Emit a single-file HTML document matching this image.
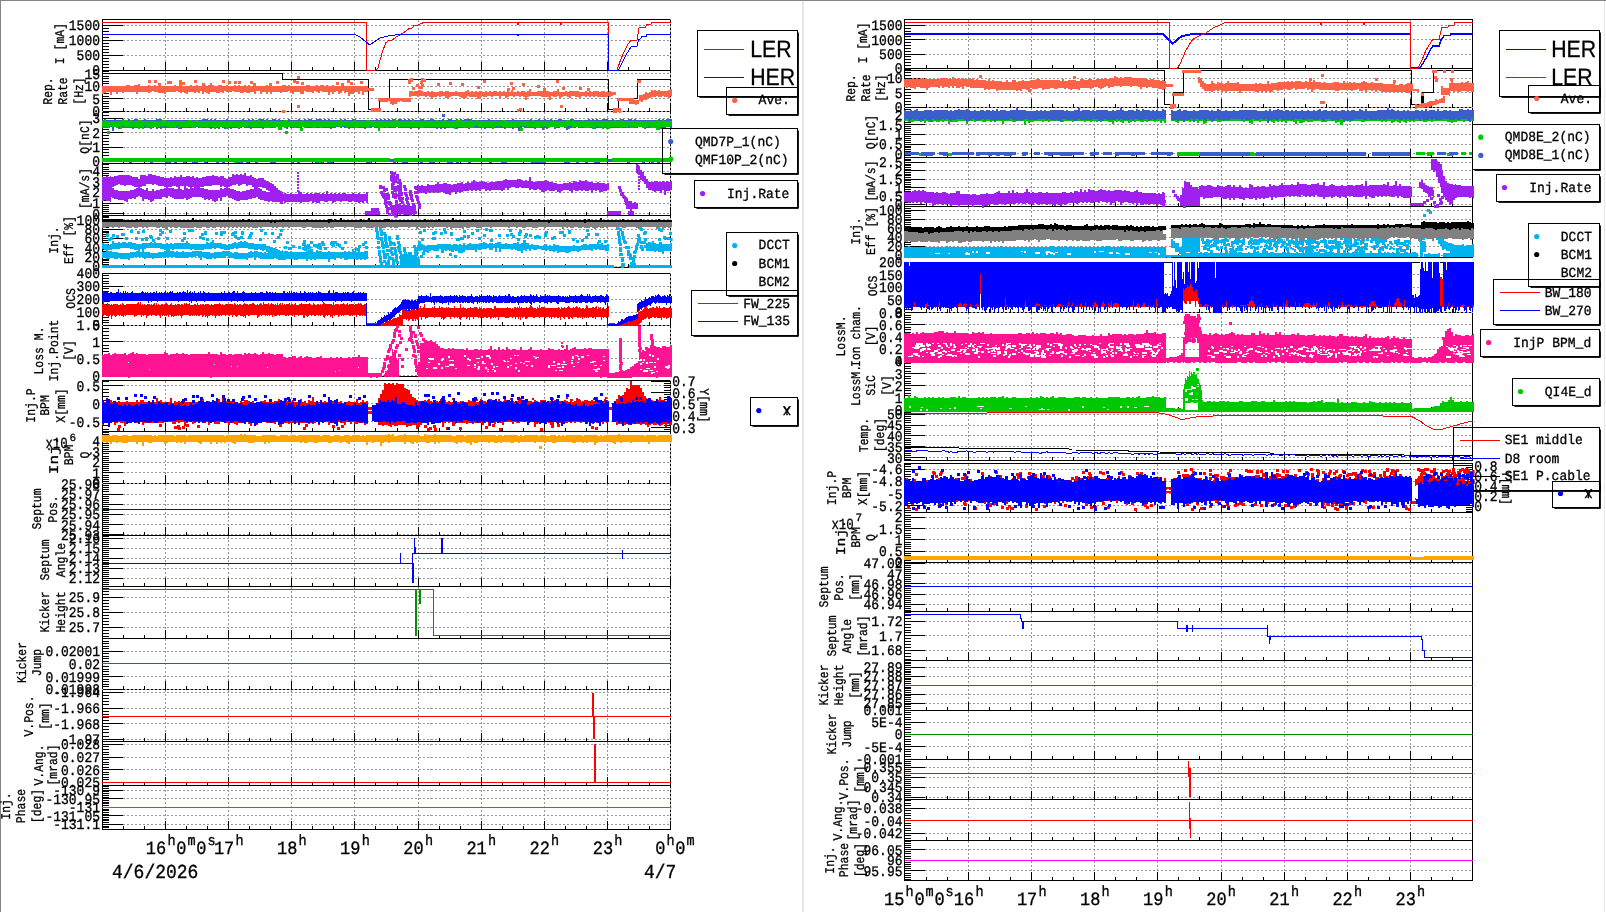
<!DOCTYPE html>
<html lang="en"><head><meta charset="utf-8"><title>Injection monitor</title>
<style>html,body{margin:0;padding:0;background:#fff;}body{width:1606px;height:912px;overflow:hidden;font-family:"Liberation Mono",monospace;}svg{display:block;will-change:transform;}text{stroke:#000;stroke-width:0.3px;}</style></head>
<body>
<svg width="1606" height="912" viewBox="0 0 1606 912" shape-rendering="crispEdges" text-rendering="geometricPrecision">
<rect x="0" y="0" width="1606" height="912" fill="#fff"/>
<rect x="0" y="0" width="1606" height="1" fill="#848484"/>
<rect x="0" y="0" width="1" height="912" fill="#848484"/>
<rect x="802" y="1" width="2" height="912" fill="#e6e6e6"/>
<rect x="1604" y="1" width="1" height="912" fill="#e6e6e6"/>
<path d="M165.5 19.5V70.5M228.5 19.5V70.5M291.5 19.5V70.5M354.5 19.5V70.5M418.5 19.5V70.5M481.5 19.5V70.5M544.5 19.5V70.5M607.5 19.5V70.5M102.5 25.5H670.5M102.5 40.5H670.5M102.5 55.5H670.5M165.5 70.5V111.5M228.5 70.5V111.5M291.5 70.5V111.5M354.5 70.5V111.5M418.5 70.5V111.5M481.5 70.5V111.5M544.5 70.5V111.5M607.5 70.5V111.5M102.5 73.5H670.5M102.5 86.5H670.5M102.5 98.5H670.5M165.5 111.5V163.5M228.5 111.5V163.5M291.5 111.5V163.5M354.5 111.5V163.5M418.5 111.5V163.5M481.5 111.5V163.5M544.5 111.5V163.5M607.5 111.5V163.5M102.5 118.5H670.5M102.5 132.5H670.5M102.5 147.5H670.5M102.5 161.5H670.5M165.5 163.5V215.5M228.5 163.5V215.5M291.5 163.5V215.5M354.5 163.5V215.5M418.5 163.5V215.5M481.5 163.5V215.5M544.5 163.5V215.5M607.5 163.5V215.5M102.5 171.5H670.5M102.5 181.5H670.5M102.5 192.5H670.5M102.5 203.5H670.5M102.5 213.5H670.5M165.5 215.5V267.5M228.5 215.5V267.5M291.5 215.5V267.5M354.5 215.5V267.5M418.5 215.5V267.5M481.5 215.5V267.5M544.5 215.5V267.5M607.5 215.5V267.5M102.5 219.5H670.5M102.5 229.5H670.5M102.5 238.5H670.5M102.5 247.5H670.5M102.5 257.5H670.5M102.5 266.5H670.5M165.5 273.5V325.5M228.5 273.5V325.5M291.5 273.5V325.5M354.5 273.5V325.5M418.5 273.5V325.5M481.5 273.5V325.5M544.5 273.5V325.5M607.5 273.5V325.5M102.5 286.5H670.5M102.5 299.5H670.5M102.5 312.5H670.5M165.5 325.5V376.5M228.5 325.5V376.5M291.5 325.5V376.5M354.5 325.5V376.5M418.5 325.5V376.5M481.5 325.5V376.5M544.5 325.5V376.5M607.5 325.5V376.5M102.5 341.5H670.5M102.5 358.5H670.5M102.5 375.5H670.5M165.5 380.5V431.5M228.5 380.5V431.5M291.5 380.5V431.5M354.5 380.5V431.5M418.5 380.5V431.5M481.5 380.5V431.5M544.5 380.5V431.5M607.5 380.5V431.5M102.5 385.5H670.5M102.5 403.5H670.5M102.5 421.5H670.5M165.5 431.5V483.5M228.5 431.5V483.5M291.5 431.5V483.5M354.5 431.5V483.5M418.5 431.5V483.5M481.5 431.5V483.5M544.5 431.5V483.5M607.5 431.5V483.5M102.5 441.5H670.5M102.5 451.5H670.5M102.5 462.5H670.5M102.5 472.5H670.5M165.5 483.5V535.5M228.5 483.5V535.5M291.5 483.5V535.5M354.5 483.5V535.5M418.5 483.5V535.5M481.5 483.5V535.5M544.5 483.5V535.5M607.5 483.5V535.5M102.5 494.5H670.5M102.5 504.5H670.5M102.5 514.5H670.5M102.5 524.5H670.5M102.5 534.5H670.5M165.5 535.5V586.5M228.5 535.5V586.5M291.5 535.5V586.5M354.5 535.5V586.5M418.5 535.5V586.5M481.5 535.5V586.5M544.5 535.5V586.5M607.5 535.5V586.5M102.5 538.5H670.5M102.5 548.5H670.5M102.5 558.5H670.5M102.5 568.5H670.5M102.5 578.5H670.5M165.5 586.5V638.5M228.5 586.5V638.5M291.5 586.5V638.5M354.5 586.5V638.5M418.5 586.5V638.5M481.5 586.5V638.5M544.5 586.5V638.5M607.5 586.5V638.5M102.5 597.5H670.5M102.5 612.5H670.5M102.5 627.5H670.5M165.5 638.5V689.5M228.5 638.5V689.5M291.5 638.5V689.5M354.5 638.5V689.5M418.5 638.5V689.5M481.5 638.5V689.5M544.5 638.5V689.5M607.5 638.5V689.5M102.5 651.5H670.5M102.5 663.5H670.5M102.5 676.5H670.5M165.5 689.5V741.5M228.5 689.5V741.5M291.5 689.5V741.5M354.5 689.5V741.5M418.5 689.5V741.5M481.5 689.5V741.5M544.5 689.5V741.5M607.5 689.5V741.5M102.5 692.5H670.5M102.5 708.5H670.5M102.5 723.5H670.5M102.5 739.5H670.5M165.5 741.5V785.5M228.5 741.5V785.5M291.5 741.5V785.5M354.5 741.5V785.5M418.5 741.5V785.5M481.5 741.5V785.5M544.5 741.5V785.5M607.5 741.5V785.5M102.5 744.5H670.5M102.5 757.5H670.5M102.5 769.5H670.5M102.5 782.5H670.5M165.5 785.5V829.5M228.5 785.5V829.5M291.5 785.5V829.5M354.5 785.5V829.5M418.5 785.5V829.5M481.5 785.5V829.5M544.5 785.5V829.5M607.5 785.5V829.5M102.5 790.5H670.5M102.5 798.5H670.5M102.5 807.5H670.5M102.5 815.5H670.5M102.5 824.5H670.5" stroke="#969696" stroke-width="1" stroke-dasharray="2 2" fill="none"/>
<path d="M102 19.5H671M102 70.5H671M102.5 19V71M102 70.5H671M102.5 70V112M102 163.5H671M102.5 111V164M102 163.5H671M102 215.5H671M102.5 163V216M102 215.5H671M102 267.5H671M102.5 215V268M102 273.5H671M102.5 273V326M102 376.5H671M102.5 325V377M102 380.5H671M102 431.5H671M102.5 380V432M102 431.5H671M102.5 431V484M102 535.5H671M102.5 483V536M102 535.5H671M102 586.5H671M102.5 535V587M102 586.5H671M102 638.5H671M102.5 586V639M102 638.5H671M102.5 638V690M102 741.5H671M102.5 689V742M102 741.5H671M102 785.5H671M102.5 741V786M102 785.5H671M102 829.5H671M102.5 785V830M670.5 19V71M102 111.5H671M670.5 70V112M670.5 111V164M670.5 163V216M670.5 215V268M102 325.5H671M670.5 273V326M670.5 325V377M670.5 380V432M102 483.5H671M670.5 431V484M670.5 483V536M670.5 535V587M670.5 586V639M102 689.5H671M670.5 638V690M670.5 689V742M670.5 741V786M670.5 785V830" stroke="#000" stroke-width="1" fill="none"/>
<path d="M670.5 19V71M102 111.5H671M670.5 70V112M670.5 111V164M670.5 163V216M670.5 215V268M102 325.5H671M670.5 273V326M670.5 325V377M670.5 380V432M102 483.5H671M670.5 431V484M670.5 483V536M670.5 535V587M670.5 586V639M102 689.5H671M670.5 638V690M670.5 689V742M670.5 741V786M670.5 785V830" stroke="#a8a8a8" stroke-width="1" stroke-dasharray="2 2" stroke-dashoffset="1" fill="none"/>
<path d="M123.5 70.5v-4M144.5 70.5v-4M165.5 70.5v-9M186.5 70.5v-4M207.5 70.5v-4M228.5 70.5v-9M249.5 70.5v-4M270.5 70.5v-4M291.5 70.5v-9M312.5 70.5v-4M333.5 70.5v-4M354.5 70.5v-9M375.5 70.5v-4M397.5 70.5v-4M418.5 70.5v-9M439.5 70.5v-4M460.5 70.5v-4M481.5 70.5v-9M502.5 70.5v-4M523.5 70.5v-4M544.5 70.5v-9M565.5 70.5v-4M586.5 70.5v-4M607.5 70.5v-9M628.5 70.5v-4M649.5 70.5v-4M670.5 70.5v-9M102.5 19.5h6.5M102.5 22.5h6.5M102.5 25.5h20M102.5 28.5h6.5M102.5 31.5h6.5M102.5 34.5h6.5M102.5 37.5h6.5M102.5 40.5h20M102.5 43.5h6.5M102.5 46.5h6.5M102.5 49.5h6.5M102.5 52.5h6.5M102.5 55.5h20M102.5 58.5h6.5M102.5 61.5h6.5M102.5 64.5h6.5M102.5 67.5h6.5M102.5 70.5h20M123.5 111.5v-4M144.5 111.5v-4M165.5 111.5v-9M186.5 111.5v-4M207.5 111.5v-4M228.5 111.5v-9M249.5 111.5v-4M270.5 111.5v-4M291.5 111.5v-9M312.5 111.5v-4M333.5 111.5v-4M354.5 111.5v-9M375.5 111.5v-4M397.5 111.5v-4M418.5 111.5v-9M439.5 111.5v-4M460.5 111.5v-4M481.5 111.5v-9M502.5 111.5v-4M523.5 111.5v-4M544.5 111.5v-9M565.5 111.5v-4M586.5 111.5v-4M607.5 111.5v-9M628.5 111.5v-4M649.5 111.5v-4M670.5 111.5v-9M102.5 71.5h6.5M102.5 73.5h20M102.5 76.5h6.5M102.5 78.5h6.5M102.5 81.5h6.5M102.5 83.5h6.5M102.5 86.5h20M102.5 88.5h6.5M102.5 91.5h6.5M102.5 93.5h6.5M102.5 96.5h6.5M102.5 98.5h20M102.5 101.5h6.5M102.5 103.5h6.5M102.5 106.5h6.5M102.5 108.5h6.5M102.5 111.5h20M123.5 163.5v-4M144.5 163.5v-4M165.5 163.5v-9M186.5 163.5v-4M207.5 163.5v-4M228.5 163.5v-9M249.5 163.5v-4M270.5 163.5v-4M291.5 163.5v-9M312.5 163.5v-4M333.5 163.5v-4M354.5 163.5v-9M375.5 163.5v-4M397.5 163.5v-4M418.5 163.5v-9M439.5 163.5v-4M460.5 163.5v-4M481.5 163.5v-9M502.5 163.5v-4M523.5 163.5v-4M544.5 163.5v-9M565.5 163.5v-4M586.5 163.5v-4M607.5 163.5v-9M628.5 163.5v-4M649.5 163.5v-4M670.5 163.5v-9M102.5 112.5h6.5M102.5 115.5h6.5M102.5 118.5h20M102.5 121.5h6.5M102.5 123.5h6.5M102.5 126.5h6.5M102.5 129.5h6.5M102.5 132.5h20M102.5 135.5h6.5M102.5 138.5h6.5M102.5 141.5h6.5M102.5 144.5h6.5M102.5 147.5h20M102.5 149.5h6.5M102.5 152.5h6.5M102.5 155.5h6.5M102.5 158.5h6.5M102.5 161.5h20M123.5 215.5v-4M144.5 215.5v-4M165.5 215.5v-9M186.5 215.5v-4M207.5 215.5v-4M228.5 215.5v-9M249.5 215.5v-4M270.5 215.5v-4M291.5 215.5v-9M312.5 215.5v-4M333.5 215.5v-4M354.5 215.5v-9M375.5 215.5v-4M397.5 215.5v-4M418.5 215.5v-9M439.5 215.5v-4M460.5 215.5v-4M481.5 215.5v-9M502.5 215.5v-4M523.5 215.5v-4M544.5 215.5v-9M565.5 215.5v-4M586.5 215.5v-4M607.5 215.5v-9M628.5 215.5v-4M649.5 215.5v-4M670.5 215.5v-9M102.5 164.5h6.5M102.5 167.5h6.5M102.5 169.5h6.5M102.5 171.5h20M102.5 173.5h6.5M102.5 175.5h6.5M102.5 177.5h6.5M102.5 179.5h6.5M102.5 181.5h20M102.5 183.5h6.5M102.5 186.5h6.5M102.5 188.5h6.5M102.5 190.5h6.5M102.5 192.5h20M102.5 194.5h6.5M102.5 196.5h6.5M102.5 198.5h6.5M102.5 200.5h6.5M102.5 203.5h20M102.5 205.5h6.5M102.5 207.5h6.5M102.5 209.5h6.5M102.5 211.5h6.5M102.5 213.5h20M102.5 215.5h6.5M123.5 267.5v-4M144.5 267.5v-4M165.5 267.5v-9M186.5 267.5v-4M207.5 267.5v-4M228.5 267.5v-9M249.5 267.5v-4M270.5 267.5v-4M291.5 267.5v-9M312.5 267.5v-4M333.5 267.5v-4M354.5 267.5v-9M375.5 267.5v-4M397.5 267.5v-4M418.5 267.5v-9M439.5 267.5v-4M460.5 267.5v-4M481.5 267.5v-9M502.5 267.5v-4M523.5 267.5v-4M544.5 267.5v-9M565.5 267.5v-4M586.5 267.5v-4M607.5 267.5v-9M628.5 267.5v-4M649.5 267.5v-4M670.5 267.5v-9M102.5 216.5h6.5M102.5 217.5h6.5M102.5 219.5h20M102.5 221.5h6.5M102.5 223.5h6.5M102.5 225.5h6.5M102.5 227.5h6.5M102.5 229.5h20M102.5 231.5h6.5M102.5 232.5h6.5M102.5 234.5h6.5M102.5 236.5h6.5M102.5 238.5h20M102.5 240.5h6.5M102.5 242.5h6.5M102.5 244.5h6.5M102.5 245.5h6.5M102.5 247.5h20M102.5 249.5h6.5M102.5 251.5h6.5M102.5 253.5h6.5M102.5 255.5h6.5M102.5 257.5h20M102.5 259.5h6.5M102.5 260.5h6.5M102.5 262.5h6.5M102.5 264.5h6.5M102.5 266.5h20M123.5 325.5v-4M144.5 325.5v-4M165.5 325.5v-9M186.5 325.5v-4M207.5 325.5v-4M228.5 325.5v-9M249.5 325.5v-4M270.5 325.5v-4M291.5 325.5v-9M312.5 325.5v-4M333.5 325.5v-4M354.5 325.5v-9M375.5 325.5v-4M397.5 325.5v-4M418.5 325.5v-9M439.5 325.5v-4M460.5 325.5v-4M481.5 325.5v-9M502.5 325.5v-4M523.5 325.5v-4M544.5 325.5v-9M565.5 325.5v-4M586.5 325.5v-4M607.5 325.5v-9M628.5 325.5v-4M649.5 325.5v-4M670.5 325.5v-9M102.5 273.5h20M102.5 275.5h6.5M102.5 278.5h6.5M102.5 281.5h6.5M102.5 283.5h6.5M102.5 286.5h20M102.5 288.5h6.5M102.5 291.5h6.5M102.5 294.5h6.5M102.5 296.5h6.5M102.5 299.5h20M102.5 301.5h6.5M102.5 304.5h6.5M102.5 307.5h6.5M102.5 309.5h6.5M102.5 312.5h20M102.5 314.5h6.5M102.5 317.5h6.5M102.5 320.5h6.5M102.5 322.5h6.5M102.5 325.5h20M123.5 376.5v-4M144.5 376.5v-4M165.5 376.5v-9M186.5 376.5v-4M207.5 376.5v-4M228.5 376.5v-9M249.5 376.5v-4M270.5 376.5v-4M291.5 376.5v-9M312.5 376.5v-4M333.5 376.5v-4M354.5 376.5v-9M375.5 376.5v-4M397.5 376.5v-4M418.5 376.5v-9M439.5 376.5v-4M460.5 376.5v-4M481.5 376.5v-9M502.5 376.5v-4M523.5 376.5v-4M544.5 376.5v-9M565.5 376.5v-4M586.5 376.5v-4M607.5 376.5v-9M628.5 376.5v-4M649.5 376.5v-4M670.5 376.5v-9M102.5 328.5h6.5M102.5 331.5h6.5M102.5 335.5h6.5M102.5 338.5h6.5M102.5 341.5h20M102.5 345.5h6.5M102.5 348.5h6.5M102.5 351.5h6.5M102.5 355.5h6.5M102.5 358.5h20M102.5 362.5h6.5M102.5 365.5h6.5M102.5 368.5h6.5M102.5 372.5h6.5M102.5 375.5h20M123.5 431.5v-4M144.5 431.5v-4M165.5 431.5v-9M186.5 431.5v-4M207.5 431.5v-4M228.5 431.5v-9M249.5 431.5v-4M270.5 431.5v-4M291.5 431.5v-9M312.5 431.5v-4M333.5 431.5v-4M354.5 431.5v-9M375.5 431.5v-4M397.5 431.5v-4M418.5 431.5v-9M439.5 431.5v-4M460.5 431.5v-4M481.5 431.5v-9M502.5 431.5v-4M523.5 431.5v-4M544.5 431.5v-9M565.5 431.5v-4M586.5 431.5v-4M607.5 431.5v-9M628.5 431.5v-4M649.5 431.5v-4M670.5 431.5v-9M102.5 381.5h6.5M102.5 385.5h20M102.5 389.5h6.5M102.5 392.5h6.5M102.5 396.5h6.5M102.5 400.5h6.5M102.5 403.5h20M102.5 407.5h6.5M102.5 411.5h6.5M102.5 414.5h6.5M102.5 418.5h6.5M102.5 421.5h20M102.5 425.5h6.5M102.5 429.5h6.5M123.5 483.5v-4M144.5 483.5v-4M165.5 483.5v-9M186.5 483.5v-4M207.5 483.5v-4M228.5 483.5v-9M249.5 483.5v-4M270.5 483.5v-4M291.5 483.5v-9M312.5 483.5v-4M333.5 483.5v-4M354.5 483.5v-9M375.5 483.5v-4M397.5 483.5v-4M418.5 483.5v-9M439.5 483.5v-4M460.5 483.5v-4M481.5 483.5v-9M502.5 483.5v-4M523.5 483.5v-4M544.5 483.5v-9M565.5 483.5v-4M586.5 483.5v-4M607.5 483.5v-9M628.5 483.5v-4M649.5 483.5v-4M670.5 483.5v-9M102.5 432.5h6.5M102.5 434.5h6.5M102.5 437.5h6.5M102.5 439.5h6.5M102.5 441.5h20M102.5 443.5h6.5M102.5 445.5h6.5M102.5 447.5h6.5M102.5 449.5h6.5M102.5 451.5h20M102.5 453.5h6.5M102.5 456.5h6.5M102.5 458.5h6.5M102.5 460.5h6.5M102.5 462.5h20M102.5 464.5h6.5M102.5 466.5h6.5M102.5 468.5h6.5M102.5 470.5h6.5M102.5 472.5h20M102.5 475.5h6.5M102.5 477.5h6.5M102.5 479.5h6.5M102.5 481.5h6.5M102.5 483.5h20M123.5 535.5v-4M144.5 535.5v-4M165.5 535.5v-9M186.5 535.5v-4M207.5 535.5v-4M228.5 535.5v-9M249.5 535.5v-4M270.5 535.5v-4M291.5 535.5v-9M312.5 535.5v-4M333.5 535.5v-4M354.5 535.5v-9M375.5 535.5v-4M397.5 535.5v-4M418.5 535.5v-9M439.5 535.5v-4M460.5 535.5v-4M481.5 535.5v-9M502.5 535.5v-4M523.5 535.5v-4M544.5 535.5v-9M565.5 535.5v-4M586.5 535.5v-4M607.5 535.5v-9M628.5 535.5v-4M649.5 535.5v-4M670.5 535.5v-9M102.5 483.5h20M102.5 485.5h6.5M102.5 487.5h6.5M102.5 489.5h6.5M102.5 491.5h6.5M102.5 494.5h20M102.5 496.5h6.5M102.5 498.5h6.5M102.5 500.5h6.5M102.5 502.5h6.5M102.5 504.5h20M102.5 506.5h6.5M102.5 508.5h6.5M102.5 510.5h6.5M102.5 512.5h6.5M102.5 514.5h20M102.5 516.5h6.5M102.5 518.5h6.5M102.5 520.5h6.5M102.5 522.5h6.5M102.5 524.5h20M102.5 526.5h6.5M102.5 528.5h6.5M102.5 530.5h6.5M102.5 532.5h6.5M102.5 534.5h20M123.5 586.5v-4M144.5 586.5v-4M165.5 586.5v-9M186.5 586.5v-4M207.5 586.5v-4M228.5 586.5v-9M249.5 586.5v-4M270.5 586.5v-4M291.5 586.5v-9M312.5 586.5v-4M333.5 586.5v-4M354.5 586.5v-9M375.5 586.5v-4M397.5 586.5v-4M418.5 586.5v-9M439.5 586.5v-4M460.5 586.5v-4M481.5 586.5v-9M502.5 586.5v-4M523.5 586.5v-4M544.5 586.5v-9M565.5 586.5v-4M586.5 586.5v-4M607.5 586.5v-9M628.5 586.5v-4M649.5 586.5v-4M670.5 586.5v-9M102.5 536.5h6.5M102.5 538.5h20M102.5 540.5h6.5M102.5 542.5h6.5M102.5 544.5h6.5M102.5 546.5h6.5M102.5 548.5h20M102.5 550.5h6.5M102.5 552.5h6.5M102.5 554.5h6.5M102.5 556.5h6.5M102.5 558.5h20M102.5 560.5h6.5M102.5 562.5h6.5M102.5 564.5h6.5M102.5 566.5h6.5M102.5 568.5h20M102.5 570.5h6.5M102.5 572.5h6.5M102.5 574.5h6.5M102.5 576.5h6.5M102.5 578.5h20M102.5 580.5h6.5M102.5 582.5h6.5M102.5 584.5h6.5M102.5 586.5h6.5M123.5 638.5v-4M144.5 638.5v-4M165.5 638.5v-9M186.5 638.5v-4M207.5 638.5v-4M228.5 638.5v-9M249.5 638.5v-4M270.5 638.5v-4M291.5 638.5v-9M312.5 638.5v-4M333.5 638.5v-4M354.5 638.5v-9M375.5 638.5v-4M397.5 638.5v-4M418.5 638.5v-9M439.5 638.5v-4M460.5 638.5v-4M481.5 638.5v-9M502.5 638.5v-4M523.5 638.5v-4M544.5 638.5v-9M565.5 638.5v-4M586.5 638.5v-4M607.5 638.5v-9M628.5 638.5v-4M649.5 638.5v-4M670.5 638.5v-9M102.5 588.5h6.5M102.5 591.5h6.5M102.5 594.5h6.5M102.5 597.5h20M102.5 600.5h6.5M102.5 603.5h6.5M102.5 606.5h6.5M102.5 609.5h6.5M102.5 612.5h20M102.5 615.5h6.5M102.5 618.5h6.5M102.5 621.5h6.5M102.5 624.5h6.5M102.5 627.5h20M102.5 630.5h6.5M102.5 633.5h6.5M102.5 636.5h6.5M123.5 689.5v-4M144.5 689.5v-4M165.5 689.5v-9M186.5 689.5v-4M207.5 689.5v-4M228.5 689.5v-9M249.5 689.5v-4M270.5 689.5v-4M291.5 689.5v-9M312.5 689.5v-4M333.5 689.5v-4M354.5 689.5v-9M375.5 689.5v-4M397.5 689.5v-4M418.5 689.5v-9M439.5 689.5v-4M460.5 689.5v-4M481.5 689.5v-9M502.5 689.5v-4M523.5 689.5v-4M544.5 689.5v-9M565.5 689.5v-4M586.5 689.5v-4M607.5 689.5v-9M628.5 689.5v-4M649.5 689.5v-4M670.5 689.5v-9M102.5 638.5h20M102.5 641.5h6.5M102.5 643.5h6.5M102.5 646.5h6.5M102.5 648.5h6.5M102.5 651.5h20M102.5 653.5h6.5M102.5 656.5h6.5M102.5 658.5h6.5M102.5 661.5h6.5M102.5 663.5h20M102.5 666.5h6.5M102.5 669.5h6.5M102.5 671.5h6.5M102.5 674.5h6.5M102.5 676.5h20M102.5 679.5h6.5M102.5 681.5h6.5M102.5 684.5h6.5M102.5 686.5h6.5M102.5 689.5h20M123.5 741.5v-4M144.5 741.5v-4M165.5 741.5v-9M186.5 741.5v-4M207.5 741.5v-4M228.5 741.5v-9M249.5 741.5v-4M270.5 741.5v-4M291.5 741.5v-9M312.5 741.5v-4M333.5 741.5v-4M354.5 741.5v-9M375.5 741.5v-4M397.5 741.5v-4M418.5 741.5v-9M439.5 741.5v-4M460.5 741.5v-4M481.5 741.5v-9M502.5 741.5v-4M523.5 741.5v-4M544.5 741.5v-9M565.5 741.5v-4M586.5 741.5v-4M607.5 741.5v-9M628.5 741.5v-4M649.5 741.5v-4M670.5 741.5v-9M102.5 692.5h20M102.5 695.5h6.5M102.5 698.5h6.5M102.5 701.5h6.5M102.5 704.5h6.5M102.5 708.5h20M102.5 711.5h6.5M102.5 714.5h6.5M102.5 717.5h6.5M102.5 720.5h6.5M102.5 723.5h20M102.5 726.5h6.5M102.5 729.5h6.5M102.5 732.5h6.5M102.5 736.5h6.5M102.5 739.5h20M123.5 785.5v-4M144.5 785.5v-4M165.5 785.5v-9M186.5 785.5v-4M207.5 785.5v-4M228.5 785.5v-9M249.5 785.5v-4M270.5 785.5v-4M291.5 785.5v-9M312.5 785.5v-4M333.5 785.5v-4M354.5 785.5v-9M375.5 785.5v-4M397.5 785.5v-4M418.5 785.5v-9M439.5 785.5v-4M460.5 785.5v-4M481.5 785.5v-9M502.5 785.5v-4M523.5 785.5v-4M544.5 785.5v-9M565.5 785.5v-4M586.5 785.5v-4M607.5 785.5v-9M628.5 785.5v-4M649.5 785.5v-4M670.5 785.5v-9M102.5 741.5h6.5M102.5 744.5h20M102.5 746.5h6.5M102.5 749.5h6.5M102.5 752.5h6.5M102.5 754.5h6.5M102.5 757.5h20M102.5 759.5h6.5M102.5 762.5h6.5M102.5 764.5h6.5M102.5 767.5h6.5M102.5 769.5h20M102.5 772.5h6.5M102.5 774.5h6.5M102.5 777.5h6.5M102.5 779.5h6.5M102.5 782.5h20M102.5 785.5h6.5M123.5 829.5v-4M144.5 829.5v-4M165.5 829.5v-9M186.5 829.5v-4M207.5 829.5v-4M228.5 829.5v-9M249.5 829.5v-4M270.5 829.5v-4M291.5 829.5v-9M312.5 829.5v-4M333.5 829.5v-4M354.5 829.5v-9M375.5 829.5v-4M397.5 829.5v-4M418.5 829.5v-9M439.5 829.5v-4M460.5 829.5v-4M481.5 829.5v-9M502.5 829.5v-4M523.5 829.5v-4M544.5 829.5v-9M565.5 829.5v-4M586.5 829.5v-4M607.5 829.5v-9M628.5 829.5v-4M649.5 829.5v-4M670.5 829.5v-9M102.5 786.5h6.5M102.5 788.5h6.5M102.5 790.5h20M102.5 791.5h6.5M102.5 793.5h6.5M102.5 795.5h6.5M102.5 797.5h6.5M102.5 798.5h20M102.5 800.5h6.5M102.5 802.5h6.5M102.5 803.5h6.5M102.5 805.5h6.5M102.5 807.5h20M102.5 809.5h6.5M102.5 810.5h6.5M102.5 812.5h6.5M102.5 814.5h6.5M102.5 815.5h20M102.5 817.5h6.5M102.5 819.5h6.5M102.5 820.5h6.5M102.5 822.5h6.5M102.5 824.5h20M102.5 826.5h6.5M102.5 827.5h6.5" stroke="#000" stroke-width="1" fill="none"/>
<g font-family='"Liberation Mono", monospace' font-size="13.0" fill="#000"><text transform="translate(100 30.3) scale(1 1.12)" text-anchor="end">1500</text><text transform="translate(100 45.2) scale(1 1.12)" text-anchor="end">1000</text><text transform="translate(100 60.2) scale(1 1.12)" text-anchor="end">500</text><text transform="translate(100 75.2) scale(1 1.12)" text-anchor="end">0</text><text transform="translate(100 78.5) scale(1 1.12)" text-anchor="end">15</text><text transform="translate(100 91) scale(1 1.12)" text-anchor="end">10</text><text transform="translate(100 103.6) scale(1 1.12)" text-anchor="end">5</text><text transform="translate(100 116.2) scale(1 1.12)" text-anchor="end">0</text><text transform="translate(100 123.1) scale(1 1.12)" text-anchor="end">3</text><text transform="translate(100 137.5) scale(1 1.12)" text-anchor="end">2</text><text transform="translate(100 151.9) scale(1 1.12)" text-anchor="end">1</text><text transform="translate(100 166.3) scale(1 1.12)" text-anchor="end">0</text><text transform="translate(100 176.2) scale(1 1.12)" text-anchor="end">4</text><text transform="translate(100 186.8) scale(1 1.12)" text-anchor="end">3</text><text transform="translate(100 197.3) scale(1 1.12)" text-anchor="end">2</text><text transform="translate(100 208) scale(1 1.12)" text-anchor="end">1</text><text transform="translate(100 218.6) scale(1 1.12)" text-anchor="end">0</text><text transform="translate(100 224.7) scale(1 1.12)" text-anchor="end">100</text><text transform="translate(100 234.1) scale(1 1.12)" text-anchor="end">80</text><text transform="translate(100 243.4) scale(1 1.12)" text-anchor="end">60</text><text transform="translate(100 252.8) scale(1 1.12)" text-anchor="end">40</text><text transform="translate(100 262.1) scale(1 1.12)" text-anchor="end">20</text><text transform="translate(100 271.4) scale(1 1.12)" text-anchor="end">0</text><text transform="translate(100 278.2) scale(1 1.12)" text-anchor="end">400</text><text transform="translate(100 291.2) scale(1 1.12)" text-anchor="end">300</text><text transform="translate(100 304.2) scale(1 1.12)" text-anchor="end">200</text><text transform="translate(100 317.2) scale(1 1.12)" text-anchor="end">100</text><text transform="translate(100 330.2) scale(1 1.12)" text-anchor="end">0</text><text transform="translate(100 329.8) scale(1 1.12)" text-anchor="end">1.5</text><text transform="translate(100 346.7) scale(1 1.12)" text-anchor="end">1</text><text transform="translate(100 363.6) scale(1 1.12)" text-anchor="end">0.5</text><text transform="translate(100 380.5) scale(1 1.12)" text-anchor="end">0</text><text transform="translate(100 390.5) scale(1 1.12)" text-anchor="end">0.5</text><text transform="translate(100 408.6) scale(1 1.12)" text-anchor="end">0</text><text transform="translate(100 426.8) scale(1 1.12)" text-anchor="end">-0.5</text><text transform="translate(100 446.1) scale(1 1.12)" text-anchor="end">4</text><text transform="translate(100 456.7) scale(1 1.12)" text-anchor="end">3</text><text transform="translate(100 467.2) scale(1 1.12)" text-anchor="end">2</text><text transform="translate(100 477.8) scale(1 1.12)" text-anchor="end">1</text><text transform="translate(100 488.3) scale(1 1.12)" text-anchor="end">0</text><text transform="translate(100 488.7) scale(1 1.12)" text-anchor="end">25.98</text><text transform="translate(100 498.9) scale(1 1.12)" text-anchor="end">25.97</text><text transform="translate(100 509.1) scale(1 1.12)" text-anchor="end">25.96</text><text transform="translate(100 519.3) scale(1 1.12)" text-anchor="end">25.95</text><text transform="translate(100 529.5) scale(1 1.12)" text-anchor="end">25.94</text><text transform="translate(100 539.7) scale(1 1.12)" text-anchor="end">25.93</text><text transform="translate(100 543.2) scale(1 1.12)" text-anchor="end">2.16</text><text transform="translate(100 553.2) scale(1 1.12)" text-anchor="end">2.15</text><text transform="translate(100 563.3) scale(1 1.12)" text-anchor="end">2.14</text><text transform="translate(100 573.3) scale(1 1.12)" text-anchor="end">2.13</text><text transform="translate(100 583.3) scale(1 1.12)" text-anchor="end">2.12</text><text transform="translate(100 602.4) scale(1 1.12)" text-anchor="end">25.9</text><text transform="translate(100 617.3) scale(1 1.12)" text-anchor="end">25.8</text><text transform="translate(100 632.2) scale(1 1.12)" text-anchor="end">25.7</text><text transform="translate(100 656.2) scale(1 1.12)" text-anchor="end">0.02001</text><text transform="translate(100 668.8) scale(1 1.12)" text-anchor="end">0.02</text><text transform="translate(100 681.5) scale(1 1.12)" text-anchor="end">0.01999</text><text transform="translate(100 694.1) scale(1 1.12)" text-anchor="end">0.01998</text><text transform="translate(100 697.4) scale(1 1.12)" text-anchor="end">-1.964</text><text transform="translate(100 712.9) scale(1 1.12)" text-anchor="end">-1.966</text><text transform="translate(100 728.5) scale(1 1.12)" text-anchor="end">-1.968</text><text transform="translate(100 744) scale(1 1.12)" text-anchor="end">-1.97</text><text transform="translate(100 749.3) scale(1 1.12)" text-anchor="end">0.028</text><text transform="translate(100 762) scale(1 1.12)" text-anchor="end">0.027</text><text transform="translate(100 774.7) scale(1 1.12)" text-anchor="end">0.026</text><text transform="translate(100 787.4) scale(1 1.12)" text-anchor="end">0.025</text><text transform="translate(100 795.1) scale(1 1.12)" text-anchor="end">-130.9</text><text transform="translate(100 803.6) scale(1 1.12)" text-anchor="end">-130.95</text><text transform="translate(100 812.2) scale(1 1.12)" text-anchor="end">-131</text><text transform="translate(100 820.8) scale(1 1.12)" text-anchor="end">-131.05</text><text transform="translate(100 829.3) scale(1 1.12)" text-anchor="end">-131.1</text></g>
<g font-family='"Liberation Mono", monospace' font-size="13.0" fill="#000"><text transform="translate(64.4 43.6) rotate(-90) scale(0.88 1.02)" text-anchor="middle">I [mA]</text><text transform="translate(52.1 91) rotate(-90) scale(0.88 1.02)" text-anchor="middle">Rep.</text><text transform="translate(67.1 91) rotate(-90) scale(0.88 1.02)" text-anchor="middle">Rate</text><text transform="translate(82.6 91) rotate(-90) scale(0.88 1.02)" text-anchor="middle">[Hz]</text><text transform="translate(89 136.5) rotate(-90) scale(0.88 1.02)" text-anchor="middle">Q[nC]</text><text transform="translate(89 188.5) rotate(-90) scale(0.88 1.02)" text-anchor="middle">[mA/s]</text><text transform="translate(58.4 240) rotate(-90) scale(0.88 1.02)" text-anchor="middle">Inj.</text><text transform="translate(72.6 240) rotate(-90) scale(0.88 1.02)" text-anchor="middle">Eff [%]</text><text transform="translate(75.2 298.4) rotate(-90) scale(0.88 1.02)" text-anchor="middle">OCS</text><text transform="translate(42.6 350.5) rotate(-90) scale(0.88 1.02)" text-anchor="middle">Loss M.</text><text transform="translate(57.6 350.5) rotate(-90) scale(0.88 1.02)" text-anchor="middle">Inj.Point</text><text transform="translate(72.6 350.5) rotate(-90) scale(0.88 1.02)" text-anchor="middle">[V]</text><text transform="translate(34.6 405.5) rotate(-90) scale(0.88 1.02)" text-anchor="middle">Inj.P</text><text transform="translate(49 405.5) rotate(-90) scale(0.88 1.02)" text-anchor="middle">BPM</text><text transform="translate(64.6 405.5) rotate(-90) scale(0.88 1.02)" text-anchor="middle">X[mm]</text><text transform="translate(58.4 455) rotate(-90) scale(1.232 1.02)" text-anchor="middle">Inj.</text><text transform="translate(73.3 455) rotate(-90) scale(0.88 1.02)" text-anchor="middle">BPM</text><text transform="translate(89 455) rotate(-90) scale(0.88 1.02)" text-anchor="middle">Q</text><text transform="translate(40.6 509) rotate(-90) scale(0.88 1.02)" text-anchor="middle">Septum</text><text transform="translate(56.6 509) rotate(-90) scale(0.88 1.02)" text-anchor="middle">Pos.</text><text transform="translate(49 560) rotate(-90) scale(0.88 1.02)" text-anchor="middle">Septum</text><text transform="translate(64.6 560) rotate(-90) scale(0.88 1.02)" text-anchor="middle">Angle</text><text transform="translate(49 612) rotate(-90) scale(0.88 1.02)" text-anchor="middle">Kicker</text><text transform="translate(64.6 612) rotate(-90) scale(0.88 1.02)" text-anchor="middle">Height</text><text transform="translate(25.9 662.5) rotate(-90) scale(0.88 1.02)" text-anchor="middle">Kicker</text><text transform="translate(40.9 662.5) rotate(-90) scale(0.88 1.02)" text-anchor="middle">Jump</text><text transform="translate(33.4 716) rotate(-90) scale(0.88 1.02)" text-anchor="middle">V.Pos.</text><text transform="translate(49 716) rotate(-90) scale(0.88 1.02)" text-anchor="middle">[mm]</text><text transform="translate(42.6 765) rotate(-90) scale(0.88 1.02)" text-anchor="middle">V.Ang.</text><text transform="translate(57.1 765) rotate(-90) scale(0.88 1.02)" text-anchor="middle">[mrad]</text><text transform="translate(10.2 806) rotate(-90) scale(0.88 1.02)" text-anchor="middle">Inj.</text><text transform="translate(25 806) rotate(-90) scale(0.88 1.02)" text-anchor="middle">Phase</text><text transform="translate(40.6 806) rotate(-90) scale(0.88 1.02)" text-anchor="middle">[deg]</text></g>
<path d="M670.5 381.5h-20M670.5 383.5h-6.5M670.5 385.5h-6.5M670.5 387.5h-6.5M670.5 390.5h-6.5M670.5 392.5h-20M670.5 394.5h-6.5M670.5 397.5h-6.5M670.5 399.5h-6.5M670.5 401.5h-6.5M670.5 404.5h-20M670.5 406.5h-6.5M670.5 408.5h-6.5M670.5 411.5h-6.5M670.5 413.5h-6.5M670.5 415.5h-20M670.5 418.5h-6.5M670.5 420.5h-6.5M670.5 422.5h-6.5M670.5 425.5h-6.5M670.5 427.5h-20M670.5 429.5h-6.5" stroke="#000" stroke-width="1" fill="none"/><g font-family='"Liberation Mono", monospace' font-size="13.0" fill="#000"><text transform="translate(672.2 385.9) scale(1 1.12)">0.7</text><text transform="translate(672.2 397.5) scale(1 1.12)">0.6</text><text transform="translate(672.2 409.2) scale(1 1.12)">0.5</text><text transform="translate(672.2 420.8) scale(1 1.12)">0.4</text><text transform="translate(672.2 432.5) scale(1 1.12)">0.3</text><text transform="translate(700 405.5) rotate(90) scale(0.88 1.02)" text-anchor="middle">Y[mm]</text></g><g font-family='"Liberation Mono", monospace' fill="#000"><text transform="translate(45.4 448.2) scale(0.8 1)" font-size="15.5">x10</text><text x="69.6" y="441" font-size="11">6</text></g>
<defs><clipPath id="c102_0"><rect x="101.4" y="18.9" width="571.2" height="53.7"/></clipPath><clipPath id="c102_1"><rect x="101.4" y="70.1" width="571.2" height="43.2"/></clipPath><clipPath id="c102_2"><rect x="101.4" y="110.8" width="571.2" height="54.6"/></clipPath><clipPath id="c102_3"><rect x="101.4" y="162.8" width="571.2" height="54.7"/></clipPath><clipPath id="c102_4"><rect x="101.4" y="215" width="571.2" height="54"/></clipPath><clipPath id="c102_5"><rect x="101.4" y="272.8" width="571.2" height="54.6"/></clipPath><clipPath id="c102_6"><rect x="101.4" y="324.9" width="571.2" height="53.4"/></clipPath><clipPath id="c102_7"><rect x="101.4" y="380" width="571.2" height="53.2"/></clipPath><clipPath id="c102_8"><rect x="101.4" y="430.8" width="571.2" height="54.8"/></clipPath><clipPath id="c102_9"><rect x="101.4" y="483" width="571.2" height="54.2"/></clipPath><clipPath id="c102_10"><rect x="101.4" y="534.8" width="571.2" height="53.6"/></clipPath><clipPath id="c102_11"><rect x="101.4" y="585.9" width="571.2" height="54.4"/></clipPath><clipPath id="c102_12"><rect x="101.4" y="637.8" width="571.2" height="53.6"/></clipPath><clipPath id="c102_13"><rect x="101.4" y="688.9" width="571.2" height="54.4"/></clipPath><clipPath id="c102_14"><rect x="101.4" y="740.8" width="571.2" height="46.9"/></clipPath><clipPath id="c102_15"><rect x="101.4" y="785.1" width="571.2" height="45.9"/></clipPath></defs>
<g clip-path="url(#c102_0)"><path d="M102.4 22.4L366.5 22.4L366.5 70.2L376 70.2L378 68L380 60L383 50L386 42.5L389 40.5L392.5 40L396 37L401.5 34L406 31L410 28L412 28L414 25.5L418 25L420 24L424 22.4L517 22.4L518 24.5L519 22.4L560 22.4L561 24.5L562 22.4L608.2 22.4L608.2 70.2L617 70.2L618.5 66L620.5 60L624 52L627.5 45L631 40L637 40L638 34L639 28L645.8 27L646.5 24.5L650.8 24.5L651.5 22.4L670.6 22.4" stroke="#ff0000" stroke-width="1" fill="none"/><path d="M102.4 34.5L355 34.5L360 37L366 42L370 45L374 42L380 38L390 35.5L400 34.5L517 34.5L518 36L519 34.5L608.2 34.5L608.2 70.2L618.6 70.2L621 65L626 55L631.5 46L637 46L638.5 40L641 38L641.5 36.5L646 36.5L647 34.5L670.6 34.5" stroke="#0000ff" stroke-width="1" fill="none"/></g>
<g><rect x="697.5" y="30.5" width="100" height="66" fill="#fff" stroke="#000" stroke-width="1"/><path d="M798.4 32.5V97.4H699.5" stroke="#000" stroke-width="1" fill="none" shape-rendering="auto"/><path d="M704 49.5H744" stroke="#ff0000" stroke-width="1"/><text transform="translate(750.2 56.9) scale(0.905 1.0)" font-family='"Liberation Sans", sans-serif' font-size="23.5" fill="#000">LER</text><path d="M704 77.5H744" stroke="#0000ff" stroke-width="1"/><text transform="translate(750.2 84.9) scale(0.905 1.0)" font-family='"Liberation Sans", sans-serif' font-size="23.5" fill="#000">HER</text></g>
<g clip-path="url(#c102_1)"><path d="M102.5 73.5H282.5 V73.5H282.5 V79.5H368.5 V79.5H368.5 V109.5H379.5 V109.5H379.5 V100.5H389.5 V100.5H389.5 V79.5H608.5 V79.5H608.5 V109.5H618.5 V109.5H618.5 V98.5H637.5 V98.5H637.5 V79.5H670.5 V79.5" stroke="#000000" stroke-width="1" fill="none"/><path d="M102 86h2h2h2h2h2h2h2h2h2h2h2h2v-1h2h2v1h2h2v-1h2h2v-1h2v2h2h2h2h2v-1h2v1h2h2v-1h2v1h2h2h2h2h2h2h2h2h2v-1h2v1h2h2h2h2h2h2h2v-1h2v1h2h2v-1h2v1h2h2h2v-1h2v1h2v-1h2v-2h2v2h2v1h2h2v-1h2h2v1h2h2v-1h2v1h2h2h2v-1h2v1h2v-1h2v1h2h2v-1h2v1h2v-1h2v1h2h2h2h2h2h2h2h2v-1h2v1h2h2h2h2h2h2h2v-1h2h2v1h2v-1h2v1h2h2h2h2h2h2h2h2v-1h2h2v1h2h2h2v-1h2v1h2v-1h2h2v1h2v-1h2v1h2h2v-1h2v1h2h2h2h2h2h2h2h2h2h2h2h2h2h2h2h2h2V92h-2h-2v3h-2v-4h-2v3h-2v-2h-2h-2v2h-2h-2v2h-2v-4h-2v1h-2v-2h-2v2h-2v1h-2v-3h-2v1h-2v2h-2v-2h-2v3h-2v-3h-2h-2h-2v-1h-2v2h-2v-1h-2v-1h-2v2h-2v-1h-2h-2h-2v-1h-2v3h-2h-2v-2h-2h-2h-2v2h-2v-1h-2v-2h-2v1h-2h-2h-2v1h-2v-1h-2h-2h-2h-2v2h-2v-2h-2v2h-2v-2h-2h-2v2h-2v-3h-2h-2v3h-2v-2h-2h-2v1h-2h-2v-1h-2v1h-2h-2v-1h-2h-2h-2v-1h-2v1h-2h-2h-2v-1h-2v2h-2v-1h-2v1h-2h-2v-1h-2h-2h-2v2h-2v-1h-2v-1h-2v2h-2v-3h-2v2h-2v-1h-2v1h-2v-1h-2h-2h-2v2h-2v-1h-2v-1h-2v1h-2v-1h-2v-1h-2v1h-2h-2h-2h-2h-2v2h-2v-1h-2h-2h-2v-1h-2h-2v-1h-2v1h-2v1h-2v-1h-2h-2h-2h-2h-2v2h-2v-2h-2h-2h-2h-2h-2h-2v1h-2v-1h-2h-2v2h-2v-2h-2h-2v3h-2v-3h-2h-2v1h-2v1h-2z" fill="#ff6347"/><path d="M367 88h2h2h2h1V91h-1h-2h-2h-2z" fill="#ff6347"/><path d="M179 83h3v3h-3zM169 81h3v3h-3zM238 81h3v3h-3zM202 83h3v3h-3zM336 82h3v3h-3zM269 83h3v3h-3zM350 82h3v3h-3zM293 80h3v3h-3zM296 81h3v3h-3zM301 82h3v3h-3zM179 80h3v3h-3zM347 80h3v3h-3zM228 81h3v3h-3zM182 82h3v3h-3zM360 81h3v3h-3zM276 81h3v3h-3zM250 81h3v3h-3zM148 80h3v3h-3zM158 83h3v3h-3zM234 81h3v3h-3zM341 83h3v3h-3zM222 80h3v3h-3zM154 80h3v3h-3zM194 80h3v3h-3zM167 81h3v3h-3zM253 83h3v3h-3z" fill="#ff6347"/><path d="M282 110h3v3h-3zM297 76h3v3h-3zM297 105h3v3h-3z" fill="#ff6347"/><path d="M371 108h2h2h2h2h2V112h-2h-2h-2h-2h-2z" fill="#ff6347"/><path d="M378 98h2h2h2h2h2h2h2h2h2h2h2h2h2h2h2h2h1V102h-1h-2h-2h-2h-2v-1h-2v1h-2h-2v-1h-2v1h-2h-2v-1h-2v1h-2h-2h-2h-2v-1h-2z" fill="#ff6347"/><path d="M390 99h2v1h2h2h1V104h-1h-2v1h-2v-1h-2z" fill="#ff6347"/><path d="M409 91h2h2v1h2v-1h2v1h2h2v-1h2v1h2h2v-1h2v1h2v-1h2v1h2h2h2v-1h2h2v1h2v-1h2h2v1h2h2h2v-1h2v1h2h2h2h2v-1h2v-1h2v2h2v-1h2v1h2v-1h2v1h2v-1h2v1h2h2v-1h2v1h2v-1h2v1h2v-1h2h2v1h2v-1h2v1h2v-1h2v1h2v-1h2v1h2v-2h2v2h2h2v-1h2v1h2v-1h2h2v1h2v-1h2v-2h2v3h2h2h2v-1h2h2h2h2h2h2v1h2h2v-1h2h2v-2h2v3h2h2h2v-1h2v1h2v-1h2h2h2h2h2v1h2h2h2v-1h2v1h2v-1h2v1h2v-1h2h2h2v1h2v-1h2h2v1h2h2v-1h2v1h2V96h-2v1h-2v-1h-2v1h-2h-2h-2h-2h-2v-1h-2v1h-2v-1h-2v1h-2v-1h-2v1h-2v-1h-2h-2v2h-2v-1h-2h-2v-1h-2h-2v2h-2v-1h-2v-1h-2h-2v1h-2v1h-2v-2h-2v1h-2h-2v-1h-2v4h-2v-3h-2h-2h-2h-2v-1h-2h-2h-2h-2h-2h-2v1h-2v3h-2v-3h-2v-1h-2v1h-2v-1h-2h-2v1h-2v-1h-2h-2v1h-2v1h-2v-2h-2h-2v2h-2v-2h-2h-2h-2v1h-2v-1h-2h-2v1h-2h-2v-1h-2v2h-2v1h-2v-2h-2h-2h-2h-2v-1h-2v2h-2v1h-2v-1h-2v-1h-2v-1h-2h-2h-2h-2v1h-2v1h-2h-2v-2h-2h-2v1h-2v-1h-2v1h-2h-2v1h-2v-1h-2v-1h-2v1h-2v-1h-2h-2h-2v1h-2v-1h-2h-2h-2v1h-2z" fill="#ff6347"/><path d="M408 79h3v3h-3zM418 90h3v3h-3zM421 84h3v3h-3zM410 78h3v3h-3zM418 86h3v3h-3zM412 87h3v3h-3zM414 91h3v3h-3zM420 81h3v3h-3zM423 79h3v3h-3zM416 84h3v3h-3zM410 79h3v3h-3zM421 78h3v3h-3zM416 91h3v3h-3zM408 81h3v3h-3z" fill="#ff6347"/><path d="M537 85h3v3h-3zM543 88h3v3h-3zM461 83h3v3h-3zM483 80h3v3h-3zM587 88h3v3h-3zM556 80h3v3h-3zM579 87h3v3h-3zM512 87h3v3h-3zM510 82h3v3h-3zM449 82h3v3h-3zM437 83h3v3h-3zM562 87h3v3h-3zM579 87h3v3h-3zM477 86h3v3h-3zM507 88h3v3h-3zM522 83h3v3h-3z" fill="#ff6347"/><path d="M517 109h3v3h-3zM519 108h3v3h-3zM560 105h3v3h-3zM420 86h3v3h-3z" fill="#ff6347"/><path d="M613 108h2h2h2h2V113h-2v-1h-2v1h-2h-2z" fill="#ff6347"/><path d="M608 92h2h2h2h2V95h-2h-2h-2h-2z" fill="#ff6347"/><path d="M617 98h2h2h2h2h2h2h2h2h1V101h-1h-2h-2h-2h-2h-2h-2h-2h-2z" fill="#ff6347"/><path d="M629 100h2h2h2h2h2V104h-2v1h-2v-1h-2h-2h-2z" fill="#ff6347"/><path d="M639 95h2h2v-1h2v-2h2v1h2v-1h2v-2h2V97h-2v1h-2h-2v2h-2h-2v2h-2v-1h-2z" fill="#ff6347"/><path d="M652 91h2v-1h2v1h2v-1h2v1h2h2h2h2v-1h2v-1h2V96h-2v2h-2v-1h-2h-2v-1h-2v1h-2h-2v-1h-2v1h-2h-2z" fill="#ff6347"/><path d="M637 80h3v3h-3zM638 80h3v3h-3z" fill="#ff6347"/></g>
<g><rect x="726.5" y="87.5" width="71" height="27" fill="none" stroke="#000" stroke-width="1"/><path d="M798.4 89.5V115.4H728.5" stroke="#000" stroke-width="1" fill="none" shape-rendering="auto"/><circle cx="734.7" cy="100.4" r="2.6" fill="#ff6347" shape-rendering="auto"/><text transform="translate(758.6 104.4) scale(1.0 1.07)" font-family='"Liberation Mono", monospace' font-size="13" fill="#000">Ave.</text></g>
<g clip-path="url(#c102_2)"><path d="M102 120h2v-1h2v1h2h2h2h2v-1h2v1h2h2h2v-1h2v1h2h2v-1h2v1h2h2v-1h2h2v1h2h2h2v-1h2v1h2h2h2h2h2v-1h2h2h2v1h2h2h2h2h2h2h2h2h2h2h2h2h2h2h2h2h2h2h2h2v-1h2h2h2v1h2v-1h2v1h2v-1h2v1h2h2h2h2h2v-1h2v1h2h2h2h2h2h2h2v-1h2v1h2h2v-1h2v1h2v-1h2v1h2h2v-1h2h2h2v1h2v-1h2v1h2h2v-1h2h2v1h2v-1h2v1h2h2h2h2v-1h2v1h2h2h2h2v-1h2v1h2h2v-1h2v1h2v-1h2h2v1h2h2v-1h2h2h2v1h2v-1h2v1h2v-1h2v1h2h2h2h2h2v-1h2v1h2v-1h2v1h2h2h2v-1h2h2v1h2h2h2h2h2h2h2h2h2h2v-1h2v1h2v-1h2v1h2v-1h2v1h2v-1h2v1h2v-1h2h2v1h2v-1h2h2v1h2v-1h2v1h2v-1h2v1h2v-1h2v1h2h2h2v-1h2h2v1h2h2h2v-1h2h2v1h2h2h2h2v-1h2v1h2h2v-1h2h2v1h2h2v-1h2v1h2v-1h2v1h2v-1h2h2h2h2v1h2h2h2h2h2h2h2h2v-1h2v1h2h2h2h2h2h2h2h2h2h2h2v-1h2v1h2h2h2h2h2h2h2h2v-1h2v1h2h2h2v-1h2v1h2h2v-1h2v1h2h2v-1h2v1h2h2h2v-1h2h2v1h2h2h2h2v-1h2h2v1h2h2h2h2h2h2h2v-1h2v1h2v-1h2v1h2v-1h2v1h2h2v-1h2h2h2v1h2h2v-1h2v1h2h2h2v-1h2h2v1h2h2v-1h2h2v1h2v-1h2v1h2h2h2h2h2h2h2h2h2h2h2v-1h2v1h2v-1h2v1h2v-1h2h2h2V128h-2v-1h-2h-2v1h-2h-2v1h-2v-1h-2h-2h-2h-2h-2h-2h-2v1h-2v-1h-2v-1h-2h-2v1h-2h-2h-2h-2h-2h-2h-2h-2h-2h-2h-2h-2h-2h-2h-2h-2h-2v1h-2v-1h-2h-2h-2v1h-2v-1h-2h-2h-2h-2h-2h-2h-2h-2v-1h-2v1h-2h-2h-2v1h-2v1h-2v-2h-2v-1h-2h-2v1h-2h-2v1h-2v-2h-2h-2v1h-2v1h-2v-1h-2v2h-2v-2h-2h-2h-2v1h-2v-1h-2h-2h-2h-2h-2v-1h-2v3h-2v1h-2v-3h-2h-2v1h-2v-1h-2h-2v-1h-2v2h-2v-1h-2h-2h-2h-2h-2h-2h-2h-2h-2v1h-2v-1h-2h-2h-2h-2h-2h-2h-2v1h-2v-1h-2h-2h-2h-2h-2v1h-2v-1h-2h-2h-2h-2h-2v1h-2v-1h-2v1h-2v-1h-2v1h-2v-1h-2h-2h-2h-2h-2h-2h-2h-2v1h-2v-1h-2h-2h-2v1h-2v-1h-2h-2h-2h-2h-2h-2v-1h-2v1h-2h-2h-2h-2h-2h-2h-2h-2h-2h-2h-2v-1h-2v1h-2h-2v-1h-2v2h-2v-1h-2h-2h-2h-2h-2h-2h-2v1h-2v-1h-2h-2v-1h-2v1h-2v-1h-2h-2v1h-2h-2v1h-2v-1h-2h-2h-2h-2h-2h-2h-2v-1h-2h-2v1h-2h-2h-2h-2v-1h-2v2h-2v-1h-2h-2h-2h-2h-2v-1h-2v2h-2v-1h-2v-1h-2v1h-2h-2v-1h-2h-2v1h-2h-2h-2h-2h-2v1h-2v-1h-2h-2h-2h-2h-2v1h-2v-1h-2h-2h-2v-1h-2v1h-2v1h-2v-1h-2h-2h-2v1h-2v-1h-2h-2v1h-2v-1h-2v-1h-2v2h-2v-1h-2v-1h-2v1h-2v1h-2v-1h-2h-2h-2h-2v-1h-2v1h-2v-1h-2v1h-2h-2h-2h-2h-2h-2h-2v1h-2h-2v-1h-2h-2h-2h-2h-2h-2h-2h-2v1h-2v-1h-2v1h-2v-2h-2v1h-2v1h-2v-1h-2h-2h-2h-2h-2h-2h-2h-2v1h-2v-1h-2h-2h-2h-2h-2h-2v1h-2v-2h-2h-2v4h-2v-4h-2v1h-2h-2h-2h-2z" fill="#3a5fcd"/><path d="M102 121h2v-1h2v1h2h2h2h2h2h2h2h2v-1h2h2h2v1h2v-1h2v1h2h2h2v-1h2h2v1h2h2h2h2h2h2h2h2h2h2v-1h2h2v1h2h2h2h2h2h2h2h2h2h2h2v-1h2h2v1h2h2v-1h2v1h2h2h2h2h2h2h2h2h2h2h2h2h2h2h2h2h2h2h2h2h2h2h2h2h2h2h2h2v-1h2v1h2v-1h2v1h2h2h2v-1h2v1h2h2h2h2h2h2h2h2v-1h2h2v1h2h2h2h2h2h2h2v-1h2v1h2h2h2h2h2h2h2h2h2h2h2h2h2h2h2h2h2h2v-1h2v1h2h2h2h2h2h2v-1h2v1h2h2h2h2h2v-1h2h2v1h2h2h2h2h2h2h2h2h2h2h2h2v-1h2h2v1h2h2h2h2h2h2h2v-1h2v1h2h2h2h2h2v-1h2v1h2h2h2h2h2v-1h2v1h2h2h2v-1h2v1h2h2h2h2h2v-1h2h2h2v1h2h2h2h2v-1h2v1h2h2v-1h2v1h2h2h2h2h2h2h2h2h2h2h2h2v-1h2h2v1h2h2h2h2h2h2h2h2h2h2h2h2h2v-1h2v1h2h2h2h2h2h2h2h2h2v-1h2v1h2h2h2h2h2h2v-1h2h2v1h2v-1h2v1h2h2h2h2v-1h2v1h2h2h2h2h2h2h2h2h2h2h2h2h2h2h2v-1h2v1h2h2v-1h2v1h2h2h2h2h2h2h2h2h2h2h2h2h2h2h2h2h2v-1h2v1h2h2v-1h2v1h2h2h2h2V126h-2v1h-2h-2h-2h-2h-2v3h-2h-2v-2h-2h-2h-2v-2h-2v1h-2v1h-2h-2v-1h-2h-2h-2h-2v1h-2h-2v-2h-2v2h-2v-1h-2h-2v1h-2v-1h-2h-2h-2h-2h-2v2h-2h-2v-2h-2v2h-2v-2h-2h-2v-1h-2v2h-2v1h-2v-2h-2v1h-2h-2h-2v-1h-2h-2h-2h-2h-2v1h-2v-2h-2h-2v1h-2h-2h-2h-2h-2h-2v1h-2v-1h-2h-2v1h-2v-1h-2v-1h-2v1h-2h-2v1h-2h-2v-1h-2h-2h-2h-2h-2v-1h-2v1h-2v-1h-2v1h-2h-2v1h-2v-1h-2v1h-2v-1h-2v1h-2v-1h-2h-2v-1h-2v1h-2v-1h-2v1h-2v2h-2v-2h-2h-2h-2h-2v1h-2v-1h-2h-2v-1h-2h-2v2h-2h-2h-2v-1h-2v1h-2v-1h-2h-2h-2h-2v2h-2v-2h-2v1h-2v-1h-2h-2h-2h-2h-2h-2h-2h-2h-2h-2h-2h-2h-2v1h-2h-2v-1h-2h-2h-2h-2h-2h-2h-2h-2h-2h-2h-2h-2h-2h-2h-2h-2v1h-2v-1h-2v1h-2h-2v3h-2v-4h-2h-2h-2v-1h-2v2h-2h-2v-1h-2h-2h-2h-2v1h-2h-2v-1h-2h-2h-2v1h-2v-2h-2h-2v1h-2h-2v-1h-2v1h-2h-2h-2h-2h-2h-2h-2v1h-2v-1h-2h-2v1h-2h-2v-1h-2h-2h-2v1h-2v-1h-2h-2h-2h-2v1h-2v-1h-2h-2h-2h-2v1h-2v-1h-2v3h-2h-2v-3h-2v1h-2v-1h-2h-2v1h-2h-2h-2v-1h-2h-2h-2h-2h-2h-2h-2v-1h-2v1h-2h-2h-2h-2v1h-2v-1h-2h-2h-2h-2h-2v2h-2v-2h-2h-2h-2h-2h-2v2h-2v-2h-2h-2h-2v1h-2v-1h-2h-2v1h-2v-1h-2v-1h-2v2h-2h-2v-1h-2h-2h-2h-2h-2h-2v1h-2v-2h-2v2h-2v-1h-2v1h-2v-1h-2h-2v-1h-2v1h-2v-1h-2v1h-2h-2h-2h-2v1h-2v-1h-2v1h-2v-2h-2v3h-2v-2h-2v2h-2v-2h-2h-2h-2h-2h-2h-2h-2v-1h-2v3h-2v-2h-2v1h-2v-1h-2h-2v-1h-2v2h-2v-1h-2h-2h-2z" fill="#00c800"/><path d="M102 159h3h3h3h3h3h3h3h3h3h3h3h3h3h3h3h3h3h3h3h3h3h3h3h3h3h3h3h3h3h3h3h3h3h3h3h3h3h3h3h3h3h3h3h3h3h3h3h3h3h3h3h3h3h3h3h3h3h3h3h3h3h3h3h3h3h3h3h3h3h3h3h3h3h3h3h3h3h3h3h3h3h3h3h3h3h3h3h3h3h3h3h3h3h3h3h3h3h3h3h3h3h3h3h3h3h3h3h3h3h3h3h3h3h3h3h3h3h3h3h3h3h3h3h3h3h3h3h3h3h3h3h3h3h3h3h3h3h3h3h3h3h3h3h3h3h3h3h3h3h3h3h3h3h3h3h3h3h3h3h3h3h3h3h3h3h3h3h3h3h3h3h3h3h3h3h3h3h3h3h3h3h3h3h3h3h3h3h3h3h3V162h-3h-3h-3h-3v1h-3v-1h-3v1h-3v-1h-3h-3v1h-3v-1h-3h-3h-3h-3v1h-3v-1h-3h-3h-3h-3h-3h-3h-3h-3h-3v1h-3h-3v-1h-3h-3v1h-3v-1h-3h-3v1h-3v-1h-3h-3v1h-3h-3v-1h-3h-3h-3h-3h-3h-3v1h-3h-3h-3h-3h-3v-1h-3h-3h-3h-3h-3h-3h-3h-3v1h-3h-3v-1h-3h-3h-3v1h-3v-1h-3h-3h-3h-3h-3h-3v1h-3v-1h-3h-3h-3v1h-3v-1h-3v1h-3h-3v-1h-3h-3h-3h-3v1h-3h-3v-1h-3h-3v1h-3v-1h-3h-3h-3h-3v1h-3h-3v-1h-3h-3v1h-3v-1h-3h-3h-3h-3h-3h-3h-3v1h-3h-3v-1h-3h-3h-3h-3h-3h-3h-3h-3h-3h-3h-3v1h-3h-3v-1h-3v1h-3v-1h-3v1h-3v-1h-3h-3h-3h-3h-3v1h-3v-1h-3v1h-3v-1h-3h-3h-3h-3h-3v1h-3h-3v-1h-3h-3h-3h-3v1h-3v-1h-3h-3v1h-3v-1h-3v1h-3h-3v-1h-3h-3h-3h-3v1h-3v-1h-3v1h-3v-1h-3h-3h-3v1h-3v-1h-3h-3v1h-3h-3v-1h-3h-3v1h-3v-1h-3h-3v1h-3v-1h-3v1h-3h-3v-1h-3h-3h-3h-3v1h-3v-1h-3h-3h-3h-3h-3h-3v1h-3v-1h-3h-3h-3h-3h-3h-3h-3h-3h-3z" fill="#3a5fcd"/><path d="M102 158h3h3h3h3h3h3h3h3h3h3h3h3h3h3h3h3h3h3h3h3h3h3h3h3h3h3h3h3h3h3h3h3h3h3h3h3h3h3h3h3h3h3h3h3h3h3h3h3h3h3h3h3h3h3h3h3h3h3h3h3h3h3h3h3h3h3h3h3h3h3h3h3h3h3h3h3h3h3h3h3h3h3h3h3h3h3h3h3h3h3h3h3h3h3h3h3V162h-3h-3h-3h-3h-3h-3h-3h-3h-3h-3h-3h-3h-3h-3h-3h-3h-3h-3h-3h-3h-3h-3h-3v1h-3v-1h-3h-3h-3h-3h-3h-3h-3h-3h-3h-3h-3h-3h-3h-3h-3h-3h-3h-3h-3h-3h-3h-3h-3h-3h-3h-3h-3v1h-3v-1h-3h-3h-3h-3h-3h-3h-3h-3h-3h-3h-3h-3h-3h-3h-3h-3h-3h-3h-3h-3h-3h-3h-3h-3h-3h-3h-3h-3h-3h-3h-3h-3h-3h-3h-3h-3h-3h-3h-3h-3h-3h-3h-3h-3z" fill="#00c800"/><path d="M394 158h3h3h3h3h3h3h3h3h3h3h3h3h3h3h3h3h3h3h3h3h3h3h3h3h3h3h3h3h3h3h3h3h3h3h3h3h3h3h3h3h3h3h3h3h3h3h3h3h3h3h3h3h3h3h3h3h3h3h3h3h3h3h3h3h3h3h3h3h3h3h3V162h-3h-3h-3h-3h-3h-3h-3h-3h-3h-3h-3h-3h-3h-3h-3h-3h-3h-3h-3h-3h-3h-3h-3h-3h-3h-3h-3h-3h-3h-3h-3h-3h-3h-3h-3h-3h-3h-3h-3h-3h-3h-3h-3h-3h-3h-3h-3h-3h-3h-3h-3h-3h-3h-3h-3h-3h-3h-3h-3h-3h-3h-3h-3h-3h-3h-3h-3h-3h-3h-3h-3z" fill="#00c800"/><path d="M612 158h3h3h3h3h3h3h3h3h3h3h3h3h3h3h3h3h3h3h3h3V162h-3h-3h-3h-3h-3h-3h-3h-3h-3h-3h-3h-3h-3h-3h-3h-3h-3h-3h-3h-3z" fill="#00c800"/><path d="M107 131h3v3h-3zM285 131h3v3h-3zM300 128h3v3h-3zM520 128h3v3h-3zM442 114h3v3h-3z" fill="#00c800"/><path d="M442 114h3v3h-3z" fill="#3a5fcd"/></g>
<g><rect x="662.5" y="128.5" width="135" height="45" fill="none" stroke="#000" stroke-width="1"/><path d="M798.4 130.5V174.4H664.5" stroke="#000" stroke-width="1" fill="none" shape-rendering="auto"/><circle cx="670.7" cy="141.5" r="2.6" fill="#3a5fcd" shape-rendering="auto"/><text transform="translate(695 145.6) scale(1.0 1.07)" font-family='"Liberation Mono", monospace' font-size="13" fill="#000">QMD7P_1(nC)</text><circle cx="670.7" cy="159.1" r="2.6" fill="#00c800" shape-rendering="auto"/><text transform="translate(695 163.5) scale(1.0 1.07)" font-family='"Liberation Mono", monospace' font-size="13" fill="#000">QMF10P_2(nC)</text></g>
<g clip-path="url(#c102_3)"><path d="M102 178h2v-1h2v1h2v-1h2h2h2v-1h2h2v-1h2h2h2h2h2h2v1h2v1h2h2h2v2h2v-4h2h2h2v1h2v-2h2h2v1h2h2v1h2h2v1h2h2v1h2h2h2v-1h2v1h2v-2h2v1h2h2v-2h2v2h2h2v-1h2h2v1h2v-1h2v2h2v-1h2v1h2h2v-1h2h2v-1h2h2h2v-1h2v1h2h2v1h2v-1h2h2v2h2v1h2v-2h2h2v-3h2v1h2v-1h2v1h2v-1h2v1h2v-2h2v3h2h2v-1h2v2h2v1h2v1h2v-1h2h2h2v2h2v1h2v1h2v1h2v1h2v2h2v2h2v2h2v1h2v1h1V201h-1v-1h-2v-1h-2v-2h-2v-1h-2v-2h-2v-1h-2v-2h-2v-1h-2v-2h-2h-2v-1h-2h-2v1h-2h-2v-1h-2v-2h-2h-2v1h-2v-2h-2h-2v1h-2v1h-2v-2h-2v1h-2h-2v1h-2v1h-2v1h-2v-1h-2v-1h-2v1h-2v-2h-2h-2h-2h-2v1h-2h-2h-2h-2v1h-2h-2v1h-2v1h-2v-1h-2v-1h-2v2h-2v-2h-2v-1h-2v4h-2v-4h-2h-2v2h-2v-1h-2v-1h-2h-2v1h-2h-2h-2h-2v-1h-2h-2h-2v-1h-2v-1h-2v1h-2v-1h-2h-2h-2v2h-2h-2v1h-2v1h-2v-1h-2h-2v-1h-2v-1h-2h-2h-2v1h-2v-1h-2h-2v-1h-2v1h-2v1h-2v1h-2v2h-2h-2v-2h-2h-2v-1h-2z" fill="#a020f0"/><path d="M102 189h2h2v-2h2h2v1h2h2v2h2h2v1h2h2h2h2h2h2v-1h2h2v-1h2v-1h2v-1h2v1h2v1h2v1h2v-2h2v3h2h2v-2h2v2h2v-1h2h2v-1h2h2v-1h2v-1h2v1h2h2h2v1h2h2v-1h2v1h2v1h2v-1h2v-1h2v1h2v-1h2h2h2v-1h2v1h2h2h2v1h2h2v1h2h2h2h2h2h2v-2h2v1h2v-1h2v-1h2v1h2v1h2h2v1h2v1h2h2v1h2v-1h2h2v-1h2h2v-1h2h2v-1h2h2h2v1h2v2h2h2v1h2h2h2v-1h2v2h2v-2h2v2h2v1h2h1V204h-1h-2v-2h-2h-2h-2h-2v-1h-2v1h-2v-1h-2h-2v-1h-2h-2v-1h-2v-2h-2v1h-2h-2v1h-2h-2v1h-2h-2h-2h-2v1h-2h-2v-1h-2v-1h-2v-1h-2h-2v-2h-2v1h-2h-2v4h-2v-3h-2v3h-2v1h-2v-1h-2v-2h-2v1h-2v-1h-2v1h-2v-2h-2v-1h-2h-2h-2h-2h-2v1h-2v1h-2v1h-2v-2h-2v1h-2h-2h-2h-2h-2v-1h-2v-1h-2v-1h-2v2h-2v-1h-2h-2v2h-2h-2h-2h-2v2h-2v1h-2v-2h-2v-1h-2h-2v2h-2v-4h-2v-1h-2v1h-2v2h-2v-1h-2v1h-2h-2v3h-2v-1h-2v-1h-2h-2h-2v-1h-2h-2v-1h-2v-1h-2v-1h-2v1h-2h-2v1h-2z" fill="#a020f0"/><path d="M102 177h2h2v-1h2v1h2v-1h1V202h-1v-1h-2h-2v-1h-2v1h-2z" fill="#a020f0"/><path d="M280 193h2v1h2v-1h2v1h2h2v-1h2v1h2h2h2v-3h2v1h2v2h2h2v-1h2v1h2v-1h2v1h2v-1h2h2h2v1h2v-1h2v1h2v-3h2v3h2v-1h2v1h2v-1h2v1h2v-1h2v1h2v-1h2h2v1h2h2h2v-1h2v1h2h2v-1h2v1h2h2h2v-2h2V203h-2v-2h-2v2h-2v-1h-2v1h-2v-1h-2h-2v-1h-2v1h-2h-2v-1h-2h-2h-2v1h-2v-1h-2h-2v1h-2v1h-2v-2h-2h-2v1h-2h-2v-1h-2h-2v2h-2h-2v-1h-2v1h-2v-2h-2v1h-2h-2h-2h-2v1h-2v-1h-2h-2h-2h-2h-2h-2h-2v1h-2v-2h-2h-2z" fill="#a020f0"/><path d="M297 172h2v2h-2zM297 175h2v2h-2zM297 178h2v2h-2zM297 181h2v2h-2zM297 184h2v2h-2zM297 187h2v2h-2zM297 190h2v2h-2z" fill="#a020f0"/><path d="M365 211h2h2h2h2h2h2h2h1V215h-1h-2h-2h-2h-2h-2h-2h-2z" fill="#a020f0"/><path d="M371 208h2h2h2h2V212h-2h-2h-2h-2z" fill="#a020f0"/><path d="M379 186h3v3h-3zM379 185h3v3h-3zM380 191h3v3h-3zM381 193h3v3h-3zM382 195h3v3h-3zM383 196h3v3h-3zM384 199h3v3h-3zM384 202h3v3h-3zM385 205h3v3h-3zM386 207h3v3h-3zM386 209h3v3h-3zM386 211h3v3h-3zM388 213h3v3h-3z" fill="#a020f0"/><path d="M382 186h3v3h-3zM383 189h3v3h-3zM383 189h3v3h-3zM384 193h3v3h-3zM385 195h3v3h-3zM386 197h3v3h-3zM387 201h3v3h-3zM388 202h3v3h-3zM389 203h3v3h-3zM389 207h3v3h-3zM391 208h3v3h-3zM391 211h3v3h-3zM392 213h3v3h-3z" fill="#a020f0"/><path d="M385 188h3v3h-3zM386 193h3v3h-3zM387 194h3v3h-3zM387 197h3v3h-3zM388 201h3v3h-3zM389 202h3v3h-3zM390 205h3v3h-3zM392 206h3v3h-3zM392 209h3v3h-3zM393 212h3v3h-3zM394 215h3v3h-3z" fill="#a020f0"/><path d="M390 171h3v3h-3zM391 172h3v3h-3zM390 175h3v3h-3zM390 178h3v3h-3zM391 179h3v3h-3zM391 183h3v3h-3zM391 186h3v3h-3zM391 187h3v3h-3zM391 191h3v3h-3zM392 194h3v3h-3zM392 195h3v3h-3z" fill="#a020f0"/><path d="M393 172h3v3h-3zM392 174h3v3h-3zM393 176h3v3h-3zM393 177h3v3h-3zM394 180h3v3h-3zM392 182h3v3h-3zM394 186h3v3h-3zM393 188h3v3h-3zM394 189h3v3h-3zM394 193h3v3h-3zM395 194h3v3h-3zM394 196h3v3h-3zM395 200h3v3h-3zM395 202h3v3h-3zM395 203h3v3h-3zM395 207h3v3h-3zM396 210h3v3h-3zM395 210h3v3h-3zM395 216h3v3h-3z" fill="#a020f0"/><path d="M396 174h3v3h-3zM396 177h3v3h-3zM398 179h3v3h-3zM397 181h3v3h-3zM397 185h3v3h-3zM397 188h3v3h-3zM398 190h3v3h-3zM398 192h3v3h-3zM398 195h3v3h-3zM398 197h3v3h-3zM399 199h3v3h-3z" fill="#a020f0"/><path d="M398 181h3v3h-3zM399 182h3v3h-3zM399 184h3v3h-3zM399 187h3v3h-3zM399 190h3v3h-3zM400 192h3v3h-3zM400 193h3v3h-3zM401 197h3v3h-3zM400 199h3v3h-3zM401 201h3v3h-3zM401 205h3v3h-3zM403 205h3v3h-3zM402 208h3v3h-3zM402 211h3v3h-3zM403 212h3v3h-3z" fill="#a020f0"/><path d="M403 185h3v3h-3zM404 188h3v3h-3zM404 192h3v3h-3zM405 194h3v3h-3zM406 197h3v3h-3zM405 198h3v3h-3zM406 201h3v3h-3zM407 203h3v3h-3zM408 207h3v3h-3zM407 207h3v3h-3zM408 210h3v3h-3zM409 213h3v3h-3z" fill="#a020f0"/><path d="M409 190h3v3h-3zM409 193h3v3h-3zM410 194h3v3h-3zM410 197h3v3h-3zM411 199h3v3h-3zM412 203h3v3h-3zM412 204h3v3h-3zM412 207h3v3h-3zM412 211h3v3h-3zM414 211h3v3h-3z" fill="#a020f0"/><path d="M414 186h3v3h-3zM415 187h3v3h-3zM414 191h3v3h-3zM415 195h3v3h-3zM416 196h3v3h-3zM416 198h3v3h-3zM417 201h3v3h-3zM418 203h3v3h-3zM418 206h3v3h-3z" fill="#a020f0"/><path d="M393 205h2v1h2v-2h2v-1h2v3h2v-2h2v1h2v-2h2v3h2h2v-1h2h1V214h-1v1h-2v-1h-2h-2v1h-2h-2v-1h-2h-2v1h-2v-1h-2v1h-2v-1h-2z" fill="#a020f0"/><path d="M417 185h2v1h2v-1h2v1h2h2v-2h2v1h2h2h2v-1h2v-2h2v2h2h2v-1h2h2v1h2h2v1h2v-1h2h2v-1h2h2v-1h2v2h2v-1h2v-1h2v1h2v-1h2v-2h2v2h2h2h2v-1h2v1h2h2v1h2v-1h2h2h2h2v-1h2h2h2v-1h2v-1h2v1h2h2h2h2h2v-1h2h2v1h2v1h2v-1h2v1h2v-4h2v4h2v1h2h2v-1h2h2h2h2v-1h2v1h2v1h2h2v1h2h2v1h2h2h2v-1h2h2h2v-1h2v1h2v-2h2v1h2h2v-2h2v1h2h2v-1h2v2h2h2h2v1h2h2v-1h2v1h2h2h2v1h2v-1h2V190h-2v1h-2h-2v1h-2h-2v-2h-2v1h-2v-1h-2v3h-2v-3h-2v1h-2h-2v-1h-2v1h-2v-1h-2v1h-2h-2v-1h-2v3h-2v-2h-2v-1h-2h-2h-2v1h-2v2h-2v-1h-2v-2h-2v1h-2h-2h-2v-1h-2v1h-2v1h-2h-2v-2h-2v-1h-2v1h-2h-2v-1h-2v1h-2v-2h-2h-2h-2h-2v-1h-2v1h-2h-2v-1h-2h-2v1h-2v2h-2v-2h-2v2h-2v1h-2v-1h-2h-2h-2h-2h-2v1h-2v-1h-2v1h-2v-2h-2h-2v2h-2v-1h-2v1h-2v-1h-2v1h-2v-1h-2v1h-2h-2h-2v1h-2v1h-2v-1h-2v2h-2v-2h-2h-2v3h-2v-1h-2h-2v-1h-2v-1h-2h-2v1h-2v-1h-2v1h-2v-1h-2v1h-2v-1h-2v2h-2v-1h-2h-2h-2v1h-2z" fill="#a020f0"/><path d="M607 211h2h2h2h2h2h2h2V215h-2h-2h-2h-2h-2h-2h-2z" fill="#a020f0"/><path d="M618 186h3v3h-3zM619 189h3v3h-3zM620 193h3v3h-3zM622 195h3v3h-3zM623 196h3v3h-3zM624 199h3v3h-3zM625 202h3v3h-3zM626 204h3v3h-3z" fill="#a020f0"/><path d="M621 192h3v3h-3zM622 195h3v3h-3zM624 197h3v3h-3zM625 198h3v3h-3zM627 201h3v3h-3zM629 203h3v3h-3zM631 204h3v3h-3zM632 206h3v3h-3z" fill="#a020f0"/><path d="M626 202h2h2v-1h2v2h2v-1h2v1h2V209h-2h-2h-2v1h-2v-1h-2h-2z" fill="#a020f0"/><path d="M628 211h2v-1h2v1h2V215h-2h-2h-2z" fill="#a020f0"/><path d="M636 164h2v2h2v4h2v2h2v4h2v3h2v3h2h2h2v-1h2h2v1h2h2v-1h2v1h2v-1h2v1h2v-1h2V190h-2v1h-2h-2v4h-2v-5h-2v3h-2v-2h-2h-2v1h-2v-1h-2v-1h-2h-2v-2h-2v-4h-2v-3h-2v-1h-2v-5h-2v-2h-2z" fill="#a020f0"/><path d="M637 165h2v2h-2zM637 168h2v2h-2zM637 172h2v2h-2zM638 173h2v2h-2zM638 176h2v2h-2zM638 179h2v2h-2zM638 182h2v2h-2zM638 185h2v2h-2zM638 188h2v2h-2z" fill="#a020f0"/></g>
<g><rect x="694.5" y="180.5" width="103" height="27" fill="#fff" stroke="#000" stroke-width="1"/><path d="M798.4 182.5V208.4H696.5" stroke="#000" stroke-width="1" fill="none" shape-rendering="auto"/><circle cx="702.6" cy="193.5" r="2.6" fill="#a020f0" shape-rendering="auto"/><text transform="translate(727 197.5) scale(1.0 1.07)" font-family='"Liberation Mono", monospace' font-size="13" fill="#000">Inj.Rate</text></g>
<g clip-path="url(#c102_4)"><path d="M102 243h2v1h2h2v1h2v-1h2v-3h2v2h2h2v-1h2v1h2v-1h2h2v1h2v-1h2h2v1h2h2v1h2h2h2v-1h2h2h2h2v-1h2v1h2v-1h2v1h2h2h2v1h2h2v-1h2v1h2v-1h2v1h2v-1h2h2h2h2h2h2v-2h2v2h2v1h2h2h2h2h2h2h2h2v-2h2v1h2v-1h2v-2h2v3h2h2h2h2v1h2h2v1h2v-1h2h2v-1h2v-1h2v1h2v-1h2v-1h2v1h2v-1h2v1h2v1h2h2h2v1h2h2h2h2h2h2v2h2h2v1h2v1h2h2v1h2v1h2v1h2v-1h1V260h-1v-4h-2h-2v-1h-2v-1h-2h-2v-1h-2v-1h-2h-2v-2h-2v1h-2v-1h-2v-1h-2v1h-2h-2v-1h-2h-2h-2v-1h-2h-2h-2h-2h-2v1h-2v-1h-2v1h-2h-2v1h-2h-2h-2v-1h-2h-2v-1h-2h-2v1h-2v-1h-2v1h-2h-2h-2h-2v1h-2h-2h-2h-2h-2v-1h-2v1h-2v-1h-2h-2h-2h-2h-2h-2h-2h-2v1h-2v-1h-2v1h-2h-2h-2v-1h-2h-2v-1h-2h-2h-2h-2h-2h-2h-2v1h-2v3h-2v-3h-2v1h-2h-2h-2v-1h-2h-2v-1h-2h-2h-2h-2h-2v1h-2h-2h-2h-2v1h-2h-2v1h-2v-1h-2v-1h-2z" fill="#00b2ee"/><path d="M102 252h2h2v-1h2h2h2v1h2h2h2v1h2h2h2h2h2h2v-1h2h2h2v-1h2v-1h2v2h2h2h2h2h2v1h2h2h2h2v-1h2h2h2v-1h2v-1h2h2v1h2h2v1h2v-1h2v1h2h2v-1h2v1h2h2h2h2v-1h2h2h2h2h2v1h2h2h2h2v1h2h2v-1h2h2h2h2v-1h2h2h2h2v1h2v1h2v-1h2h2v1h2h2h2h2h2v-1h2v-1h2v1h2v-1h2h2v1h2h2v1h2v-1h2v1h2v-1h2v1h2h2h2h2h2h2h1V260h-1h-2h-2v-1h-2v-1h-2v1h-2h-2h-2h-2h-2h-2h-2v-1h-2v-1h-2v3h-2v-3h-2v1h-2h-2v2h-2v-1h-2h-2h-2h-2h-2h-2v-1h-2h-2h-2v-2h-2v2h-2h-2h-2h-2h-2v1h-2v-1h-2v1h-2h-2h-2v-1h-2v-1h-2v3h-2v-2h-2v-2h-2v1h-2h-2h-2h-2v1h-2h-2h-2h-2h-2h-2v-1h-2h-2h-2h-2h-2v1h-2v-1h-2v1h-2h-2h-2h-2v1h-2v-1h-2h-2h-2v1h-2v-1h-2v-1h-2h-2h-2h-2v1h-2h-2v2h-2v-1h-2h-2h-2h-2v-1h-2v1h-2h-2v-1h-2h-2v1h-2h-2v-1h-2h-2z" fill="#00b2ee"/><path d="M250 232h3v3h-3zM116 235h3v3h-3zM220 231h3v3h-3zM112 234h3v3h-3zM110 237h3v3h-3zM215 232h3v3h-3zM183 232h3v3h-3zM137 231h3v3h-3zM249 234h3v3h-3zM231 233h3v3h-3zM248 236h3v3h-3zM220 233h3v3h-3zM204 231h3v3h-3zM277 236h3v3h-3zM199 236h3v3h-3zM122 233h3v3h-3zM145 238h3v3h-3zM106 234h3v3h-3zM259 238h3v3h-3zM232 232h3v3h-3zM145 237h3v3h-3zM157 237h3v3h-3zM166 237h3v3h-3zM206 238h3v3h-3zM279 233h3v3h-3zM280 229h3v3h-3zM260 229h3v3h-3zM201 233h3v3h-3zM241 232h3v3h-3zM141 238h3v3h-3zM202 237h3v3h-3zM191 229h3v3h-3zM241 231h3v3h-3zM188 229h3v3h-3zM150 236h3v3h-3zM240 236h3v3h-3zM183 237h3v3h-3zM223 231h3v3h-3zM199 236h3v3h-3zM234 231h3v3h-3zM159 233h3v3h-3zM121 233h3v3h-3zM234 235h3v3h-3zM135 237h3v3h-3zM125 237h3v3h-3zM130 230h3v3h-3zM149 235h3v3h-3zM152 239h3v3h-3zM271 232h3v3h-3zM237 237h3v3h-3zM204 232h3v3h-3zM273 240h3v3h-3zM106 233h3v3h-3zM161 231h3v3h-3zM181 239h3v3h-3zM108 238h3v3h-3zM159 229h3v3h-3zM264 232h3v3h-3zM142 230h3v3h-3zM169 230h3v3h-3z" fill="#00b2ee"/><path d="M280 252h2h2v-1h2h2v1h2v-1h2v1h2h2h2h2h2h2h2v-1h2v-1h2v2h2h2h2v-2h2v1h2h2v1h2h2h2v-1h2v1h2h2h2h2h2h2h2v-1h2v1h2v-1h2v1h2v-3h2v2h2v1h2v-1h2v1h2h2v-1h2h2V259h-2v1h-2v-1h-2v1h-2v-1h-2v1h-2v-1h-2h-2h-2h-2v1h-2h-2v-2h-2v1h-2v-1h-2h-2v2h-2v-1h-2h-2v3h-2v-3h-2h-2h-2h-2h-2h-2v1h-2v-1h-2v1h-2v-1h-2v2h-2v-2h-2h-2h-2h-2v1h-2h-2v-1h-2h-2h-2h-2v1h-2h-2v-1h-2z" fill="#00b2ee"/><path d="M324 247h3v3h-3zM331 241h3v3h-3zM318 244h3v3h-3zM319 245h3v3h-3zM313 244h3v3h-3zM318 243h3v3h-3zM364 241h3v3h-3zM284 246h3v3h-3zM316 244h3v3h-3zM332 243h3v3h-3zM303 240h3v3h-3zM356 248h3v3h-3zM307 244h3v3h-3zM310 241h3v3h-3zM357 248h3v3h-3zM303 242h3v3h-3zM341 247h3v3h-3zM322 243h3v3h-3zM302 247h3v3h-3zM355 248h3v3h-3zM292 245h3v3h-3zM365 246h3v3h-3zM321 241h3v3h-3zM288 247h3v3h-3zM289 247h3v3h-3zM338 244h3v3h-3zM357 248h3v3h-3zM334 241h3v3h-3zM332 244h3v3h-3zM304 248h3v3h-3zM344 241h3v3h-3zM302 243h3v3h-3zM331 243h3v3h-3zM319 247h3v3h-3zM298 246h3v3h-3zM310 249h3v3h-3zM362 243h3v3h-3zM333 241h3v3h-3zM317 246h3v3h-3zM336 243h3v3h-3zM286 241h3v3h-3zM330 242h3v3h-3zM308 246h3v3h-3zM358 245h3v3h-3zM304 245h3v3h-3zM306 247h3v3h-3z" fill="#00b2ee"/><path d="M375 227h3v3h-3zM375 229h3v3h-3zM376 231h3v3h-3zM376 234h3v3h-3zM376 236h3v3h-3zM377 237h3v3h-3zM377 241h3v3h-3zM377 241h3v3h-3zM377 246h3v3h-3zM378 250h3v3h-3zM378 250h3v3h-3zM378 253h3v3h-3zM379 256h3v3h-3zM379 258h3v3h-3zM379 260h3v3h-3zM380 262h3v3h-3z" fill="#00b2ee"/><path d="M379 227h3v3h-3zM379 228h3v3h-3zM380 230h3v3h-3zM380 233h3v3h-3zM380 237h3v3h-3zM380 238h3v3h-3zM381 241h3v3h-3zM381 244h3v3h-3zM382 244h3v3h-3zM382 246h3v3h-3zM382 250h3v3h-3zM383 253h3v3h-3zM383 256h3v3h-3zM384 256h3v3h-3zM383 260h3v3h-3zM385 262h3v3h-3z" fill="#00b2ee"/><path d="M383 232h3v3h-3zM384 234h3v3h-3zM384 237h3v3h-3zM384 239h3v3h-3zM385 242h3v3h-3zM385 245h3v3h-3zM386 245h3v3h-3zM386 249h3v3h-3zM386 253h3v3h-3zM388 256h3v3h-3zM388 257h3v3h-3zM387 260h3v3h-3zM387 263h3v3h-3z" fill="#00b2ee"/><path d="M388 236h3v3h-3zM388 238h3v3h-3zM389 241h3v3h-3zM389 243h3v3h-3zM390 247h3v3h-3zM389 249h3v3h-3zM390 251h3v3h-3zM391 253h3v3h-3zM391 257h3v3h-3zM392 259h3v3h-3zM392 262h3v3h-3zM392 264h3v3h-3z" fill="#00b2ee"/><path d="M392 242h3v3h-3zM392 242h3v3h-3zM393 243h3v3h-3zM393 247h3v3h-3zM394 249h3v3h-3zM394 252h3v3h-3zM395 254h3v3h-3zM395 257h3v3h-3zM395 259h3v3h-3zM396 261h3v3h-3zM396 265h3v3h-3zM397 265h3v3h-3z" fill="#00b2ee"/><path d="M396 235h3v3h-3zM396 237h3v3h-3zM397 241h3v3h-3zM398 244h3v3h-3zM397 246h3v3h-3zM398 248h3v3h-3zM398 249h3v3h-3zM399 251h3v3h-3zM399 256h3v3h-3zM400 256h3v3h-3zM400 261h3v3h-3z" fill="#00b2ee"/><path d="M403 247h3v3h-3zM403 249h3v3h-3zM404 252h3v3h-3zM404 254h3v3h-3zM405 256h3v3h-3zM405 258h3v3h-3zM406 260h3v3h-3zM406 264h3v3h-3z" fill="#00b2ee"/><path d="M408 252h3v3h-3zM409 252h3v3h-3zM409 256h3v3h-3zM410 258h3v3h-3zM411 260h3v3h-3zM411 264h3v3h-3z" fill="#00b2ee"/><path d="M413 245h3v3h-3zM414 248h3v3h-3zM414 249h3v3h-3zM415 251h3v3h-3zM415 253h3v3h-3zM416 257h3v3h-3zM417 259h3v3h-3zM417 262h3v3h-3z" fill="#00b2ee"/><path d="M400 252h2v2h2v-1h2v1h2v1h2h2h2v-3h2v1h1V267h-1v-1h-2v1h-2h-2h-2v-1h-2h-2h-2h-2z" fill="#00b2ee"/><path d="M417 245h2v-4h2v3h2v1h2v1h2v-1h2h2h2h2h2v-1h2h2h2h2h2h2h2v1h2v-1h2h2v1h2v-1h2v1h2v-2h2v2h2v-1h2v-1h2v1h2h2h2h2v-1h2h2v-1h2v1h2v1h2v-1h2h2v1h2v-1h2v-1h2h2v2h2h2v-1h2v1h2h2h2v-1h2h2v-1h2v2h2v-1h2h2h2h2v2h2v-1h2v1h2h2h2v1h2h2v-1h2v-1h2v2h2v-1h2v1h2v-2h2v1h2h2v1h2h2h2h2h2h2h2v-1h2v1h2h2h2v-1h2v-1h2h2v1h2v-1h2h2h2h2v-2h2v2h2v-1h2v2h2h2v-1h2V251h-2h-2v-1h-2h-2h-2v-1h-2v1h-2v-1h-2v2h-2v-1h-2h-2h-2h-2h-2v1h-2v1h-2v-1h-2h-2h-2v1h-2v1h-2h-2v-1h-2h-2h-2v1h-2v-2h-2v1h-2v-1h-2h-2v-1h-2v1h-2v-1h-2h-2v-1h-2h-2v1h-2h-2v-1h-2v2h-2v-2h-2v2h-2v-1h-2v3h-2v-2h-2h-2v-1h-2v-1h-2v1h-2v-1h-2h-2h-2h-2h-2v3h-2v-4h-2v4h-2v-4h-2v2h-2h-2v-2h-2v1h-2h-2h-2v1h-2v-1h-2v3h-2v-2h-2h-2h-2h-2h-2v2h-2v1h-2v-2h-2h-2h-2v-1h-2v1h-2h-2v-1h-2v1h-2v-1h-2h-2v-1h-2v2h-2v-1h-2v1h-2v-1h-2v1h-2v2h-2v-1h-2h-2v-2h-2v1h-2h-2z" fill="#00b2ee"/><path d="M419 231h3v3h-3zM587 233h3v3h-3zM457 238h3v3h-3zM586 229h3v3h-3zM512 235h3v3h-3zM440 232h3v3h-3zM534 236h3v3h-3zM536 235h3v3h-3zM489 229h3v3h-3zM421 238h3v3h-3zM581 239h3v3h-3zM432 237h3v3h-3zM450 232h3v3h-3zM456 238h3v3h-3zM572 238h3v3h-3zM490 239h3v3h-3zM467 235h3v3h-3zM545 231h3v3h-3zM490 229h3v3h-3zM568 230h3v3h-3zM444 231h3v3h-3zM538 236h3v3h-3zM517 238h3v3h-3zM559 231h3v3h-3zM519 230h3v3h-3zM463 230h3v3h-3zM432 232h3v3h-3zM585 236h3v3h-3zM434 231h3v3h-3zM529 234h3v3h-3zM423 229h3v3h-3zM524 235h3v3h-3zM433 237h3v3h-3zM463 235h3v3h-3zM518 232h3v3h-3zM596 233h3v3h-3zM498 234h3v3h-3zM576 240h3v3h-3zM563 234h3v3h-3zM553 236h3v3h-3zM598 240h3v3h-3zM561 231h3v3h-3zM525 233h3v3h-3zM461 237h3v3h-3zM460 237h3v3h-3zM510 233h3v3h-3zM551 237h3v3h-3zM604 240h3v3h-3zM568 231h3v3h-3zM544 234h3v3h-3zM595 233h3v3h-3zM485 228h3v3h-3zM506 234h3v3h-3zM476 229h3v3h-3zM509 229h3v3h-3zM450 233h3v3h-3zM483 234h3v3h-3zM518 233h3v3h-3zM443 228h3v3h-3zM523 240h3v3h-3zM471 232h3v3h-3zM478 237h3v3h-3z" fill="#00b2ee"/><path d="M449 253h3v3h-3zM418 242h3v3h-3zM431 246h3v3h-3zM443 246h3v3h-3zM478 247h3v3h-3zM454 255h3v3h-3zM458 250h3v3h-3zM469 245h3v3h-3zM420 255h3v3h-3zM451 249h3v3h-3zM422 252h3v3h-3zM441 250h3v3h-3zM436 255h3v3h-3zM441 244h3v3h-3zM473 244h3v3h-3zM435 248h3v3h-3z" fill="#00b2ee"/><path d="M616 227h3v3h-3zM617 231h3v3h-3zM617 232h3v3h-3zM617 233h3v3h-3zM618 236h3v3h-3zM618 239h3v3h-3zM618 241h3v3h-3zM619 243h3v3h-3zM619 247h3v3h-3zM619 249h3v3h-3zM620 253h3v3h-3zM619 253h3v3h-3zM621 257h3v3h-3zM621 259h3v3h-3zM621 263h3v3h-3zM622 263h3v3h-3zM621 265h3v3h-3z" fill="#00b2ee"/><path d="M619 228h3v3h-3zM621 231h3v3h-3zM621 233h3v3h-3zM622 236h3v3h-3zM622 237h3v3h-3zM623 240h3v3h-3zM624 241h3v3h-3zM625 246h3v3h-3zM627 246h3v3h-3zM627 250h3v3h-3zM628 253h3v3h-3z" fill="#00b2ee"/><path d="M627 253h3v3h-3zM629 254h3v3h-3zM629 257h3v3h-3zM632 259h3v3h-3zM633 263h3v3h-3z" fill="#00b2ee"/><path d="M630 262h3v3h-3zM632 260h3v3h-3zM632 257h3v3h-3zM633 255h3v3h-3zM633 251h3v3h-3zM634 250h3v3h-3zM635 247h3v3h-3zM635 245h3v3h-3zM636 243h3v3h-3zM637 240h3v3h-3zM637 238h3v3h-3z" fill="#00b2ee"/><path d="M637 234h3v3h-3zM638 237h3v3h-3zM638 240h3v3h-3zM640 241h3v3h-3zM640 245h3v3h-3zM641 248h3v3h-3z" fill="#00b2ee"/><path d="M640 246h3v3h-3zM644 245h3v3h-3zM646 243h3v3h-3z" fill="#00b2ee"/><path d="M663 236h3v3h-3zM670 238h3v3h-3zM644 231h3v3h-3zM644 238h3v3h-3zM659 242h3v3h-3zM640 228h3v3h-3zM669 232h3v3h-3zM648 242h3v3h-3zM643 241h3v3h-3zM667 237h3v3h-3zM658 228h3v3h-3zM658 238h3v3h-3zM663 236h3v3h-3zM643 232h3v3h-3zM660 229h3v3h-3zM643 232h3v3h-3zM664 237h3v3h-3zM651 243h3v3h-3z" fill="#00b2ee"/><path d="M646 244h2h2h2v-3h2v2h2v1h2h2h2h2h2h2h2v-1h2V251h-2h-2h-2h-2v3h-2v-2h-2h-2v-1h-2v1h-2v-1h-2h-2h-2h-2z" fill="#00b2ee"/><path d="M102 265h4h4h4h4h4h4h4h4h4h4h4h4h4h4h4h4h4h4h4h4h4h4h4h4h4h4h4h4h4h4h4h4h4h4h4h4h4h4h4h4h4h4h4h4h4h4h4h4h4h4h4h4h4h4h4h4h4h4h4h4h4h4h4h4h4h4h4h4h4h4h4h4h4h4h4h4h4h4h4h4h4h4h4h4h4h4h4h4h4h4h4h4h4h4h4h4h4h4h4h4h4h4h4h4h4h4h4h4h4h4h4h4h4h4h4h4h4h4h4h4h4h4h4h4h4h4h4h4V268h-4h-4h-4h-4h-4h-4h-4h-4h-4h-4h-4h-4h-4h-4h-4h-4h-4h-4h-4h-4h-4h-4h-4h-4h-4h-4h-4h-4h-4h-4h-4h-4h-4h-4h-4h-4h-4h-4h-4h-4h-4h-4h-4h-4h-4h-4h-4h-4h-4h-4h-4h-4h-4h-4h-4h-4h-4h-4h-4h-4h-4h-4h-4h-4h-4h-4h-4h-4h-4h-4h-4h-4h-4h-4h-4h-4h-4h-4h-4h-4h-4h-4h-4h-4h-4h-4h-4h-4h-4h-4h-4h-4h-4h-4h-4h-4h-4h-4h-4h-4h-4h-4h-4h-4h-4h-4h-4h-4h-4h-4h-4h-4h-4h-4h-4h-4h-4h-4h-4h-4h-4h-4h-4h-4h-4h-4h-4h-4z" fill="#00b2ee"/><path d="M629 265h4h4h4h4h4h4h4h4h4h4h3V268h-3h-4h-4h-4h-4h-4h-4h-4h-4h-4h-4z" fill="#00b2ee"/><path d="M102 221h2v1h2v-1h2h2h2h2h2v1h2v-1h2h2v1h2v-1h2h2h2h2h2v1h2v-1h2h2v1h2v-1h2v1h2h2v-1h2h2h2h2h2h2h2v1h2v-1h2h2h2h2v1h2h2v-1h2h2h2v1h2v-1h2h2h2h2h2h2h2h2h2h2h2h2v1h2v-1h2h2v1h2v-1h2h2h2h2v1h2h2h2h2v-1h2h2h2h2h2h2v1h2v-1h2h2h2h2v1h2v-1h2v1h2v-1h2h2h2h2v1h2h2v-1h2h2h2h2v1h2v-1h2v1h2v-1h2h2h2v1h2v-1h2h2h2h2v1h2v-1h2v1h2h2v-1h2h2h2h2h2h2h2h2h2h2h2h2v1h2v-1h2h2h2h2h2h2h2h2v1h2v-1h2h2v1h2v-1h2h2v1h2v-1h2v1h2v-1h2h2h2h2v1h2h2v-1h2v1h2v-1h2h2h2v1h2v-1h2h2h2h2h2v1h2h2v-1h2h2h2v1h2v-1h2h2h2v1h2v-1h2v1h2h2v-1h2v1h2v-1h2v1h2v-1h2h2h2h2h2h2h2h2h2h2h2h2h2h2h2v1h2v-1h2h2v1h2v-1h2v1h2v-1h2h2v1h2v-1h2v1h2h2h2h2v-1h2h2h2v1h2h2v-1h2v1h2h2h2v-1h2h2h2h2h2h2h2h2h2h2h2h2h2h2v1h2h2v-1h2h2h2h2v1h2h2v-1h2h2h2h2h2v1h2v-1h2h2h2h2h2h2h2v1h2v-1h2h2h2v1h2v-1h2h2h2h2h2v1h2v-1h2h2v1h2v-1h2h2h2h2h2h2v1h2v-1h2h2h2h2h2h2v1h2v-1h2h2h2v1h2h2h2v-1h2h2h2h2h2h2h2h2v1h2h2V227h-2v1h-2v-1h-2v1h-2v1h-2v-2h-2v1h-2v1h-2v-2h-2h-2h-2h-2h-2h-2h-2v1h-2v1h-2v-1h-2v-1h-2h-2h-2h-2h-2v1h-2h-2v-1h-2h-2h-2h-2h-2h-2h-2v1h-2v-1h-2v1h-2h-2v-1h-2v1h-2v1h-2v-1h-2v-1h-2v1h-2h-2h-2v-1h-2v1h-2h-2v-1h-2h-2v1h-2h-2v-1h-2v1h-2v-1h-2v2h-2v-2h-2h-2h-2h-2h-2h-2h-2h-2v1h-2v-1h-2h-2h-2v1h-2h-2h-2v-1h-2h-2h-2v1h-2h-2v-1h-2h-2v1h-2v-1h-2h-2h-2v1h-2v-1h-2h-2h-2h-2h-2h-2h-2h-2v1h-2v-1h-2h-2h-2h-2v1h-2h-2h-2v-1h-2h-2h-2v1h-2h-2v-1h-2v2h-2v-1h-2h-2h-2h-2h-2v1h-2v-2h-2v1h-2v-1h-2h-2h-2h-2h-2h-2v1h-2v-1h-2v1h-2v-1h-2v1h-2h-2h-2v-1h-2v2h-2v-2h-2h-2h-2v1h-2v-1h-2h-2h-2h-2h-2v1h-2h-2v-1h-2v1h-2v-1h-2h-2v1h-2h-2h-2v-1h-2v1h-2v-1h-2v1h-2h-2h-2h-2v-1h-2h-2v1h-2h-2h-2h-2v-1h-2h-2h-2h-2v1h-2v-1h-2h-2h-2h-2h-2v1h-2h-2v-1h-2v1h-2v-1h-2v1h-2h-2h-2h-2h-2h-2v-1h-2h-2h-2v1h-2h-2v-1h-2h-2h-2h-2h-2h-2v1h-2v-1h-2h-2v1h-2v-1h-2h-2v1h-2v-1h-2v1h-2v-1h-2h-2h-2h-2h-2v1h-2v-1h-2v1h-2h-2h-2v-1h-2v1h-2v-1h-2v1h-2v-1h-2v1h-2v-1h-2v1h-2v-1h-2v1h-2v-1h-2v1h-2v-1h-2v1h-2v-1h-2v1h-2v-1h-2h-2v1h-2h-2v-1h-2v1h-2h-2v-1h-2h-2v1h-2h-2h-2v-1h-2v1h-2h-2h-2h-2h-2h-2h-2v-1h-2v1h-2h-2v-1h-2v1h-2v-1h-2v3h-2v-2h-2h-2v-1h-2v1h-2h-2v-1h-2h-2h-2h-2v1h-2v-1h-2v1h-2v-1h-2h-2v1h-2h-2v-1h-2v1h-2h-2h-2v-1h-2h-2h-2v1h-2v-1h-2h-2v1h-2v-1h-2h-2h-2v1h-2h-2z" fill="#808080"/><path d="M102 219h2v1h2h2h2h2h2h2h2h2h2h2h2h2h2h2h2h2v-1h2v1h2v-1h2v1h2h2h2h2h2h2h2h2v-1h2v1h2h2h2h2h2h2h2v-1h2v1h2h2h2h2h2h2h2h2v-2h2v2h2h2h2h2h2h2h2h2v-1h2v1h2h2h2h2h2h2h2h2h2h2h2h2h2h2h2v-1h2v1h2h2v-1h2v1h2h2h2h2h2h2h2h2h2h2h2h2h2h2h2h2v-1h2v1h2h2h2h2h2h2h2h2h2h2h2v-1h2v1h2h2h2h2h2h2h2h2h2h2v-1h2h2v1h2v-1h2v1h2h2v-2h2v2h2h2h2h2h2h2h2h2h2v-1h2v1h2h2h2v-2h2v2h2h2h2h2h2h2h2v-1h2h2h2v1h2h2h2h2h2h2h2h2h2h2h2h2h2h2h2h2h2v-1h2v1h2h2h2h2h2h2v-1h2v1h2h2h2h2h2h2v-2h2v2h2h2h2h2h2h2h2h2h2v-1h2v1h2h2h2h2h2h2h2h2h2h2h2h2h2v-1h2v1h2h2h2h2h2v-1h2v1h2h2h2h2h2h2h2v-1h2h2v1h2h2h2v-1h2v1h2h2h2h2h2v-1h2v1h2h2h2h2h2h2h2v-1h2v1h2h2h2h2h2h2h2h2v-1h2v1h2v-1h2v1h2h2h2h2h2v-2h2v2h2h2h2h2h2h2h2h2h2h2v-1h2v1h2h2h2h2h2h2h2h2v-1h2v1h2h2h2h2h2h2h2h2v-1h2v1h2h2h2h2h2h2V222h-2h-2h-2h-2h-2h-2h-2h-2h-2h-2h-2h-2h-2h-2h-2h-2h-2h-2h-2h-2h-2h-2h-2h-2h-2h-2h-2h-2h-2h-2h-2h-2h-2h-2h-2h-2h-2h-2h-2h-2h-2h-2h-2v1h-2v-1h-2h-2h-2h-2h-2h-2h-2h-2h-2h-2h-2h-2h-2h-2h-2h-2h-2v1h-2v-1h-2h-2h-2h-2h-2h-2h-2h-2h-2h-2h-2h-2h-2h-2h-2h-2h-2h-2h-2h-2h-2h-2h-2h-2h-2h-2h-2h-2h-2h-2h-2h-2h-2h-2h-2h-2h-2h-2h-2h-2h-2h-2h-2h-2h-2h-2h-2h-2h-2h-2h-2h-2h-2h-2h-2h-2h-2h-2h-2h-2h-2h-2h-2h-2h-2h-2h-2h-2h-2h-2h-2h-2h-2h-2h-2h-2h-2h-2h-2h-2h-2h-2h-2h-2h-2h-2h-2h-2h-2h-2h-2h-2h-2h-2h-2h-2h-2h-2h-2h-2h-2h-2h-2h-2h-2h-2h-2h-2h-2v1h-2v-1h-2h-2h-2h-2h-2h-2h-2h-2h-2h-2h-2h-2h-2h-2h-2h-2h-2h-2h-2h-2h-2h-2h-2h-2h-2h-2v1h-2v-1h-2v1h-2v-1h-2h-2h-2h-2h-2h-2h-2h-2h-2h-2h-2h-2h-2h-2h-2h-2h-2h-2h-2h-2h-2h-2h-2h-2h-2h-2h-2h-2h-2h-2h-2h-2h-2h-2h-2h-2h-2h-2h-2h-2h-2h-2h-2h-2h-2h-2h-2h-2h-2h-2h-2h-2h-2h-2h-2h-2h-2h-2h-2h-2h-2h-2h-2h-2h-2h-2h-2h-2h-2h-2h-2h-2h-2h-2h-2h-2h-2h-2h-2h-2h-2h-2h-2h-2z" fill="#000000"/></g>
<g><rect x="726.5" y="232.5" width="71" height="63" fill="none" stroke="#000" stroke-width="1"/><path d="M798.4 234.5V296.4H728.5" stroke="#000" stroke-width="1" fill="none" shape-rendering="auto"/><circle cx="734.7" cy="245.6" r="2.6" fill="#00b2ee" shape-rendering="auto"/><text transform="translate(758.6 249.4) scale(1.0 1.07)" font-family='"Liberation Mono", monospace' font-size="13" fill="#000">DCCT</text><circle cx="734.7" cy="263.5" r="2.6" fill="#000000" shape-rendering="auto"/><text transform="translate(758.6 267.5) scale(1.0 1.07)" font-family='"Liberation Mono", monospace' font-size="13" fill="#000">BCM1</text><text transform="translate(758.6 285.6) scale(1.0 1.07)" font-family='"Liberation Mono", monospace' font-size="13" fill="#000">BCM2</text></g>
<g clip-path="url(#c102_5)"><path d="M102 304h1v-3h1v3h1h1v1h1v-2h1v1h1h1v1h1v-1h1v1h1v-1h1h1h1h1h1v1h1h1v-1h1v1h1v-2h1v1h1v1h1h1v-1h1h1h1h1h1h1h1h1h1h1h1v-1h1v-1h1v2h1v-2h1v3h1v-1h1v1h1v-1h1v1h1h1v-1h1h1h1v1h1v-1h1v1h1v-1h1v-1h1v2h1v-2h1v2h1v-1h1v1h1h1v-1h1h1v1h1v-1h1h1v-1h1v1h1v1h1h1v-1h1v-1h1v2h1h1h1v-1h1v1h1v-1h1h1h1v1h1v-1h1h1v1h1v-2h1v1h1v-1h1v1h1h1v-1h1v2h1h1h1h1v-1h1h1v1h1v-2h1v2h1h1v-1h1v1h1v-1h1h1v1h1v-1h1h1h1h1v1h1h1v-1h1v1h1h1v-1h1h1h1h1h1v-1h1v1h1v1h1v-1h1v1h1h1v-1h1h1h1h1h1h1h1h1v1h1v-2h1v1h1v1h1v-1h1v1h1v-1h1h1v1h1h1v-1h1v-1h1v1h1h1h1v1h1v-1h1h1h1v-1h1h1v1h1v1h1h1v-1h1v1h1v-1h1v-1h1v1h1v1h1v-3h1v2h1h1h1h1v-1h1v2h1v-1h1v-1h1v1h1h1v1h1v-1h1v1h1v-2h1v2h1v-1h1v-1h1v2h1v-2h1v2h1v-1h1v1h1v-1h1h1h1v-1h1v2h1v-1h1h1v1h1v-1h1v-1h1v2h1h1h1v-1h1h1v-1h1v1h1h1h1h1h1h1h1v-1h1v1h1v1h1h1v-2h1v1h1v1h1h1v-1h1h1v1h1v-1h1v1h1v-1h1v-2h1v1h1v1h1h1h1h1h1h1h1v1h1v-3h1v3h1v-1h1h1h1h1v1h1v-1h1h1h1v-1h1v1h1v1h1v-1h1v-1h1v2h1v-1h1h1h1h1h1v1h1v-1h1h1h1v-1h1v1h1v-1h1v1h1v1h1h1v-1h1h1v-1h1V316h-1h-1h-1v-1h-1v1h-1v-1h-1v1h-1h-1v-1h-1h-1v2h-1v-2h-1h-1h-1v1h-1v-1h-1v1h-1h-1v-1h-1h-1h-1h-1h-1v1h-1v-1h-1v1h-1v-1h-1v1h-1v1h-1v-2h-1h-1h-1v1h-1v-1h-1v3h-1v-2h-1v1h-1v-2h-1h-1v1h-1v-1h-1v1h-1v2h-1v-1h-1v-2h-1h-1v1h-1v-1h-1v1h-1v-1h-1h-1v1h-1h-1v-1h-1h-1v1h-1v-1h-1h-1v1h-1v1h-1v-1h-1v-1h-1v3h-1h-1v-3h-1h-1h-1h-1v1h-1v-1h-1h-1h-1v2h-1v-2h-1v1h-1v-1h-1h-1h-1v1h-1v-1h-1v1h-1h-1v-1h-1h-1h-1h-1h-1v1h-1v-1h-1h-1v1h-1h-1h-1v-1h-1v2h-1v-2h-1h-1v1h-1v-1h-1v1h-1v-1h-1v1h-1v-1h-1h-1h-1v1h-1v-1h-1v1h-1v1h-1v1h-1v-3h-1h-1h-1h-1h-1h-1h-1v1h-1h-1v-1h-1h-1v3h-1v-2h-1v1h-1v-1h-1h-1h-1v-1h-1h-1v1h-1v1h-1v-1h-1v-1h-1h-1v2h-1v-2h-1h-1v1h-1v-1h-1h-1h-1v1h-1v-1h-1h-1h-1v1h-1v-1h-1v1h-1h-1v-1h-1v1h-1v2h-1v-2h-1v-1h-1v1h-1v-1h-1h-1v1h-1h-1v2h-1v-2h-1v1h-1v-2h-1v1h-1v1h-1v-2h-1h-1v1h-1h-1v-1h-1v1h-1v-1h-1v1h-1v-1h-1v1h-1v-1h-1v1h-1h-1v-1h-1h-1h-1h-1h-1h-1v1h-1v2h-1v-2h-1v-1h-1v1h-1v-1h-1v1h-1h-1h-1v1h-1v-1h-1v1h-1v-2h-1h-1v2h-1v-2h-1v1h-1v-1h-1v1h-1v-1h-1v1h-1v-1h-1v3h-1v-2h-1v-1h-1h-1v1h-1h-1v-1h-1h-1h-1v1h-1v-1h-1h-1v1h-1h-1v2h-1v-3h-1h-1v1h-1v-1h-1v2h-1v-2h-1h-1h-1h-1v1h-1h-1v1h-1v-2h-1h-1h-1h-1h-1h-1h-1h-1v1h-1v-1h-1v2h-1v-1h-1h-1v-1h-1v1h-1v-1h-1h-1v1h-1v1h-1v-1h-1v-1h-1v1h-1v3h-1v-4h-1v1h-1v1h-1v-1h-1h-1v-1h-1h-1v1h-1v-1h-1z" fill="#ff0000"/><path d="M102 293h1v-2h1v1h1h1h1h1v1h1h1v-1h1h1v1h1h1h1h1v-1h1h1v-3h1v4h1v-1h1v1h1h1v-2h1v2h1v-2h1v2h1v-1h1v1h1h1h1v-1h1v-1h1v2h1h1h1h1h1h1h1h1v-1h1v-1h1v1h1v1h1v-1h1v1h1v-1h1v1h1h1v-1h1v1h1h1v-1h1h1v1h1v-2h1v2h1h1v-1h1v1h1v-1h1v1h1h1v-1h1v-1h1v2h1v-1h1v1h1v-1h1v-1h1v1h1v-1h1v2h1h1h1h1v-1h1v1h1v-1h1h1v1h1v-1h1v-1h1v1h1h1v1h1v-3h1v3h1v-1h1v-1h1v2h1v-1h1v1h1v-2h1v2h1h1h1v-1h1v1h1v-2h1v2h1h1v-2h1v1h1v1h1h1h1v-1h1v1h1h1h1h1h1h1h1h1h1h1h1h1v-1h1v1h1h1v-2h1v2h1h1h1v-1h1h1v1h1h1v-1h1v-1h1h1v2h1h1v-2h1v2h1h1h1h1v-1h1v-1h1v1h1v1h1h1h1h1h1h1v-1h1v1h1h1h1v-1h1v1h1h1h1h1v-1h1h1h1v1h1h1h1v-2h1v1h1v1h1v-1h1h1v1h1v-1h1v1h1h1v-1h1v1h1h1h1h1h1h1h1v-2h1h1v2h1h1v-1h1v1h1v-2h1v2h1v-2h1v2h1v-1h1h1v1h1v-1h1v1h1h1h1v-2h1v2h1h1h1v-2h1v1h1v1h1h1v-1h1v1h1v-1h1v1h1v-1h1v1h1h1h1v-1h1v1h1v-2h1v1h1h1v1h1h1h1h1h1h1h1v-2h1v-1h1v3h1h1h1v-3h1v3h1v-1h1h1h1v1h1h1h1h1h1v-1h1v1h1v-1h1v1h1v-1h1h1v1h1h1h1v-1h1v-1h1v2h1h1h1h1v-1h1v1h1v-1h1v1h1h1v-1h1v1h1h1h1V301h-1h-1h-1h-1h-1h-1h-1h-1h-1h-1h-1h-1h-1h-1h-1v1h-1v-1h-1h-1h-1h-1h-1h-1h-1h-1h-1v1h-1v-1h-1h-1h-1h-1h-1v1h-1v-1h-1h-1h-1h-1h-1h-1h-1h-1h-1h-1h-1h-1v1h-1v-1h-1h-1h-1h-1h-1h-1h-1h-1h-1h-1h-1h-1h-1h-1h-1v1h-1v-1h-1h-1h-1h-1h-1h-1h-1h-1h-1h-1h-1h-1h-1h-1h-1h-1h-1h-1h-1h-1h-1h-1h-1h-1h-1h-1h-1h-1h-1h-1h-1h-1h-1h-1h-1h-1h-1h-1h-1h-1h-1h-1h-1h-1h-1h-1h-1h-1h-1h-1h-1h-1h-1h-1h-1h-1h-1h-1h-1h-1h-1h-1v1h-1v-1h-1h-1h-1h-1h-1v1h-1v-1h-1h-1h-1h-1h-1v1h-1v-1h-1h-1h-1h-1h-1h-1h-1h-1h-1h-1h-1h-1h-1h-1h-1h-1h-1h-1h-1h-1h-1h-1h-1h-1h-1h-1v1h-1v-1h-1h-1h-1h-1h-1h-1h-1v1h-1v-1h-1h-1h-1h-1v2h-1v-2h-1v1h-1v-1h-1h-1h-1h-1h-1h-1h-1h-1h-1h-1v1h-1v-1h-1h-1h-1h-1h-1h-1h-1h-1h-1h-1h-1h-1h-1h-1h-1h-1h-1h-1h-1h-1v1h-1v-1h-1h-1h-1h-1h-1v1h-1v-1h-1h-1v2h-1v-2h-1h-1h-1h-1h-1h-1h-1h-1h-1h-1h-1h-1h-1h-1h-1h-1h-1h-1h-1h-1h-1h-1h-1h-1h-1h-1h-1h-1h-1h-1h-1h-1h-1h-1h-1h-1h-1h-1v1h-1v-1h-1h-1h-1h-1v1h-1v-1h-1h-1z" fill="#0000ff"/><path d="M366 323h2h2h2h2h2h2h2h2h2h2V326h-2h-2h-2h-2h-2h-2h-2h-2h-2h-2z" fill="#ff0000"/><path d="M385 322h1h1v-1h1h1h1v-4h1v3h1v-1h1v-1h1h1h1h1v-1h1h1v-3h1v1h1h1v-1h1V326h-1h-1h-1h-1h-1h-1h-1h-1h-1h-1h-1h-1h-1h-1h-1h-1h-1h-1z" fill="#ff0000"/><path d="M366 324h2h2h2h2h2h2h2V326h-2h-2h-2h-2h-2h-2h-2z" fill="#0000ff"/><path d="M377 321h1v-1h1h1v-1h1v-2h1v1h1v-1h1v-2h1v1h1v-1h1h1v-3h1v2h1v-2h1h1v-2h1v-1h1v-1h1v-1h1v1h1v-1h1v-1h1v-1h1v-1h1v-2h1v1h1V311h-1v-1h-1v1h-1v1h-1v1h-1h-1v1h-1v1h-1v2h-1h-1v1h-1v1h-1v1h-1v1h-1v-1h-1v1h-1v1h-1h-1h-1v1h-1h-1v1h-1v1h-1h-1h-1v1h-1z" fill="#0000ff"/><path d="M402 309h1h1h1v1h1v-1h1v1h1h1v-2h1v2h1v-1h1h1h1v1h1h1v-2h1v2h1v-1h1V320h-1h-1v-1h-1v2h-1v-2h-1v2h-1h-1v-2h-1h-1v1h-1v1h-1v-2h-1v1h-1v-1h-1h-1h-1v2h-1z" fill="#ff0000"/><path d="M402 300h1h1h1v-1h1v1h1h1h1h1v1h1v-1h1h1v1h1v-1h1h1v1h1v-2h1v1h1V310h-1h-1h-1v-1h-1v1h-1h-1v-1h-1v1h-1v-1h-1v2h-1h-1v-2h-1v2h-1v-1h-1v-1h-1v2h-1v-2h-1z" fill="#0000ff"/><path d="M418 308h1h1v-2h1v2h1h1v-1h1v-3h1v4h1h1h1h1h1h1h1v-1h1v1h1v-2h1v2h1h1h1h1v-2h1v2h1v-1h1h1v1h1h1h1v-1h1v1h1v-1h1v1h1h1h1h1h1v-2h1v2h1h1h1h1h1v-4h1v4h1h1v-1h1v1h1h1v1h1v-1h1h1h1v-1h1v1h1h1h1v-1h1h1h1v1h1v1h1v-2h1v1h1h1v1h1v-1h1h1v1h1v-1h1h1h1h1h1h1v1h1h1v-3h1h1v2h1h1h1h1h1h1h1h1h1h1h1v-1h1v1h1h1h1v1h1v-1h1v1h1v-2h1h1v1h1v-1h1v1h1v-2h1v2h1v-1h1v1h1h1h1h1v-1h1v1h1h1v-1h1v-2h1v1h1v1h1v1h1h1h1v1h1v-2h1v1h1v-3h1v3h1v-1h1h1h1h1v1h1h1h1h1h1h1h1h1h1h1h1h1h1v-1h1v1h1v1h1v-2h1v1h1h1v-1h1v1h1h1v-1h1v-1h1v1h1v1h1h1h1v-1h1v1h1v-1h1v-1h1v1h1v1h1v-1h1v1h1v1h1v-1h1h1v1h1v-1h1v-3h1v1h1v2h1h1h1h1v-1h1h1v1h1v-1h1v-1h1v3h1v-2h1v1h1v-1h1v2h1v-1h1v-1h1v2h1h1v-1h1h1v-2h1V317h-1v1h-1h-1v-1h-1h-1v1h-1v-1h-1v3h-1v-3h-1h-1h-1h-1h-1v2h-1v-2h-1v1h-1h-1v-1h-1h-1h-1v1h-1v-1h-1v1h-1v-1h-1v1h-1v-1h-1v2h-1v-2h-1v1h-1v-1h-1v1h-1h-1v-1h-1h-1h-1h-1v2h-1v-1h-1v-1h-1v2h-1h-1v-2h-1h-1h-1v2h-1v-1h-1v-1h-1h-1v3h-1v-3h-1v1h-1h-1v-1h-1h-1v1h-1v-1h-1h-1v2h-1v-2h-1v1h-1v-1h-1h-1h-1v1h-1h-1v-1h-1h-1h-1h-1v1h-1v-1h-1h-1h-1h-1v1h-1h-1v-1h-1h-1h-1h-1h-1v1h-1v1h-1h-1v-2h-1h-1v1h-1v-1h-1v3h-1v-3h-1v2h-1v-2h-1h-1v2h-1v-2h-1h-1v1h-1v-1h-1h-1h-1v1h-1h-1h-1h-1v-1h-1h-1h-1h-1h-1h-1v3h-1v-3h-1h-1v1h-1v-1h-1v1h-1v-1h-1v1h-1v1h-1v-2h-1h-1v1h-1h-1v-1h-1h-1v1h-1h-1v-1h-1v1h-1v-1h-1v1h-1v-1h-1h-1h-1h-1v2h-1v-2h-1h-1h-1v3h-1v-3h-1v1h-1v1h-1v-2h-1h-1h-1h-1v1h-1v2h-1v-1h-1v-2h-1v1h-1v-1h-1h-1v1h-1v-1h-1h-1h-1v2h-1v-2h-1h-1h-1h-1v1h-1v1h-1v1h-1v-2h-1v1h-1v-2h-1h-1h-1h-1h-1h-1v1h-1v-1h-1h-1h-1h-1h-1h-1v1h-1h-1v1h-1v-2h-1h-1h-1v3h-1v-3h-1h-1v1h-1z" fill="#ff0000"/><path d="M418 296h1h1h1v-1h1v1h1h1h1h1v-1h1v1h1h1v1h1v-4h1v4h1v-1h1h1h1h1h1h1h1h1v-1h1v1h1h1v1h1v-1h1h1h1h1h1h1v-1h1v1h1h1h1v-1h1v1h1v-1h1v1h1v1h1v-2h1v1h1h1v-1h1v1h1h1h1v1h1v-1h1h1h1h1v-2h1v2h1v1h1h1v-1h1h1h1v1h1v-2h1v1h1v-2h1v2h1h1h1h1h1v-1h1v1h1v-1h1v1h1h1v1h1v-2h1v1h1h1h1v1h1v-1h1v-1h1v1h1h1h1h1h1v-1h1v1h1h1v-2h1h1v2h1v1h1v-1h1h1v1h1h1h1v-1h1h1v1h1v-1h1v-1h1v1h1h1v-1h1v1h1h1h1h1h1v-2h1v1h1v1h1v-1h1v1h1h1v-2h1v2h1v1h1h1v-2h1v1h1h1h1h1v-2h1v2h1v-1h1v1h1v-1h1v1h1h1h1h1h1h1h1h1v-1h1v1h1h1v1h1v-1h1h1v1h1v-1h1v1h1v-1h1v1h1v-2h1v1h1h1h1h1h1v-1h1v1h1h1h1h1v-1h1v-1h1v1h1v1h1h1h1h1v-2h1v2h1v-2h1v2h1v1h1v-1h1h1h1v-1h1v1h1h1h1h1v-1h1h1v1h1h1v1h1v-1h1v-2h1v1h1v1h1V302h-1h-1h-1v3h-1v-2h-1v-1h-1h-1h-1v1h-1v-1h-1h-1v1h-1v-1h-1h-1h-1h-1v1h-1h-1h-1v-1h-1h-1v1h-1h-1h-1v-1h-1h-1h-1v1h-1h-1h-1v-1h-1v1h-1h-1h-1v-1h-1v1h-1v-1h-1h-1h-1v1h-1h-1h-1h-1h-1v-1h-1h-1h-1h-1h-1h-1v2h-1h-1v-1h-1v-1h-1h-1h-1h-1v1h-1h-1v-1h-1h-1v2h-1v-1h-1h-1h-1v-1h-1h-1h-1v1h-1h-1v-1h-1h-1h-1h-1v1h-1h-1v-1h-1v3h-1v-1h-1v-1h-1v-1h-1v1h-1h-1h-1v-1h-1v1h-1h-1h-1h-1h-1v2h-1v-2h-1v-1h-1v1h-1h-1h-1h-1h-1v-1h-1v1h-1h-1h-1h-1h-1h-1v-1h-1v1h-1h-1h-1h-1h-1h-1h-1v-1h-1h-1v1h-1h-1v-1h-1h-1v1h-1h-1v-1h-1v1h-1h-1v-1h-1v1h-1v-1h-1h-1h-1v1h-1v-1h-1v2h-1v-2h-1h-1h-1v2h-1v-1h-1h-1v-1h-1v1h-1h-1h-1v-1h-1v1h-1v-1h-1v1h-1h-1v-1h-1v1h-1h-1v-1h-1v1h-1v-1h-1h-1v1h-1h-1h-1v-1h-1v1h-1v-1h-1v3h-1v-3h-1v1h-1h-1h-1h-1v1h-1v-1h-1h-1h-1v-1h-1h-1v1h-1v-1h-1v3h-1v-2h-1v-1h-1v1h-1v-1h-1h-1h-1h-1h-1h-1v1h-1h-1h-1h-1h-1v1h-1v-2h-1z" fill="#0000ff"/><path d="M607 324h2v-1h2h2h2v1h2v-1h2v1h2v-1h2h2h1V326h-1h-2h-2h-2h-2h-2h-2h-2h-2h-2z" fill="#ff0000"/><path d="M625 322h1h1v-1h1h1v-2h1v1h1h1h1v-1h1v-1h1h1h1v-1h1h1V326h-1h-1h-1h-1h-1h-1h-1h-1h-1h-1h-1h-1h-1h-1z" fill="#ff0000"/><path d="M638 310h1v2h1v-1h1h1v-1h1v-1h1v-2h1h1V318h-1v1h-1v1h-1h-1v2h-1v1h-1v1h-1h-1z" fill="#ff0000"/><path d="M645 308h1v-3h1v3h1v1h1v-1h1h1h1v-1h1h1v1h1h1v-2h1v1h1v1h1v-2h1v2h1h1h1v-1h1h1v1h1h1h1h1v-1h1v1h1h1V318h-1h-1v-1h-1v1h-1h-1v1h-1v-2h-1v1h-1h-1v-1h-1v3h-1v-2h-1h-1h-1h-1v-1h-1v1h-1h-1v-1h-1h-1v1h-1h-1v1h-1h-1v-2h-1v1h-1v1h-1z" fill="#ff0000"/><path d="M607 324h2h2h2h2h2h2V326h-2h-2h-2h-2h-2h-2z" fill="#0000ff"/><path d="M617 323h1v-2h1v1h1v-1h1v-2h1h1v1h1v-1h1v-1h1v-1h1h1v-1h1h1h1h1h1v-1h1h1h1v-1h1h1V319h-1h-1v1h-1h-1h-1v1h-1h-1v1h-1v-1h-1h-1v1h-1v1h-1h-1h-1v1h-1h-1v2h-1v-1h-1v1h-1h-1h-1z" fill="#0000ff"/><path d="M637 304h1v-1h1v-1h1h1v-2h1v1h1h1v-1h1v-3h1v2h1h1v-1h1v-1h1v1h1v-2h1v1h1V303h-1v1h-1v2h-1v-1h-1h-1v1h-1h-1v1h-1h-1h-1v1h-1v2h-1v-1h-1v2h-1v-1h-1v2h-1z" fill="#0000ff"/><path d="M652 296h1h1v1h1v-2h1v1h1v-1h1v-1h1v1h1v1h1v1h1v-1h1h1v-1h1v1h1v1h1v-2h1v1h1v-2h1v3h1v-1h1V303h-1h-1h-1h-1h-1v2h-1v-2h-1h-1h-1h-1h-1h-1h-1h-1v-1h-1v1h-1v1h-1v-1h-1v-1h-1v1h-1z" fill="#0000ff"/><path d="M366.5 302.5H366.5 V325.5" stroke="#0000ff" stroke-width="1" fill="none"/><path d="M607.5 302.5H607.5 V325.5" stroke="#0000ff" stroke-width="1" fill="none"/></g>
<g><rect x="691.5" y="290.5" width="106" height="45" fill="none" stroke="#000" stroke-width="1"/><path d="M798.4 292.5V336.4H693.5" stroke="#000" stroke-width="1" fill="none" shape-rendering="auto"/><path d="M698 303.5H738" stroke="#ff0000" stroke-width="1"/><text transform="translate(743.2 307.5) scale(1.0 1.07)" font-family='"Liberation Mono", monospace' font-size="13" fill="#000">FW_225</text><path d="M698 321.5H738" stroke="#0000ff" stroke-width="1"/><text transform="translate(743.2 325.4) scale(1.0 1.07)" font-family='"Liberation Mono", monospace' font-size="13" fill="#000">FW_135</text></g>
<g clip-path="url(#c102_6)"><path d="M102 355h2v-1h2h2v-1h2v2h2v-1h2v-1h2v1h2h2h2h2v-1h2v2h2v-1h2v-1h2v-1h2v2h2v-1h2v1h2h2h2h2v1h2v-1h2h2h2h2h2h2h2h2v-2h2v1h2v2h2v-1h2h2h2v-1h2v1h2h2v-1h2v1h2h2v1h2v-1h2h2h2h2h2h2h2h2h2v-2h2v2h2h2h2h2v1h2v-3h2v2h2h2v1h2v-1h2h2v1h2v-1h2h2h2h2v1h2v-2h2v1h2v-1h2v1h2h2v-1h2v1h2v1h2v-1h2v-2h2v2h2h2v-1h2v1h2h2v1h2v-1h2h2h2h1V377h-1h-2h-2h-2h-2h-2h-2h-2h-2h-2h-2h-2h-2h-2h-2h-2h-2h-2h-2h-2h-2h-2h-2h-2h-2h-2h-2h-2h-2h-2h-2h-2h-2h-2h-2h-2v1h-2v-1h-2h-2h-2h-2h-2h-2h-2h-2h-2h-2h-2h-2h-2h-2h-2h-2h-2h-2h-2h-2h-2h-2h-2h-2h-2h-2h-2h-2h-2h-2h-2h-2h-2h-2h-2h-2h-2h-2h-2h-2v1h-2v-1h-2h-2h-2h-2h-2h-2h-2h-2h-2h-2h-2h-2h-2z" fill="#ff1493"/><path d="M282 357h2h2v1h2v-1h2h2v-1h2h2v2h2v-1h2v-1h2v2h2v-1h2v-1h2v1h2h2v1h2h2v-1h2h2v-1h2v2h2h2h2h2v-1h2v1h2h2v-1h2v1h2v-1h2v1h2h2h2v-1h2v1h2v-1h2h2h2v-2h2v2h2h2h2h2V377h-2h-2h-2h-2h-2h-2h-2h-2h-2h-2h-2h-2h-2h-2h-2h-2h-2h-2h-2h-2h-2h-2h-2h-2h-2h-2h-2h-2h-2h-2h-2h-2h-2h-2h-2h-2h-2h-2h-2h-2h-2h-2h-2z" fill="#ff1493"/><path d="M128 362h1v1h-1zM353 364h1v0h-1zM335 371h1v1h-1zM113 373h1v0h-1zM231 366h1v1h-1zM152 371h1v0h-1zM339 370h1v1h-1zM214 364h1v1h-1zM149 369h1v1h-1zM289 372h1v0h-1zM169 362h1v0h-1zM267 367h1v1h-1zM358 367h1v1h-1zM229 364h1v0h-1zM237 366h1v1h-1zM362 368h1v0h-1z" fill="#fff"/><path d="M366 373h2h2h2h2h2h2h2h2V377h-2h-2v1h-2v-1h-2h-2v1h-2v-1h-2h-2z" fill="#ff1493"/><path d="M381 370h3v3h-3zM382 367h3v3h-3zM383 365h3v3h-3zM383 362h3v3h-3zM384 358h3v3h-3zM386 357h3v3h-3zM386 355h3v3h-3zM387 350h3v3h-3zM388 348h3v3h-3zM389 346h3v3h-3zM389 344h3v3h-3zM391 341h3v3h-3zM392 339h3v3h-3zM393 335h3v3h-3zM393 332h3v3h-3zM394 329h3v3h-3zM395 328h3v3h-3z" fill="#ff1493"/><path d="M387 373h3v3h-3zM388 368h3v3h-3zM389 366h3v3h-3zM390 364h3v3h-3zM392 359h3v3h-3zM392 357h3v3h-3zM393 356h3v3h-3zM394 350h3v3h-3zM395 346h3v3h-3zM396 344h3v3h-3z" fill="#ff1493"/><path d="M396 325h3v3h-3zM398 330h3v3h-3zM398 334h3v3h-3zM400 337h3v3h-3z" fill="#ff1493"/><path d="M409 326h3v3h-3zM409 329h3v3h-3zM410 331h3v3h-3zM410 333h3v3h-3zM410 335h3v3h-3zM410 339h3v3h-3zM411 341h3v3h-3zM411 341h3v3h-3zM412 345h3v3h-3zM412 346h3v3h-3zM413 349h3v3h-3zM413 350h3v3h-3zM412 354h3v3h-3zM414 355h3v3h-3zM414 359h3v3h-3zM414 361h3v3h-3zM414 362h3v3h-3zM415 365h3v3h-3zM415 369h3v3h-3zM416 367h3v3h-3zM417 372h3v3h-3z" fill="#ff1493"/><path d="M412 331h3v3h-3zM414 334h3v3h-3zM414 335h3v3h-3zM415 340h3v3h-3zM416 343h3v3h-3zM417 346h3v3h-3zM417 350h3v3h-3z" fill="#ff1493"/><path d="M417 326h3v3h-3zM419 332h3v3h-3zM420 334h3v3h-3zM422 338h3v3h-3zM424 340h3v3h-3z" fill="#ff1493"/><path d="M384 374h3v3h-3zM385 371h3v3h-3zM387 370h3v3h-3zM387 365h3v3h-3zM388 364h3v3h-3zM389 360h3v3h-3zM389 357h3v3h-3zM390 356h3v3h-3zM393 353h3v3h-3z" fill="#ff1493"/><path d="M388 364h1h1v-3h1v-2h1v-10h1v3h1v1h1v1h1v4h1v2h1v-2h1V377h-1h-1h-1h-1h-1h-1h-1h-1h-1h-1h-1z" fill="#ff1493"/><path d="M401 365h3v3h-3zM401 358h3v3h-3zM405 348h3v3h-3zM398 354h3v3h-3zM399 341h3v3h-3zM408 338h3v3h-3zM409 337h3v3h-3z" fill="#ff1493"/><path d="M418 362h2v-19h2h2v-2h2h2h2v-1h2v2h2h2v2h2v2h2v2h2h2v1h2h2v-1h2v1h2v-1h2v1h2h2h2h2h2v1h2v-2h2v2h2h2h2v-1h2h2v1h2v-1h2v1h2h2h2v-1h2v-3h2v4h2v-1h2v1h2v-3h2v3h2v-1h2v1h2v-3h2v2h2v1h2v-1h2h2v1h2h2v-3h2v3h2h2h2v-1h2v-2h2v3h2h2h2h2v-1h2v1h2h2h2v-2h2v1h2h2v1h2h2v-1h2v1h2h2v-1h2v-4h2v5h2v-1h2v-1h2v-1h2v2h2h2h2h2v-1h2v1h2v-1h2h2v1h2h2h2h2h2h2h2h2h1V378h-1v-1h-2h-2h-2v1h-2v-1h-2h-2h-2h-2h-2h-2h-2h-2h-2h-2h-2h-2h-2h-2h-2h-2h-2h-2h-2h-2h-2h-2h-2h-2h-2h-2h-2h-2h-2h-2h-2h-2h-2h-2h-2h-2h-2h-2h-2h-2h-2h-2h-2h-2h-2h-2h-2h-2h-2h-2h-2h-2h-2h-2h-2h-2h-2h-2h-2h-2h-2h-2h-2h-2h-2h-2h-2h-2h-2h-2h-2h-2h-2h-2h-2h-2h-2h-2h-2h-2h-2h-2h-2h-2h-2h-2h-2h-2h-2h-2h-2z" fill="#ff1493"/><path d="M593 369h2v1h-2zM493 366h2v2h-2zM445 366h4v1h-4zM593 361h3v1h-3zM571 360h2v1h-2zM438 363h2v2h-2zM428 358h2v1h-2zM573 366h2v1h-2zM563 364h4v1h-4zM557 367h4v1h-4zM581 356h3v2h-3zM478 366h2v2h-2zM575 355h3v1h-3zM563 361h2v2h-2zM455 368h2v1h-2zM518 370h2v2h-2zM514 355h2v1h-2zM587 355h2v1h-2zM548 365h2v2h-2zM603 356h2v1h-2zM592 361h2v2h-2zM481 356h2v1h-2zM577 356h2v1h-2zM577 362h2v1h-2zM504 361h2v1h-2zM603 360h2v1h-2zM486 355h4v2h-4zM535 357h4v1h-4zM535 357h2v2h-2zM551 365h5v1h-5zM562 367h2v1h-2zM572 356h2v2h-2zM526 365h2v1h-2zM510 365h2v1h-2zM525 361h5v1h-5zM474 364h2v2h-2zM548 366h2v2h-2zM482 363h4v1h-4zM441 367h2v2h-2zM496 366h2v1h-2zM595 369h2v2h-2zM553 361h2v2h-2zM559 370h4v1h-4zM515 367h2v2h-2zM562 366h2v2h-2zM520 362h2v1h-2zM531 365h2v2h-2zM523 363h2v1h-2zM481 356h2v2h-2zM515 363h2v1h-2zM531 365h2v1h-2zM467 358h2v2h-2zM482 361h2v2h-2zM555 370h2v1h-2zM467 365h3v1h-3zM595 371h3v1h-3zM571 362h2v2h-2zM449 364h4v2h-4zM442 358h2v2h-2zM474 367h2v1h-2zM578 358h2v2h-2zM428 362h2v1h-2zM491 363h2v2h-2zM494 370h2v2h-2zM452 364h2v2h-2zM433 367h4v2h-4zM590 362h2v1h-2zM476 358h4v1h-4zM492 369h2v1h-2zM600 365h2v1h-2zM426 368h2v1h-2zM533 356h2v1h-2zM464 355h2v2h-2zM433 367h2v1h-2zM597 368h3v2h-3zM489 357h2v2h-2zM448 356h2v2h-2zM429 358h5v2h-5zM485 367h2v2h-2zM572 358h2v1h-2zM561 364h2v1h-2zM477 368h3v2h-3zM517 355h2v1h-2zM503 360h2v1h-2zM441 359h2v2h-2zM487 369h2v1h-2zM449 360h5v1h-5zM594 365h3v1h-3zM507 366h2v2h-2zM507 361h2v1h-2zM477 362h2v1h-2zM510 358h2v1h-2zM487 371h2v1h-2zM557 363h3v2h-3zM469 359h2v2h-2z" fill="#fff"/><path d="M561 342h2v2h-2zM561 345h2v2h-2zM562 346h2v2h-2zM563 350h2v2h-2z" fill="#ff1493"/><path d="M607 373h2h2h2h2v-1h2h2v-1h2h2h2v-1h2v-1h2h2v-1h1V378h-1h-2h-2h-2h-2h-2h-2h-2h-2h-2h-2h-2h-2z" fill="#ff1493"/><path d="M619 338h3v3h-3zM619 340h3v3h-3zM619 343h3v3h-3zM619 345h3v3h-3zM619 348h3v3h-3zM619 350h3v3h-3zM619 352h3v3h-3zM619 355h3v3h-3zM619 358h3v3h-3zM619 360h3v3h-3zM620 362h3v3h-3zM619 364h3v3h-3zM619 367h3v3h-3zM620 370h3v3h-3zM620 372h3v3h-3z" fill="#ff1493"/><path d="M638 326h3v3h-3zM638 329h3v3h-3zM638 331h3v3h-3zM638 334h3v3h-3zM638 337h3v3h-3zM638 339h3v3h-3zM638 342h3v3h-3zM638 344h3v3h-3zM639 347h3v3h-3zM638 349h3v3h-3zM639 353h3v3h-3z" fill="#ff1493"/><path d="M639 352h3v3h-3zM639 354h3v3h-3zM639 357h3v3h-3zM640 359h3v3h-3zM640 362h3v3h-3zM640 365h3v3h-3zM641 366h3v3h-3zM641 370h3v3h-3zM641 372h3v3h-3z" fill="#ff1493"/><path d="M650 334h3v3h-3zM650 337h3v3h-3zM651 339h3v3h-3zM651 342h3v3h-3zM651 345h3v3h-3zM651 347h3v3h-3zM651 350h3v3h-3zM651 352h3v3h-3z" fill="#ff1493"/><path d="M645 347h3v3h-3zM645 351h3v3h-3zM645 354h3v3h-3zM646 357h3v3h-3zM646 359h3v3h-3zM646 362h3v3h-3z" fill="#ff1493"/><path d="M630 367h2v-1h2v-2h2v-1h2v-2h2v-6h2v-5h2v1h2v-2h2v-1h2v-3h2v2h2v-1h2v1h2h2v1h2v-2h2h2v1h2h2v-2h2V377h-2h-2h-2h-2h-2h-2h-2v1h-2v-1h-2h-2h-2h-2h-2h-2h-2h-2h-2h-2h-2h-2h-2z" fill="#ff1493"/><path d="M653 372h2v1h-2zM656 371h2v1h-2zM646 368h4v1h-4zM646 362h2v2h-2zM657 358h2v2h-2zM649 354h2v2h-2zM668 365h2v1h-2zM667 368h2v1h-2zM649 362h4v1h-4zM652 355h2v2h-2zM654 362h2v1h-2zM665 366h5v2h-5zM640 363h2v2h-2zM640 359h2v2h-2zM642 362h2v1h-2zM643 359h2v2h-2zM649 370h4v1h-4zM640 369h2v1h-2zM651 372h2v2h-2zM654 366h2v2h-2zM643 370h5v2h-5zM654 367h2v1h-2z" fill="#fff"/></g>
<g clip-path="url(#c102_7)"><path d="M102 400h2v2h2v-1h2v1h2v-2h2v2h2h2h2v-1h2v1h2h2h2v-1h2v1h2h2h2h2v-2h2v2h2v-2h2h2v2h2h2h2h2v-2h2v2h2v-4h2v3h2v-1h2v2h2h2h2h2v-4h2v5h2v-2h2v1h2v-1h2v1h2h2h2h2h2h2h2h2h2h2v-2h2v-1h2v3h2h2v-1h2v1h2h2h2h2v-3h2v3h2v-4h2v4h2v-1h2v-1h2v1h2v1h2h2h2v1h2v-2h2v1h2v-2h2h2v1h2v1h2v-1h2v2h2v-1h2h2v-1h2h2v-1h2v2h2h2h2h2v-1h2h2v-2h2v3h2h2v-3h2v2h2v1h2h2v-2h2v2h2h2h2v-3h2v3h2v-1h2v2h2v-3h2v1h2v-4h2v5h2v-1h2v1h2h2h2v-1h2v1h2h2h2v-1h2v1h2h2h2v-1h2v2h2v-1h2h2v-1h2v1h2h2h2v-3h2v4h2v-1h2v-2h2v2h2v-1h2V424h-2v1h-2v-2h-2v-1h-2v1h-2v1h-2h-2v-2h-2v2h-2v-2h-2h-2v3h-2v-2h-2h-2v-1h-2v3h-2v-3h-2v1h-2v-1h-2v3h-2v-3h-2h-2h-2h-2v3h-2v-3h-2v1h-2v1h-2v-1h-2v1h-2v-1h-2h-2h-2h-2h-2h-2h-2h-2h-2v1h-2v-1h-2h-2v-1h-2v1h-2h-2v-1h-2v2h-2v-1h-2v-1h-2v1h-2h-2v-1h-2h-2h-2v1h-2v2h-2v-3h-2v1h-2v3h-2v-2h-2v-2h-2h-2v1h-2h-2h-2v2h-2v-1h-2v-1h-2v-1h-2v3h-2v-2h-2v-1h-2h-2h-2v2h-2h-2h-2v-2h-2v1h-2v2h-2v-3h-2v1h-2h-2v-1h-2v1h-2v-1h-2v1h-2v1h-2v-2h-2h-2v1h-2v3h-2v-4h-2h-2v1h-2v-1h-2v2h-2h-2v-2h-2h-2h-2h-2v1h-2h-2h-2h-2v-1h-2v1h-2h-2h-2h-2h-2v2h-2v-3h-2v1h-2h-2h-2v-1h-2h-2v1h-2h-2v3h-2v-3h-2h-2v-1h-2v1h-2v2h-2v-3h-2h-2h-2h-2v1h-2v2h-2z" fill="#ff0000"/><path d="M341 425h3v3h-3zM303 427h3v3h-3zM279 424h3v3h-3zM118 425h3v3h-3zM174 426h3v3h-3zM197 425h3v3h-3zM186 424h3v3h-3zM177 426h3v3h-3zM178 427h3v3h-3zM332 425h3v3h-3zM182 426h3v3h-3zM337 427h3v3h-3zM159 424h3v3h-3zM117 428h3v3h-3zM177 425h3v3h-3zM305 424h3v3h-3z" fill="#ff0000"/><path d="M366 407h2h2h2h2h2h2h2V410h-2h-2h-2h-2h-2h-2h-2z" fill="#ff0000"/><path d="M366 411h2h2h2h2h2h2h2V414h-2h-2h-2h-2h-2h-2h-2z" fill="#ff0000"/><path d="M378 398h2v-4h2v-4h2v-7h2v1h2v-1h2v1h2v-1h2v2h2v-2h2v1h2h2h2v4h2v1h2v1h2v4h2v3h2v1h2v2h2v1h2V427h-2v2h-2v-4h-2h-2v1h-2h-2v1h-2v-2h-2h-2h-2h-2v1h-2h-2v-1h-2v2h-2v-1h-2v-1h-2h-2v1h-2v-1h-2h-2z" fill="#ff0000"/><path d="M418 402h2v-1h2h2v-1h2v1h2v-2h2v2h2v1h2v-1h2h2v1h2v-1h2v1h2v-2h2v2h2v-1h2v1h2h2h2h2h2v-1h2h2v1h2h2v-2h2v1h2v-1h2v2h2h2h2v-3h2v3h2v-1h2v1h2v-3h2h2v3h2v-1h2h2v-2h2v2h2v1h2v-4h2v2h2v1h2v1h2v-1h2v1h2v-1h2v-1h2v-2h2v2h2v1h2h2h2h2v1h2v-2h2v1h2v1h2v-2h2h2h2v2h2v-1h2h2h2v-1h2v1h2h2h2h2v-1h2v1h2v1h2v-3h2v3h2v-1h2v-3h2v1h2v3h2v-1h2v-1h2h2v1h2h2h2h2v-4h2v4h2v-1h2v1h2v-2h2v1h2v1h1V422h-1v1h-2v-1h-2v2h-2v-2h-2v1h-2h-2v-1h-2v2h-2v-2h-2h-2v2h-2v-2h-2h-2v1h-2v-1h-2h-2v1h-2v-1h-2v1h-2v-1h-2v1h-2h-2v-1h-2v1h-2h-2h-2v-1h-2v4h-2v-1h-2v-2h-2v-1h-2v1h-2h-2h-2h-2v1h-2v3h-2v-5h-2h-2v1h-2v-1h-2h-2h-2h-2v1h-2h-2v-1h-2v2h-2v-2h-2h-2h-2h-2v3h-2v-2h-2h-2v-1h-2v2h-2v-1h-2h-2v3h-2v-4h-2v1h-2v2h-2v-2h-2h-2h-2h-2v1h-2v-1h-2h-2v1h-2v-1h-2h-2h-2h-2h-2v1h-2v-1h-2v-1h-2v1h-2v-1h-2v1h-2v4h-2v-5h-2h-2h-2h-2v1h-2v-1h-2h-2v1h-2v-1h-2v1h-2v2h-2v-3h-2z" fill="#ff0000"/><path d="M591 426h3v3h-3zM551 425h3v3h-3zM540 428h3v3h-3zM434 428h3v3h-3zM452 423h3v3h-3zM424 425h3v3h-3zM557 424h3v3h-3zM595 427h3v3h-3zM446 427h3v3h-3zM459 427h3v3h-3zM429 427h3v3h-3zM485 426h3v3h-3zM433 425h3v3h-3zM492 424h3v3h-3zM499 428h3v3h-3zM427 428h3v3h-3z" fill="#ff0000"/><path d="M483 401h2v2h-2zM571 399h2v2h-2zM535 402h2v2h-2zM503 401h2v2h-2zM510 398h2v2h-2zM605 397h2v2h-2zM597 400h2v2h-2zM453 401h2v2h-2zM427 400h2v2h-2zM599 401h2v2h-2zM591 400h2v2h-2zM556 401h2v2h-2zM593 398h2v2h-2zM452 398h2v2h-2zM439 401h2v2h-2zM500 402h2v2h-2zM440 399h2v2h-2zM532 398h2v2h-2zM552 398h2v2h-2zM426 401h2v2h-2zM520 398h2v2h-2zM566 397h2v2h-2zM476 399h2v2h-2zM579 400h2v2h-2z" fill="#ff0000"/><path d="M607 407h2h2h2h2h2h2h1V410h-1h-2h-2h-2h-2h-2h-2z" fill="#ff0000"/><path d="M616 399h2v-4h2v1h2v-1h2v-3h2v-4h2v1h2v-8h2v4h2h2h2h2v3h2v4h2v4h2V424h-2h-2v1h-2v-1h-2h-2h-2h-2h-2v1h-2v-1h-2v1h-2h-2v-1h-2h-2v1h-2z" fill="#ff0000"/><path d="M645 398h2v3h2v-2h2v1h2v1h2h2v-1h2v-3h2v3h2h2v1h2v-1h2v-2h2h1V425h-1h-2v-1h-2v3h-2v-3h-2v1h-2v1h-2v-2h-2v1h-2h-2v-1h-2v1h-2v2h-2v-2h-2z" fill="#ff0000"/><path d="M102 400h2v3h2v-5h2v1h2v5h2h2h2v-1h2v2h2h2v1h2v-2h2v2h2v-2h2v1h2v1h2v-1h2v-1h2v2h2v-2h2h2h2h2v-3h2v2h2v-3h2v4h2h2v-2h2v1h2v1h2v-1h2v-1h2v3h2v-2h2v1h2v1h2h2v-2h2v3h2h2v-1h2v1h2h2v-3h2v2h2v-1h2h2v-3h2v-1h2v1h2v1h2v-1h2v1h2h2v-2h2v1h2v-3h2v5h2v-1h2v-1h2v2h2h2h2h2v1h2v-1h2h2v1h2v-1h2v2h2h2h2v-1h2v-2h2v1h2h2v-1h2v1h2v-1h2v1h2h2h2h2h2v1h2v-1h2v-1h2v1h2v-3h2v1h2v3h2v1h2v-2h2h2v2h2v2h2v-2h2v-2h2v3h2v-1h2v1h2v-1h2v-1h2v1h2h2h2v-4h2v3h2v-4h2v3h2h2h2v-6h2v5h2v2h2v-4h2v-1h2v5h2v-1h2v1h2v-2h2v3h2h2v1h2v-1h2v-2h2v2h2h2h2v-2h2h2v1h2V423h-2h-2v-1h-2v1h-2v-1h-2h-2v-1h-2h-2h-2v1h-2v-2h-2v1h-2h-2v1h-2v-2h-2v6h-2v-2h-2v-2h-2v1h-2v-2h-2h-2v1h-2v1h-2v-1h-2v2h-2v-2h-2v-1h-2v2h-2v-1h-2v1h-2h-2v-1h-2h-2h-2v3h-2v-4h-2v3h-2v-3h-2h-2v1h-2v-1h-2v1h-2v2h-2h-2v1h-2v-4h-2v1h-2h-2v1h-2v-1h-2h-2h-2h-2v1h-2h-2v1h-2v2h-2v-3h-2h-2v-1h-2h-2v2h-2v-1h-2v-1h-2h-2v-1h-2h-2v1h-2v1h-2v-2h-2h-2v2h-2v-1h-2v-1h-2h-2h-2v1h-2h-2v1h-2v-1h-2v-1h-2v1h-2v1h-2v-2h-2v2h-2v-2h-2v1h-2v-1h-2v1h-2v-1h-2v1h-2v-1h-2v-1h-2h-2h-2h-2v1h-2h-2h-2h-2v1h-2h-2h-2v-1h-2h-2v2h-2h-2v-2h-2v1h-2v1h-2v-1h-2h-2h-2h-2v2h-2v-2h-2v1h-2v-1h-2v1h-2h-2v1h-2v-3h-2h-2h-2h-2v1h-2h-2h-2v1h-2v4h-2v-4h-2h-2v1h-2z" fill="#0000ff"/><path d="M204 403h3v3h-3zM192 395h3v3h-3zM284 398h3v3h-3zM264 395h3v3h-3zM241 398h3v3h-3zM254 398h3v3h-3zM249 403h3v3h-3zM134 394h3v3h-3zM196 395h3v3h-3zM113 401h3v3h-3zM323 394h3v3h-3zM153 396h3v3h-3zM204 403h3v3h-3zM125 397h3v3h-3zM242 396h3v3h-3zM192 400h3v3h-3zM283 401h3v3h-3zM287 397h3v3h-3zM140 394h3v3h-3zM279 401h3v3h-3zM288 399h3v3h-3zM211 394h3v3h-3zM222 395h3v3h-3zM181 401h3v3h-3zM258 402h3v3h-3zM329 400h3v3h-3zM349 395h3v3h-3zM298 400h3v3h-3zM248 395h3v3h-3zM235 402h3v3h-3zM291 402h3v3h-3zM308 395h3v3h-3zM209 402h3v3h-3zM293 398h3v3h-3zM223 398h3v3h-3zM200 397h3v3h-3zM227 399h3v3h-3zM144 396h3v3h-3zM269 399h3v3h-3zM232 399h3v3h-3zM197 403h3v3h-3zM182 399h3v3h-3zM182 399h3v3h-3zM184 398h3v3h-3zM117 397h3v3h-3zM223 400h3v3h-3z" fill="#0000ff"/><path d="M372 405h2h2v-2h2v1h2V422h-2h-2h-2v-1h-2z" fill="#0000ff"/><path d="M358 397h3v3h-3zM363 395h3v3h-3z" fill="#0000ff"/><path d="M379 400h2v2h2v-1h2v1h2v-2h2v2h2v-2h2v1h2v-4h2v7h2h2v-2h2h2v2h2v1h2h2h2v1h2v-4h2v3h2v-3h2v3h2v-3h2v1h2h2v1h2v-1h2h2h2h2v-2h2v-1h2v-1h2v5h2h2v1h2v-1h2v-6h2v3h2v3h2h2v2h2v-4h2v4h2h2h2h2h2v-2h2v1h2v-4h2v-1h2v4h2v-1h2h2v-3h2v2h2h2v-3h2v3h2v-1h2v1h2h2v-1h2v1h2h2v-4h2v6h2v-3h2v2h2v1h2v-4h2h2v2h2v3h2v-1h2v-1h2v-1h2h2h2v1h2v-2h2h2v1h2v-1h2v2h2v-3h2v1h2v1h2h2v2h2v-3h2v1h2v1h2v1h2v-1h2v2h2h2v-1h2v2h2h2v-1h2v-2h2v3h2h2v-1h2h2v-1h2h2h2h2v-2h2v1h2v-3h2v2h2V422h-2h-2v-1h-2v1h-2v4h-2v-3h-2v-1h-2v1h-2h-2v3h-2v-4h-2v2h-2v-2h-2v-1h-2v1h-2v-1h-2h-2h-2h-2v1h-2v-1h-2h-2v3h-2v2h-2v-4h-2v2h-2v-2h-2h-2h-2h-2h-2v2h-2v-1h-2h-2v1h-2v-2h-2h-2h-2h-2h-2v3h-2v-4h-2v1h-2v-1h-2h-2v1h-2v-1h-2h-2h-2v-1h-2h-2v1h-2v1h-2v-1h-2v1h-2v1h-2v-2h-2v1h-2v1h-2v3h-2v-4h-2v-1h-2v2h-2v-2h-2v1h-2v1h-2v-1h-2v-1h-2v2h-2v-2h-2h-2v-1h-2h-2v2h-2h-2v-1h-2v2h-2v-2h-2v1h-2v-1h-2h-2h-2h-2v1h-2v1h-2h-2h-2v1h-2h-2v-2h-2v3h-2v-2h-2h-2h-2v-1h-2h-2v1h-2h-2v-1h-2v1h-2h-2h-2v-2h-2h-2v1h-2v-1h-2v1h-2v1h-2v-2h-2v3h-2v-2h-2h-2v-1h-2v1h-2h-2z" fill="#0000ff"/><path d="M594 397h3v3h-3zM474 397h3v3h-3zM441 398h3v3h-3zM595 399h3v3h-3zM421 401h3v3h-3zM457 392h3v3h-3zM472 398h3v3h-3zM421 403h3v3h-3zM496 392h3v3h-3zM547 403h3v3h-3zM424 394h3v3h-3zM442 396h3v3h-3zM491 392h3v3h-3zM599 400h3v3h-3zM473 399h3v3h-3zM509 401h3v3h-3zM465 403h3v3h-3zM556 399h3v3h-3zM525 399h3v3h-3zM424 402h3v3h-3zM511 394h3v3h-3zM487 400h3v3h-3zM566 394h3v3h-3zM492 403h3v3h-3zM432 396h3v3h-3zM597 400h3v3h-3zM517 397h3v3h-3zM433 400h3v3h-3zM483 393h3v3h-3zM600 393h3v3h-3zM507 400h3v3h-3zM521 396h3v3h-3zM557 395h3v3h-3zM550 397h3v3h-3zM600 401h3v3h-3zM461 402h3v3h-3zM503 396h3v3h-3zM448 394h3v3h-3zM427 394h3v3h-3zM492 400h3v3h-3z" fill="#0000ff"/><path d="M447 427h3v3h-3z" fill="#0000ff"/><path d="M612 403h2v-2h2v3h2v-1h2v1h2v-1h2v1h2v-1h2v-1h2v1h2v-3h2v2h2v-1h2v1h2v1h2v-2h2v2h2v-4h2v1h2v1h2v1h2v-1h2v-2h2v3h2v-1h2v1h2h2h2v-1h2v-3h2V422h-2v1h-2v-1h-2h-2h-2v1h-2v2h-2v-2h-2v-1h-2v1h-2h-2v1h-2v-2h-2h-2v1h-2v-1h-2v1h-2v-1h-2v2h-2v-1h-2v2h-2v-1h-2h-2v-2h-2v4h-2v-4h-2v1h-2v-2h-2v1h-2h-2z" fill="#0000ff"/><path d="M667 396h3v3h-3zM620 397h3v3h-3zM662 401h3v3h-3zM648 398h3v3h-3zM639 397h3v3h-3zM667 397h3v3h-3zM620 399h3v3h-3zM635 397h3v3h-3zM667 399h3v3h-3zM640 401h3v3h-3z" fill="#0000ff"/></g>
<g><rect x="750.5" y="397.5" width="47" height="28" fill="#fff" stroke="#000" stroke-width="1"/><path d="M798.4 399.5V426.4H752.5" stroke="#000" stroke-width="1" fill="none" shape-rendering="auto"/><circle cx="758.8" cy="410.6" r="2.6" fill="#0000ff" shape-rendering="auto"/><text transform="translate(0 0) scale(1.0 1.07)" font-family='"Liberation Mono", monospace' font-size="13" fill="#000"></text><g font-family='"Liberation Mono", monospace' font-size="13" fill="#000"><text x="783" y="415">X</text><text x="783" y="415">Y</text></g></g>
<g clip-path="url(#c102_8)"><path d="M102 435h2h2h2h2v1h2v-1h2h2h2v1h2h2v-1h2h2h2v1h2h2v-1h2h2h2h2h2h2h2h2h2h2v1h2v-1h2v1h2v-1h2h2h2h2h2h2h2h2v1h2v-1h2h2h2h2h2v1h2v-1h2h2h2h2h2h2h2h2h2h2h2h2h2h2h2h2h2h2v1h2v-1h2h2h2h2h2h2h2v-1h2v1h2v-1h2v1h2h2h2h2h2v1h2h2h2v-1h2h2h2h2h2h2h2v1h2h2v-1h2h2h2h2v1h2v-1h2h2h2v1h2v-1h2h2h2h2h2h2h2h2h2h2h2v1h2v-1h2h2h2h2v1h2h2v-1h2h2h2v1h2h2v-1h2h2h2v1h2v-1h2h2h2h2v1h2v-1h2v1h2v-1h2h2h2h2h2h2h2h2h2h2h2v-1h2v1h2v-1h2v2h2h2v-1h2h2h2v-1h2v1h2h2h2h2h2h2h2v1h2h2v-2h2v1h2h2h2h2v-1h2v1h2h2h2h2h2h2h2h2v1h2h2v-1h2h2h2h2v1h2v-1h2h2h2h2h2h2h2h2h2h2h2h2h2h2h2v1h2v-1h2h2v1h2v-1h2h2h2h2h2h2h2v1h2v-1h2v1h2v-1h2h2h2h2h2h2h2v1h2v-1h2h2h2v1h2h2v-1h2h2h2v1h2v-1h2v1h2v-1h2v1h2v-1h2h2h2h2h2h2h2h2v1h2v-1h2h2h2h2h2h2h2v1h2v-1h2v1h2v-1h2h2h2h2h2h2h2v-1h2v1h2h2h2h2h2h2h2h2h2h2h2h2v1h2v-1h2h2h2h2h2v1h2v-1h2h2h2h2h2h2h2V442h-2h-2h-2h-2h-2h-2h-2h-2h-2h-2h-2v2h-2v-2h-2h-2h-2h-2h-2h-2h-2h-2v1h-2v-1h-2h-2h-2h-2v1h-2v-1h-2h-2v2h-2v-1h-2v-1h-2h-2h-2h-2h-2h-2h-2v1h-2v2h-2v-3h-2h-2h-2v1h-2v-1h-2v1h-2v-1h-2h-2h-2v1h-2h-2v-1h-2h-2h-2h-2h-2h-2h-2h-2v1h-2h-2v-1h-2h-2h-2v1h-2v-1h-2h-2h-2h-2v1h-2v-1h-2h-2h-2h-2h-2h-2h-2v1h-2v-1h-2h-2v1h-2h-2v-1h-2h-2h-2h-2v1h-2v-1h-2v1h-2h-2v-1h-2h-2v1h-2v-1h-2h-2h-2h-2h-2v1h-2h-2v-1h-2v3h-2v-2h-2h-2v-1h-2h-2v1h-2v-1h-2v2h-2v-1h-2v-1h-2h-2h-2h-2h-2h-2h-2v1h-2v-1h-2v2h-2v-2h-2h-2v1h-2h-2v-1h-2h-2h-2h-2v1h-2v-1h-2v2h-2v-1h-2v-1h-2h-2v2h-2v-2h-2h-2h-2h-2h-2h-2h-2v1h-2v-1h-2h-2v1h-2v3h-2v-4h-2h-2h-2v1h-2v-1h-2h-2v3h-2v-3h-2h-2h-2h-2h-2h-2h-2h-2v2h-2v-1h-2v-1h-2h-2v1h-2v-1h-2h-2h-2h-2v1h-2h-2v-1h-2h-2h-2h-2h-2v1h-2h-2v-1h-2h-2h-2v1h-2h-2v-1h-2v1h-2v-1h-2h-2h-2h-2h-2h-2h-2h-2h-2h-2h-2h-2h-2h-2h-2v1h-2v-1h-2v2h-2v-2h-2h-2h-2h-2h-2v1h-2h-2h-2v-1h-2h-2h-2h-2h-2h-2v2h-2v-1h-2v-1h-2h-2h-2v1h-2v-1h-2v1h-2v-1h-2v2h-2v-2h-2h-2v2h-2v-2h-2h-2h-2h-2v2h-2v-1h-2v-1h-2h-2h-2h-2h-2h-2v2h-2v-2h-2v1h-2v-1h-2v1h-2v-1h-2h-2h-2h-2v1h-2v1h-2v-2h-2h-2h-2h-2h-2h-2v1h-2h-2v-1h-2h-2v4h-2v-4h-2h-2v2h-2v-2h-2h-2h-2h-2v1h-2h-2h-2v-1h-2h-2v1h-2v-1h-2h-2v2h-2v-2h-2v1h-2v-1h-2h-2z" fill="#ffa500"/><path d="M539 446h3v3h-3z" fill="#ffa500"/></g>
<g clip-path="url(#c102_9)"><path d="M102.4 509.5H670.6" stroke="#0000ff" stroke-width="1"/></g>
<g clip-path="url(#c102_10)"><path d="M102.5 563.5H412.5 V563.5H412.5 V553.5H670.5 V553.5" stroke="#0000ff" stroke-width="1" fill="none"/><path d="M412.5 563V583" stroke="#0000ff" stroke-width="2"/><path d="M414.5 538V553.5" stroke="#0000ff" stroke-width="1"/><path d="M415.5 547V553.5" stroke="#0000ff" stroke-width="1"/><path d="M400.5 553V563.5" stroke="#0000ff" stroke-width="1"/><path d="M442 538V553.5" stroke="#0000ff" stroke-width="2"/><path d="M622.5 550V559" stroke="#0000ff" stroke-width="1"/></g>
<g clip-path="url(#c102_11)"><path d="M102.5 589.5H433.5 V589.5H433.5 V635.5H670.5 V635.5" stroke="#009000" stroke-width="1" fill="none"/><path d="M416 589V635.5" stroke="#009000" stroke-width="2"/><path d="M420 589V604" stroke="#009000" stroke-width="2"/></g>
<g clip-path="url(#c102_12)"><path d="M102.4 663.5H670.6" stroke="#009000" stroke-width="1"/></g>
<g clip-path="url(#c102_13)"><path d="M102.4 716.5H670.6" stroke="#ff0000" stroke-width="1"/><path d="M593 692.5V716" stroke="#ff0000" stroke-width="2"/><path d="M594 716V738.8" stroke="#ff0000" stroke-width="2"/></g>
<g clip-path="url(#c102_14)"><path d="M102.4 782.5H670.6" stroke="#ff0000" stroke-width="1"/><path d="M594.5 743.8V782.5" stroke="#ff0000" stroke-width="2"/></g>
<g clip-path="url(#c102_15)"><path d="M102.4 807.5H670.6" stroke="#ff00ff" stroke-width="1"/></g>
<path d="M968.5 19.5V68.5M1031.5 19.5V68.5M1094.5 19.5V68.5M1157.5 19.5V68.5M1221.5 19.5V68.5M1284.5 19.5V68.5M1347.5 19.5V68.5M1410.5 19.5V68.5M904.5 25.5H1472.5M904.5 39.5H1472.5M904.5 54.5H1472.5M968.5 68.5V107.5M1031.5 68.5V107.5M1094.5 68.5V107.5M1157.5 68.5V107.5M1221.5 68.5V107.5M1284.5 68.5V107.5M1347.5 68.5V107.5M1410.5 68.5V107.5M904.5 78.5H1472.5M904.5 92.5H1472.5M968.5 107.5V157.5M1031.5 107.5V157.5M1094.5 107.5V157.5M1157.5 107.5V157.5M1221.5 107.5V157.5M1284.5 107.5V157.5M1347.5 107.5V157.5M1410.5 107.5V157.5M904.5 114.5H1472.5M904.5 124.5H1472.5M904.5 134.5H1472.5M904.5 144.5H1472.5M904.5 153.5H1472.5M968.5 157.5V206.5M1031.5 157.5V206.5M1094.5 157.5V206.5M1157.5 157.5V206.5M1221.5 157.5V206.5M1284.5 157.5V206.5M1347.5 157.5V206.5M1410.5 157.5V206.5M904.5 162.5H1472.5M904.5 170.5H1472.5M904.5 179.5H1472.5M904.5 187.5H1472.5M904.5 196.5H1472.5M904.5 204.5H1472.5M968.5 206.5V257.5M1031.5 206.5V257.5M1094.5 206.5V257.5M1157.5 206.5V257.5M1221.5 206.5V257.5M1284.5 206.5V257.5M1347.5 206.5V257.5M1410.5 206.5V257.5M904.5 210.5H1472.5M904.5 219.5H1472.5M904.5 228.5H1472.5M904.5 237.5H1472.5M904.5 246.5H1472.5M904.5 255.5H1472.5M968.5 262.5V312.5M1031.5 262.5V312.5M1094.5 262.5V312.5M1157.5 262.5V312.5M1221.5 262.5V312.5M1284.5 262.5V312.5M1347.5 262.5V312.5M1410.5 262.5V312.5M904.5 274.5H1472.5M904.5 287.5H1472.5M904.5 299.5H1472.5M968.5 312.5V361.5M1031.5 312.5V361.5M1094.5 312.5V361.5M1157.5 312.5V361.5M1221.5 312.5V361.5M1284.5 312.5V361.5M1347.5 312.5V361.5M1410.5 312.5V361.5M904.5 324.5H1472.5M904.5 337.5H1472.5M904.5 349.5H1472.5M968.5 361.5V410.5M1031.5 361.5V410.5M1094.5 361.5V410.5M1157.5 361.5V410.5M1221.5 361.5V410.5M1284.5 361.5V410.5M1347.5 361.5V410.5M1410.5 361.5V410.5M904.5 373.5H1472.5M904.5 385.5H1472.5M904.5 398.5H1472.5M968.5 410.5V460.5M1031.5 410.5V460.5M1094.5 410.5V460.5M1157.5 410.5V460.5M1221.5 410.5V460.5M1284.5 410.5V460.5M1347.5 410.5V460.5M1410.5 410.5V460.5M904.5 414.5H1472.5M904.5 425.5H1472.5M904.5 435.5H1472.5M904.5 446.5H1472.5M904.5 457.5H1472.5M968.5 463.5V512.5M1031.5 463.5V512.5M1094.5 463.5V512.5M1157.5 463.5V512.5M1221.5 463.5V512.5M1284.5 463.5V512.5M1347.5 463.5V512.5M1410.5 463.5V512.5M904.5 469.5H1472.5M904.5 481.5H1472.5M904.5 493.5H1472.5M904.5 505.5H1472.5M968.5 512.5V562.5M1031.5 512.5V562.5M1094.5 512.5V562.5M1157.5 512.5V562.5M1221.5 512.5V562.5M1284.5 512.5V562.5M1347.5 512.5V562.5M1410.5 512.5V562.5M904.5 517.5H1472.5M904.5 528.5H1472.5M904.5 539.5H1472.5M904.5 551.5H1472.5M968.5 562.5V611.5M1031.5 562.5V611.5M1094.5 562.5V611.5M1157.5 562.5V611.5M1221.5 562.5V611.5M1284.5 562.5V611.5M1347.5 562.5V611.5M1410.5 562.5V611.5M904.5 563.5H1472.5M904.5 573.5H1472.5M904.5 583.5H1472.5M904.5 594.5H1472.5M904.5 604.5H1472.5M968.5 611.5V660.5M1031.5 611.5V660.5M1094.5 611.5V660.5M1157.5 611.5V660.5M1221.5 611.5V660.5M1284.5 611.5V660.5M1347.5 611.5V660.5M1410.5 611.5V660.5M904.5 621.5H1472.5M904.5 635.5H1472.5M904.5 650.5H1472.5M968.5 660.5V710.5M1031.5 660.5V710.5M1094.5 660.5V710.5M1157.5 660.5V710.5M1221.5 660.5V710.5M1284.5 660.5V710.5M1347.5 660.5V710.5M1410.5 660.5V710.5M904.5 667.5H1472.5M904.5 676.5H1472.5M904.5 685.5H1472.5M904.5 694.5H1472.5M904.5 703.5H1472.5M968.5 710.5V759.5M1031.5 710.5V759.5M1094.5 710.5V759.5M1157.5 710.5V759.5M1221.5 710.5V759.5M1284.5 710.5V759.5M1347.5 710.5V759.5M1410.5 710.5V759.5M904.5 722.5H1472.5M904.5 734.5H1472.5M904.5 746.5H1472.5M968.5 759.5V799.5M1031.5 759.5V799.5M1094.5 759.5V799.5M1157.5 759.5V799.5M1221.5 759.5V799.5M1284.5 759.5V799.5M1347.5 759.5V799.5M1410.5 759.5V799.5M904.5 767.5H1472.5M904.5 777.5H1472.5M904.5 787.5H1472.5M904.5 797.5H1472.5M968.5 799.5V840.5M1031.5 799.5V840.5M1094.5 799.5V840.5M1157.5 799.5V840.5M1221.5 799.5V840.5M1284.5 799.5V840.5M1347.5 799.5V840.5M1410.5 799.5V840.5M904.5 808.5H1472.5M904.5 820.5H1472.5M904.5 833.5H1472.5M968.5 840.5V880.5M1031.5 840.5V880.5M1094.5 840.5V880.5M1157.5 840.5V880.5M1221.5 840.5V880.5M1284.5 840.5V880.5M1347.5 840.5V880.5M1410.5 840.5V880.5M904.5 849.5H1472.5M904.5 860.5H1472.5M904.5 870.5H1472.5" stroke="#969696" stroke-width="1" stroke-dasharray="2 2" fill="none"/>
<path d="M904 19.5H1473M904 68.5H1473M904.5 19V69M1472.5 19V69M904 68.5H1473M904.5 68V108M1472.5 68V108M904 157.5H1473M904.5 107V158M1472.5 107V158M904 157.5H1473M904 206.5H1473M904.5 157V207M1472.5 157V207M904 206.5H1473M904 257.5H1473M904.5 206V258M1472.5 206V258M904 262.5H1473M904.5 262V313M1472.5 262V313M904 361.5H1473M904.5 312V362M1472.5 312V362M904 361.5H1473M904 410.5H1473M904.5 361V411M1472.5 361V411M904 410.5H1473M904 460.5H1473M904.5 410V461M1472.5 410V461M904 463.5H1473M904 512.5H1473M904.5 463V513M1472.5 463V513M904 512.5H1473M904 562.5H1473M904.5 512V563M1472.5 512V563M904 562.5H1473M904 611.5H1473M904.5 562V612M1472.5 562V612M904 611.5H1473M904 660.5H1473M904.5 611V661M1472.5 611V661M904 660.5H1473M904 710.5H1473M904.5 660V711M1472.5 660V711M904 710.5H1473M904 759.5H1473M904.5 710V760M1472.5 710V760M904 759.5H1473M904 799.5H1473M904.5 759V800M1472.5 759V800M904 799.5H1473M904 840.5H1473M904.5 799V841M1472.5 799V841M904 840.5H1473M904 880.5H1473M904.5 840V881M1472.5 840V881M904 107.5H1473M904 312.5H1473" stroke="#000" stroke-width="1" fill="none"/>
<path d="M904 107.5H1473M904 312.5H1473" stroke="#a8a8a8" stroke-width="1" stroke-dasharray="2 2" stroke-dashoffset="1" fill="none"/>
<path d="M926.5 68.5v-4M947.5 68.5v-4M968.5 68.5v-9M989.5 68.5v-4M1010.5 68.5v-4M1031.5 68.5v-9M1052.5 68.5v-4M1073.5 68.5v-4M1094.5 68.5v-9M1115.5 68.5v-4M1136.5 68.5v-4M1157.5 68.5v-9M1178.5 68.5v-4M1199.5 68.5v-4M1221.5 68.5v-9M1242.5 68.5v-4M1263.5 68.5v-4M1284.5 68.5v-9M1305.5 68.5v-4M1326.5 68.5v-4M1347.5 68.5v-9M1368.5 68.5v-4M1389.5 68.5v-4M1410.5 68.5v-9M1431.5 68.5v-4M1452.5 68.5v-4M904.5 19.5h6.5M904.5 22.5h6.5M904.5 25.5h20M904.5 28.5h6.5M904.5 31.5h6.5M904.5 33.5h6.5M904.5 36.5h6.5M904.5 39.5h20M904.5 42.5h6.5M904.5 45.5h6.5M904.5 48.5h6.5M904.5 51.5h6.5M904.5 54.5h20M904.5 56.5h6.5M904.5 59.5h6.5M904.5 62.5h6.5M904.5 65.5h6.5M904.5 68.5h20M926.5 107.5v-4M947.5 107.5v-4M968.5 107.5v-9M989.5 107.5v-4M1010.5 107.5v-4M1031.5 107.5v-9M1052.5 107.5v-4M1073.5 107.5v-4M1094.5 107.5v-9M1115.5 107.5v-4M1136.5 107.5v-4M1157.5 107.5v-9M1178.5 107.5v-4M1199.5 107.5v-4M1221.5 107.5v-9M1242.5 107.5v-4M1263.5 107.5v-4M1284.5 107.5v-9M1305.5 107.5v-4M1326.5 107.5v-4M1347.5 107.5v-9M1368.5 107.5v-4M1389.5 107.5v-4M1410.5 107.5v-9M1431.5 107.5v-4M1452.5 107.5v-4M904.5 69.5h6.5M904.5 72.5h6.5M904.5 75.5h6.5M904.5 78.5h20M904.5 81.5h6.5M904.5 84.5h6.5M904.5 86.5h6.5M904.5 89.5h6.5M904.5 92.5h20M904.5 95.5h6.5M904.5 98.5h6.5M904.5 101.5h6.5M904.5 104.5h6.5M904.5 107.5h20M926.5 157.5v-4M947.5 157.5v-4M968.5 157.5v-9M989.5 157.5v-4M1010.5 157.5v-4M1031.5 157.5v-9M1052.5 157.5v-4M1073.5 157.5v-4M1094.5 157.5v-9M1115.5 157.5v-4M1136.5 157.5v-4M1157.5 157.5v-9M1178.5 157.5v-4M1199.5 157.5v-4M1221.5 157.5v-9M1242.5 157.5v-4M1263.5 157.5v-4M1284.5 157.5v-9M1305.5 157.5v-4M1326.5 157.5v-4M1347.5 157.5v-9M1368.5 157.5v-4M1389.5 157.5v-4M1410.5 157.5v-9M1431.5 157.5v-4M1452.5 157.5v-4M904.5 109.5h6.5M904.5 111.5h6.5M904.5 112.5h6.5M904.5 114.5h20M904.5 116.5h6.5M904.5 118.5h6.5M904.5 120.5h6.5M904.5 122.5h6.5M904.5 124.5h20M904.5 126.5h6.5M904.5 128.5h6.5M904.5 130.5h6.5M904.5 132.5h6.5M904.5 134.5h20M904.5 136.5h6.5M904.5 138.5h6.5M904.5 140.5h6.5M904.5 142.5h6.5M904.5 144.5h20M904.5 146.5h6.5M904.5 147.5h6.5M904.5 149.5h6.5M904.5 151.5h6.5M904.5 153.5h20M904.5 155.5h6.5M926.5 206.5v-4M947.5 206.5v-4M968.5 206.5v-9M989.5 206.5v-4M1010.5 206.5v-4M1031.5 206.5v-9M1052.5 206.5v-4M1073.5 206.5v-4M1094.5 206.5v-9M1115.5 206.5v-4M1136.5 206.5v-4M1157.5 206.5v-9M1178.5 206.5v-4M1199.5 206.5v-4M1221.5 206.5v-9M1242.5 206.5v-4M1263.5 206.5v-4M1284.5 206.5v-9M1305.5 206.5v-4M1326.5 206.5v-4M1347.5 206.5v-9M1368.5 206.5v-4M1389.5 206.5v-4M1410.5 206.5v-9M1431.5 206.5v-4M1452.5 206.5v-4M904.5 157.5h6.5M904.5 159.5h6.5M904.5 160.5h6.5M904.5 162.5h20M904.5 164.5h6.5M904.5 165.5h6.5M904.5 167.5h6.5M904.5 169.5h6.5M904.5 170.5h20M904.5 172.5h6.5M904.5 174.5h6.5M904.5 175.5h6.5M904.5 177.5h6.5M904.5 179.5h20M904.5 180.5h6.5M904.5 182.5h6.5M904.5 184.5h6.5M904.5 186.5h6.5M904.5 187.5h20M904.5 189.5h6.5M904.5 191.5h6.5M904.5 192.5h6.5M904.5 194.5h6.5M904.5 196.5h20M904.5 197.5h6.5M904.5 199.5h6.5M904.5 201.5h6.5M904.5 202.5h6.5M904.5 204.5h20M904.5 206.5h6.5M926.5 257.5v-4M947.5 257.5v-4M968.5 257.5v-9M989.5 257.5v-4M1010.5 257.5v-4M1031.5 257.5v-9M1052.5 257.5v-4M1073.5 257.5v-4M1094.5 257.5v-9M1115.5 257.5v-4M1136.5 257.5v-4M1157.5 257.5v-9M1178.5 257.5v-4M1199.5 257.5v-4M1221.5 257.5v-9M1242.5 257.5v-4M1263.5 257.5v-4M1284.5 257.5v-9M1305.5 257.5v-4M1326.5 257.5v-4M1347.5 257.5v-9M1368.5 257.5v-4M1389.5 257.5v-4M1410.5 257.5v-9M1431.5 257.5v-4M1452.5 257.5v-4M904.5 206.5h6.5M904.5 208.5h6.5M904.5 210.5h20M904.5 211.5h6.5M904.5 213.5h6.5M904.5 215.5h6.5M904.5 217.5h6.5M904.5 219.5h20M904.5 220.5h6.5M904.5 222.5h6.5M904.5 224.5h6.5M904.5 226.5h6.5M904.5 228.5h20M904.5 229.5h6.5M904.5 231.5h6.5M904.5 233.5h6.5M904.5 235.5h6.5M904.5 237.5h20M904.5 238.5h6.5M904.5 240.5h6.5M904.5 242.5h6.5M904.5 244.5h6.5M904.5 246.5h20M904.5 248.5h6.5M904.5 249.5h6.5M904.5 251.5h6.5M904.5 253.5h6.5M904.5 255.5h20M904.5 257.5h6.5M926.5 312.5v-4M947.5 312.5v-4M968.5 312.5v-9M989.5 312.5v-4M1010.5 312.5v-4M1031.5 312.5v-9M1052.5 312.5v-4M1073.5 312.5v-4M1094.5 312.5v-9M1115.5 312.5v-4M1136.5 312.5v-4M1157.5 312.5v-9M1178.5 312.5v-4M1199.5 312.5v-4M1221.5 312.5v-9M1242.5 312.5v-4M1263.5 312.5v-4M1284.5 312.5v-9M1305.5 312.5v-4M1326.5 312.5v-4M1347.5 312.5v-9M1368.5 312.5v-4M1389.5 312.5v-4M1410.5 312.5v-9M1431.5 312.5v-4M1452.5 312.5v-4M904.5 262.5h20M904.5 264.5h6.5M904.5 267.5h6.5M904.5 269.5h6.5M904.5 272.5h6.5M904.5 274.5h20M904.5 277.5h6.5M904.5 279.5h6.5M904.5 282.5h6.5M904.5 284.5h6.5M904.5 287.5h20M904.5 289.5h6.5M904.5 292.5h6.5M904.5 294.5h6.5M904.5 297.5h6.5M904.5 299.5h20M904.5 302.5h6.5M904.5 304.5h6.5M904.5 307.5h6.5M904.5 309.5h6.5M904.5 312.5h20M926.5 361.5v-4M947.5 361.5v-4M968.5 361.5v-9M989.5 361.5v-4M1010.5 361.5v-4M1031.5 361.5v-9M1052.5 361.5v-4M1073.5 361.5v-4M1094.5 361.5v-9M1115.5 361.5v-4M1136.5 361.5v-4M1157.5 361.5v-9M1178.5 361.5v-4M1199.5 361.5v-4M1221.5 361.5v-9M1242.5 361.5v-4M1263.5 361.5v-4M1284.5 361.5v-9M1305.5 361.5v-4M1326.5 361.5v-4M1347.5 361.5v-9M1368.5 361.5v-4M1389.5 361.5v-4M1410.5 361.5v-9M1431.5 361.5v-4M1452.5 361.5v-4M904.5 312.5h20M904.5 315.5h6.5M904.5 317.5h6.5M904.5 319.5h6.5M904.5 322.5h6.5M904.5 324.5h20M904.5 327.5h6.5M904.5 329.5h6.5M904.5 332.5h6.5M904.5 334.5h6.5M904.5 337.5h20M904.5 339.5h6.5M904.5 341.5h6.5M904.5 344.5h6.5M904.5 346.5h6.5M904.5 349.5h20M904.5 351.5h6.5M904.5 354.5h6.5M904.5 356.5h6.5M904.5 358.5h6.5M904.5 361.5h20M926.5 410.5v-4M947.5 410.5v-4M968.5 410.5v-9M989.5 410.5v-4M1010.5 410.5v-4M1031.5 410.5v-9M1052.5 410.5v-4M1073.5 410.5v-4M1094.5 410.5v-9M1115.5 410.5v-4M1136.5 410.5v-4M1157.5 410.5v-9M1178.5 410.5v-4M1199.5 410.5v-4M1221.5 410.5v-9M1242.5 410.5v-4M1263.5 410.5v-4M1284.5 410.5v-9M1305.5 410.5v-4M1326.5 410.5v-4M1347.5 410.5v-9M1368.5 410.5v-4M1389.5 410.5v-4M1410.5 410.5v-9M1431.5 410.5v-4M1452.5 410.5v-4M904.5 361.5h20M904.5 363.5h6.5M904.5 366.5h6.5M904.5 368.5h6.5M904.5 371.5h6.5M904.5 373.5h20M904.5 376.5h6.5M904.5 378.5h6.5M904.5 381.5h6.5M904.5 383.5h6.5M904.5 385.5h20M904.5 388.5h6.5M904.5 390.5h6.5M904.5 393.5h6.5M904.5 395.5h6.5M904.5 398.5h20M904.5 400.5h6.5M904.5 402.5h6.5M904.5 405.5h6.5M904.5 407.5h6.5M904.5 410.5h20M926.5 460.5v-4M947.5 460.5v-4M968.5 460.5v-9M989.5 460.5v-4M1010.5 460.5v-4M1031.5 460.5v-9M1052.5 460.5v-4M1073.5 460.5v-4M1094.5 460.5v-9M1115.5 460.5v-4M1136.5 460.5v-4M1157.5 460.5v-9M1178.5 460.5v-4M1199.5 460.5v-4M1221.5 460.5v-9M1242.5 460.5v-4M1263.5 460.5v-4M1284.5 460.5v-9M1305.5 460.5v-4M1326.5 460.5v-4M1347.5 460.5v-9M1368.5 460.5v-4M1389.5 460.5v-4M1410.5 460.5v-9M1431.5 460.5v-4M1452.5 460.5v-4M904.5 412.5h6.5M904.5 414.5h20M904.5 416.5h6.5M904.5 418.5h6.5M904.5 420.5h6.5M904.5 422.5h6.5M904.5 425.5h20M904.5 427.5h6.5M904.5 429.5h6.5M904.5 431.5h6.5M904.5 433.5h6.5M904.5 435.5h20M904.5 438.5h6.5M904.5 440.5h6.5M904.5 442.5h6.5M904.5 444.5h6.5M904.5 446.5h20M904.5 448.5h6.5M904.5 451.5h6.5M904.5 453.5h6.5M904.5 455.5h6.5M904.5 457.5h20M904.5 459.5h6.5M926.5 512.5v-4M947.5 512.5v-4M968.5 512.5v-9M989.5 512.5v-4M1010.5 512.5v-4M1031.5 512.5v-9M1052.5 512.5v-4M1073.5 512.5v-4M1094.5 512.5v-9M1115.5 512.5v-4M1136.5 512.5v-4M1157.5 512.5v-9M1178.5 512.5v-4M1199.5 512.5v-4M1221.5 512.5v-9M1242.5 512.5v-4M1263.5 512.5v-4M1284.5 512.5v-9M1305.5 512.5v-4M1326.5 512.5v-4M1347.5 512.5v-9M1368.5 512.5v-4M1389.5 512.5v-4M1410.5 512.5v-9M1431.5 512.5v-4M1452.5 512.5v-4M904.5 464.5h6.5M904.5 466.5h6.5M904.5 469.5h20M904.5 471.5h6.5M904.5 474.5h6.5M904.5 476.5h6.5M904.5 479.5h6.5M904.5 481.5h20M904.5 483.5h6.5M904.5 486.5h6.5M904.5 488.5h6.5M904.5 491.5h6.5M904.5 493.5h20M904.5 496.5h6.5M904.5 498.5h6.5M904.5 500.5h6.5M904.5 503.5h6.5M904.5 505.5h20M904.5 508.5h6.5M904.5 510.5h6.5M926.5 562.5v-4M947.5 562.5v-4M968.5 562.5v-9M989.5 562.5v-4M1010.5 562.5v-4M1031.5 562.5v-9M1052.5 562.5v-4M1073.5 562.5v-4M1094.5 562.5v-9M1115.5 562.5v-4M1136.5 562.5v-4M1157.5 562.5v-9M1178.5 562.5v-4M1199.5 562.5v-4M1221.5 562.5v-9M1242.5 562.5v-4M1263.5 562.5v-4M1284.5 562.5v-9M1305.5 562.5v-4M1326.5 562.5v-4M1347.5 562.5v-9M1368.5 562.5v-4M1389.5 562.5v-4M1410.5 562.5v-9M1431.5 562.5v-4M1452.5 562.5v-4M904.5 512.5h6.5M904.5 515.5h6.5M904.5 517.5h20M904.5 519.5h6.5M904.5 521.5h6.5M904.5 524.5h6.5M904.5 526.5h6.5M904.5 528.5h20M904.5 530.5h6.5M904.5 533.5h6.5M904.5 535.5h6.5M904.5 537.5h6.5M904.5 539.5h20M904.5 542.5h6.5M904.5 544.5h6.5M904.5 546.5h6.5M904.5 548.5h6.5M904.5 551.5h20M904.5 553.5h6.5M904.5 555.5h6.5M904.5 557.5h6.5M904.5 560.5h6.5M904.5 562.5h20M926.5 611.5v-4M947.5 611.5v-4M968.5 611.5v-9M989.5 611.5v-4M1010.5 611.5v-4M1031.5 611.5v-9M1052.5 611.5v-4M1073.5 611.5v-4M1094.5 611.5v-9M1115.5 611.5v-4M1136.5 611.5v-4M1157.5 611.5v-9M1178.5 611.5v-4M1199.5 611.5v-4M1221.5 611.5v-9M1242.5 611.5v-4M1263.5 611.5v-4M1284.5 611.5v-9M1305.5 611.5v-4M1326.5 611.5v-4M1347.5 611.5v-9M1368.5 611.5v-4M1389.5 611.5v-4M1410.5 611.5v-9M1431.5 611.5v-4M1452.5 611.5v-4M904.5 563.5h20M904.5 565.5h6.5M904.5 567.5h6.5M904.5 569.5h6.5M904.5 571.5h6.5M904.5 573.5h20M904.5 575.5h6.5M904.5 577.5h6.5M904.5 579.5h6.5M904.5 581.5h6.5M904.5 583.5h20M904.5 585.5h6.5M904.5 588.5h6.5M904.5 590.5h6.5M904.5 592.5h6.5M904.5 594.5h20M904.5 596.5h6.5M904.5 598.5h6.5M904.5 600.5h6.5M904.5 602.5h6.5M904.5 604.5h20M904.5 606.5h6.5M904.5 608.5h6.5M904.5 610.5h6.5M926.5 660.5v-4M947.5 660.5v-4M968.5 660.5v-9M989.5 660.5v-4M1010.5 660.5v-4M1031.5 660.5v-9M1052.5 660.5v-4M1073.5 660.5v-4M1094.5 660.5v-9M1115.5 660.5v-4M1136.5 660.5v-4M1157.5 660.5v-9M1178.5 660.5v-4M1199.5 660.5v-4M1221.5 660.5v-9M1242.5 660.5v-4M1263.5 660.5v-4M1284.5 660.5v-9M1305.5 660.5v-4M1326.5 660.5v-4M1347.5 660.5v-9M1368.5 660.5v-4M1389.5 660.5v-4M1410.5 660.5v-9M1431.5 660.5v-4M1452.5 660.5v-4M904.5 612.5h6.5M904.5 615.5h6.5M904.5 618.5h6.5M904.5 621.5h20M904.5 624.5h6.5M904.5 627.5h6.5M904.5 630.5h6.5M904.5 632.5h6.5M904.5 635.5h20M904.5 638.5h6.5M904.5 641.5h6.5M904.5 644.5h6.5M904.5 647.5h6.5M904.5 650.5h20M904.5 653.5h6.5M904.5 656.5h6.5M904.5 659.5h6.5M926.5 710.5v-4M947.5 710.5v-4M968.5 710.5v-9M989.5 710.5v-4M1010.5 710.5v-4M1031.5 710.5v-9M1052.5 710.5v-4M1073.5 710.5v-4M1094.5 710.5v-9M1115.5 710.5v-4M1136.5 710.5v-4M1157.5 710.5v-9M1178.5 710.5v-4M1199.5 710.5v-4M1221.5 710.5v-9M1242.5 710.5v-4M1263.5 710.5v-4M1284.5 710.5v-9M1305.5 710.5v-4M1326.5 710.5v-4M1347.5 710.5v-9M1368.5 710.5v-4M1389.5 710.5v-4M1410.5 710.5v-9M1431.5 710.5v-4M1452.5 710.5v-4M904.5 662.5h6.5M904.5 663.5h6.5M904.5 665.5h6.5M904.5 667.5h20M904.5 669.5h6.5M904.5 671.5h6.5M904.5 672.5h6.5M904.5 674.5h6.5M904.5 676.5h20M904.5 678.5h6.5M904.5 679.5h6.5M904.5 681.5h6.5M904.5 683.5h6.5M904.5 685.5h20M904.5 687.5h6.5M904.5 688.5h6.5M904.5 690.5h6.5M904.5 692.5h6.5M904.5 694.5h20M904.5 695.5h6.5M904.5 697.5h6.5M904.5 699.5h6.5M904.5 701.5h6.5M904.5 703.5h20M904.5 704.5h6.5M904.5 706.5h6.5M904.5 708.5h6.5M904.5 710.5h6.5M926.5 759.5v-4M947.5 759.5v-4M968.5 759.5v-9M989.5 759.5v-4M1010.5 759.5v-4M1031.5 759.5v-9M1052.5 759.5v-4M1073.5 759.5v-4M1094.5 759.5v-9M1115.5 759.5v-4M1136.5 759.5v-4M1157.5 759.5v-9M1178.5 759.5v-4M1199.5 759.5v-4M1221.5 759.5v-9M1242.5 759.5v-4M1263.5 759.5v-4M1284.5 759.5v-9M1305.5 759.5v-4M1326.5 759.5v-4M1347.5 759.5v-9M1368.5 759.5v-4M1389.5 759.5v-4M1410.5 759.5v-9M1431.5 759.5v-4M1452.5 759.5v-4M904.5 710.5h20M904.5 712.5h6.5M904.5 714.5h6.5M904.5 717.5h6.5M904.5 719.5h6.5M904.5 722.5h20M904.5 724.5h6.5M904.5 727.5h6.5M904.5 729.5h6.5M904.5 732.5h6.5M904.5 734.5h20M904.5 736.5h6.5M904.5 739.5h6.5M904.5 741.5h6.5M904.5 744.5h6.5M904.5 746.5h20M904.5 749.5h6.5M904.5 751.5h6.5M904.5 754.5h6.5M904.5 756.5h6.5M904.5 759.5h20M926.5 799.5v-4M947.5 799.5v-4M968.5 799.5v-9M989.5 799.5v-4M1010.5 799.5v-4M1031.5 799.5v-9M1052.5 799.5v-4M1073.5 799.5v-4M1094.5 799.5v-9M1115.5 799.5v-4M1136.5 799.5v-4M1157.5 799.5v-9M1178.5 799.5v-4M1199.5 799.5v-4M1221.5 799.5v-9M1242.5 799.5v-4M1263.5 799.5v-4M1284.5 799.5v-9M1305.5 799.5v-4M1326.5 799.5v-4M1347.5 799.5v-9M1368.5 799.5v-4M1389.5 799.5v-4M1410.5 799.5v-9M1431.5 799.5v-4M1452.5 799.5v-4M904.5 759.5h6.5M904.5 761.5h6.5M904.5 763.5h6.5M904.5 765.5h6.5M904.5 767.5h20M904.5 769.5h6.5M904.5 771.5h6.5M904.5 773.5h6.5M904.5 775.5h6.5M904.5 777.5h20M904.5 779.5h6.5M904.5 781.5h6.5M904.5 783.5h6.5M904.5 785.5h6.5M904.5 787.5h20M904.5 789.5h6.5M904.5 791.5h6.5M904.5 793.5h6.5M904.5 795.5h6.5M904.5 797.5h20M904.5 799.5h6.5M926.5 840.5v-4M947.5 840.5v-4M968.5 840.5v-9M989.5 840.5v-4M1010.5 840.5v-4M1031.5 840.5v-9M1052.5 840.5v-4M1073.5 840.5v-4M1094.5 840.5v-9M1115.5 840.5v-4M1136.5 840.5v-4M1157.5 840.5v-9M1178.5 840.5v-4M1199.5 840.5v-4M1221.5 840.5v-9M1242.5 840.5v-4M1263.5 840.5v-4M1284.5 840.5v-9M1305.5 840.5v-4M1326.5 840.5v-4M1347.5 840.5v-9M1368.5 840.5v-4M1389.5 840.5v-4M1410.5 840.5v-9M1431.5 840.5v-4M1452.5 840.5v-4M904.5 800.5h6.5M904.5 803.5h6.5M904.5 805.5h6.5M904.5 808.5h20M904.5 810.5h6.5M904.5 813.5h6.5M904.5 815.5h6.5M904.5 818.5h6.5M904.5 820.5h20M904.5 823.5h6.5M904.5 825.5h6.5M904.5 828.5h6.5M904.5 830.5h6.5M904.5 833.5h20M904.5 835.5h6.5M904.5 838.5h6.5M926.5 880.5v-4M947.5 880.5v-4M968.5 880.5v-9M989.5 880.5v-4M1010.5 880.5v-4M1031.5 880.5v-9M1052.5 880.5v-4M1073.5 880.5v-4M1094.5 880.5v-9M1115.5 880.5v-4M1136.5 880.5v-4M1157.5 880.5v-9M1178.5 880.5v-4M1199.5 880.5v-4M1221.5 880.5v-9M1242.5 880.5v-4M1263.5 880.5v-4M1284.5 880.5v-9M1305.5 880.5v-4M1326.5 880.5v-4M1347.5 880.5v-9M1368.5 880.5v-4M1389.5 880.5v-4M1410.5 880.5v-9M1431.5 880.5v-4M1452.5 880.5v-4M904.5 841.5h6.5M904.5 843.5h6.5M904.5 845.5h6.5M904.5 847.5h6.5M904.5 849.5h20M904.5 851.5h6.5M904.5 853.5h6.5M904.5 856.5h6.5M904.5 858.5h6.5M904.5 860.5h20M904.5 862.5h6.5M904.5 864.5h6.5M904.5 866.5h6.5M904.5 868.5h6.5M904.5 870.5h20M904.5 873.5h6.5M904.5 875.5h6.5M904.5 877.5h6.5M904.5 879.5h6.5" stroke="#000" stroke-width="1" fill="none"/>
<g font-family='"Liberation Mono", monospace' font-size="13.0" fill="#000"><text transform="translate(902.5 30.3) scale(1 1.12)" text-anchor="end">1500</text><text transform="translate(902.5 44.6) scale(1 1.12)" text-anchor="end">1000</text><text transform="translate(902.5 58.9) scale(1 1.12)" text-anchor="end">500</text><text transform="translate(902.5 73.2) scale(1 1.12)" text-anchor="end">0</text><text transform="translate(902.5 83.3) scale(1 1.12)" text-anchor="end">10</text><text transform="translate(902.5 97.6) scale(1 1.12)" text-anchor="end">5</text><text transform="translate(902.5 111.9) scale(1 1.12)" text-anchor="end">0</text><text transform="translate(902.5 119.8) scale(1 1.12)" text-anchor="end">2</text><text transform="translate(902.5 129.5) scale(1 1.12)" text-anchor="end">1.5</text><text transform="translate(902.5 139.2) scale(1 1.12)" text-anchor="end">1</text><text transform="translate(902.5 149) scale(1 1.12)" text-anchor="end">0.5</text><text transform="translate(902.5 158.7) scale(1 1.12)" text-anchor="end">0</text><text transform="translate(902.5 167.4) scale(1 1.12)" text-anchor="end">2.5</text><text transform="translate(902.5 175.8) scale(1 1.12)" text-anchor="end">2</text><text transform="translate(902.5 184.2) scale(1 1.12)" text-anchor="end">1.5</text><text transform="translate(902.5 192.6) scale(1 1.12)" text-anchor="end">1</text><text transform="translate(902.5 201) scale(1 1.12)" text-anchor="end">0.5</text><text transform="translate(902.5 209.4) scale(1 1.12)" text-anchor="end">0</text><text transform="translate(902.5 214.9) scale(1 1.12)" text-anchor="end">100</text><text transform="translate(902.5 224) scale(1 1.12)" text-anchor="end">80</text><text transform="translate(902.5 233) scale(1 1.12)" text-anchor="end">60</text><text transform="translate(902.5 242.1) scale(1 1.12)" text-anchor="end">40</text><text transform="translate(902.5 251.1) scale(1 1.12)" text-anchor="end">20</text><text transform="translate(902.5 260.1) scale(1 1.12)" text-anchor="end">0</text><text transform="translate(902.5 267.2) scale(1 1.12)" text-anchor="end">200</text><text transform="translate(902.5 279.7) scale(1 1.12)" text-anchor="end">150</text><text transform="translate(902.5 292.2) scale(1 1.12)" text-anchor="end">100</text><text transform="translate(902.5 304.7) scale(1 1.12)" text-anchor="end">50</text><text transform="translate(902.5 317.2) scale(1 1.12)" text-anchor="end">0</text><text transform="translate(902.5 317.5) scale(1 1.12)" text-anchor="end">0.8</text><text transform="translate(902.5 329.7) scale(1 1.12)" text-anchor="end">0.6</text><text transform="translate(902.5 341.9) scale(1 1.12)" text-anchor="end">0.4</text><text transform="translate(902.5 354.1) scale(1 1.12)" text-anchor="end">0.2</text><text transform="translate(902.5 366.3) scale(1 1.12)" text-anchor="end">0</text><text transform="translate(902.5 366.4) scale(1 1.12)" text-anchor="end">4</text><text transform="translate(902.5 378.6) scale(1 1.12)" text-anchor="end">3</text><text transform="translate(902.5 390.8) scale(1 1.12)" text-anchor="end">2</text><text transform="translate(902.5 403) scale(1 1.12)" text-anchor="end">1</text><text transform="translate(902.5 415.2) scale(1 1.12)" text-anchor="end">0</text><text transform="translate(902.5 419.1) scale(1 1.12)" text-anchor="end">50</text><text transform="translate(902.5 429.9) scale(1 1.12)" text-anchor="end">45</text><text transform="translate(902.5 440.8) scale(1 1.12)" text-anchor="end">40</text><text transform="translate(902.5 451.6) scale(1 1.12)" text-anchor="end">35</text><text transform="translate(902.5 462.5) scale(1 1.12)" text-anchor="end">30</text><text transform="translate(902.5 474.3) scale(1 1.12)" text-anchor="end">-4.6</text><text transform="translate(902.5 486.4) scale(1 1.12)" text-anchor="end">-4.8</text><text transform="translate(902.5 498.5) scale(1 1.12)" text-anchor="end">-5</text><text transform="translate(902.5 510.6) scale(1 1.12)" text-anchor="end">-5.2</text><text transform="translate(902.5 522.2) scale(1 1.12)" text-anchor="end">2</text><text transform="translate(902.5 533.5) scale(1 1.12)" text-anchor="end">1.5</text><text transform="translate(902.5 544.8) scale(1 1.12)" text-anchor="end">1</text><text transform="translate(902.5 556.1) scale(1 1.12)" text-anchor="end">0.5</text><text transform="translate(902.5 567.4) scale(1 1.12)" text-anchor="end">0</text><text transform="translate(902.5 568.3) scale(1 1.12)" text-anchor="end">47.02</text><text transform="translate(902.5 578.5) scale(1 1.12)" text-anchor="end">47</text><text transform="translate(902.5 588.8) scale(1 1.12)" text-anchor="end">46.98</text><text transform="translate(902.5 599) scale(1 1.12)" text-anchor="end">46.96</text><text transform="translate(902.5 609.3) scale(1 1.12)" text-anchor="end">46.94</text><text transform="translate(902.5 626.1) scale(1 1.12)" text-anchor="end">1.72</text><text transform="translate(902.5 640.8) scale(1 1.12)" text-anchor="end">1.7</text><text transform="translate(902.5 655.4) scale(1 1.12)" text-anchor="end">1.68</text><text transform="translate(902.5 672.4) scale(1 1.12)" text-anchor="end">27.89</text><text transform="translate(902.5 681.3) scale(1 1.12)" text-anchor="end">27.88</text><text transform="translate(902.5 690.2) scale(1 1.12)" text-anchor="end">27.87</text><text transform="translate(902.5 699.1) scale(1 1.12)" text-anchor="end">27.86</text><text transform="translate(902.5 708) scale(1 1.12)" text-anchor="end">27.85</text><text transform="translate(902.5 714.9) scale(1 1.12)" text-anchor="end">0.001</text><text transform="translate(902.5 727.1) scale(1 1.12)" text-anchor="end">5E-4</text><text transform="translate(902.5 739.4) scale(1 1.12)" text-anchor="end">0</text><text transform="translate(902.5 751.6) scale(1 1.12)" text-anchor="end">-5E-4</text><text transform="translate(902.5 763.9) scale(1 1.12)" text-anchor="end">-0.001</text><text transform="translate(902.5 772.3) scale(1 1.12)" text-anchor="end">0.355</text><text transform="translate(902.5 782.3) scale(1 1.12)" text-anchor="end">0.35</text><text transform="translate(902.5 792.3) scale(1 1.12)" text-anchor="end">0.345</text><text transform="translate(902.5 802.3) scale(1 1.12)" text-anchor="end">0.34</text><text transform="translate(902.5 813.2) scale(1 1.12)" text-anchor="end">-0.038</text><text transform="translate(902.5 825.7) scale(1 1.12)" text-anchor="end">-0.04</text><text transform="translate(902.5 838.2) scale(1 1.12)" text-anchor="end">-0.042</text><text transform="translate(902.5 854.6) scale(1 1.12)" text-anchor="end">96.05</text><text transform="translate(902.5 865.2) scale(1 1.12)" text-anchor="end">96</text><text transform="translate(902.5 875.8) scale(1 1.12)" text-anchor="end">95.95</text></g>
<g font-family='"Liberation Mono", monospace' font-size="13.0" fill="#000"><text transform="translate(867 43) rotate(-90) scale(0.88 1.02)" text-anchor="middle">I [mA]</text><text transform="translate(854.6 88) rotate(-90) scale(0.88 1.02)" text-anchor="middle">Rep.</text><text transform="translate(869.6 88) rotate(-90) scale(0.88 1.02)" text-anchor="middle">Rate</text><text transform="translate(885.1 88) rotate(-90) scale(0.88 1.02)" text-anchor="middle">[Hz]</text><text transform="translate(875.1 132) rotate(-90) scale(0.88 1.02)" text-anchor="middle">Q[nC]</text><text transform="translate(875.1 181) rotate(-90) scale(0.88 1.02)" text-anchor="middle">[mA/s]</text><text transform="translate(860.1 231) rotate(-90) scale(0.88 1.02)" text-anchor="middle">Inj.</text><text transform="translate(874.6 231) rotate(-90) scale(0.88 1.02)" text-anchor="middle">Eff [%]</text><text transform="translate(877 286) rotate(-90) scale(0.88 1.02)" text-anchor="middle">OCS</text><text transform="translate(844.6 336) rotate(-90) scale(0.88 1.02)" text-anchor="middle">LossM.</text><text transform="translate(859.6 336) rotate(-90) scale(0.88 1.02)" text-anchor="middle">Ion cham.</text><text transform="translate(875.1 336) rotate(-90) scale(0.88 1.02)" text-anchor="middle">[V]</text><text transform="translate(859.6 385.5) rotate(-90) scale(0.88 1.02)" text-anchor="middle">LossM.</text><text transform="translate(875.1 385.5) rotate(-90) scale(0.88 1.02)" text-anchor="middle">SiC</text><text transform="translate(890.6 385.5) rotate(-90) scale(0.88 1.02)" text-anchor="middle">[V]</text><text transform="translate(867.6 435) rotate(-90) scale(0.88 1.02)" text-anchor="middle">Temp.</text><text transform="translate(883.6 435) rotate(-90) scale(0.88 1.02)" text-anchor="middle">[deg]</text><text transform="translate(835.6 488) rotate(-90) scale(0.88 1.02)" text-anchor="middle">Inj.P</text><text transform="translate(851.4 488) rotate(-90) scale(0.88 1.02)" text-anchor="middle">BPM</text><text transform="translate(867 488) rotate(-90) scale(0.88 1.02)" text-anchor="middle">X[mm]</text><text transform="translate(844.6 537.5) rotate(-90) scale(1.144 1.02)" text-anchor="middle">Inj.</text><text transform="translate(859.6 537.5) rotate(-90) scale(0.88 1.02)" text-anchor="middle">BPM</text><text transform="translate(874.6 537.5) rotate(-90) scale(0.88 1.02)" text-anchor="middle">Q</text><text transform="translate(828.2 587) rotate(-90) scale(0.88 1.02)" text-anchor="middle">Septum</text><text transform="translate(843.2 587) rotate(-90) scale(0.88 1.02)" text-anchor="middle">Pos.</text><text transform="translate(858.6 587) rotate(-90) scale(0.88 1.02)" text-anchor="middle">[mm]</text><text transform="translate(836.4 636) rotate(-90) scale(0.88 1.02)" text-anchor="middle">Septum</text><text transform="translate(851.4 636) rotate(-90) scale(0.88 1.02)" text-anchor="middle">Angle</text><text transform="translate(867 636) rotate(-90) scale(0.88 1.02)" text-anchor="middle">[mrad]</text><text transform="translate(828.2 685) rotate(-90) scale(0.88 1.02)" text-anchor="middle">Kicker</text><text transform="translate(843.2 685) rotate(-90) scale(0.88 1.02)" text-anchor="middle">Height</text><text transform="translate(858.6 685) rotate(-90) scale(0.88 1.02)" text-anchor="middle">[mm]</text><text transform="translate(835.6 734) rotate(-90) scale(0.88 1.02)" text-anchor="middle">Kicker</text><text transform="translate(850.6 734) rotate(-90) scale(0.88 1.02)" text-anchor="middle">Jump</text><text transform="translate(848.2 779) rotate(-90) scale(0.88 1.02)" text-anchor="middle">V.Pos.</text><text transform="translate(863.6 779) rotate(-90) scale(0.88 1.02)" text-anchor="middle">[mm]</text><text transform="translate(841.6 820) rotate(-90) scale(0.88 1.02)" text-anchor="middle">V.Ang.</text><text transform="translate(856.6 820) rotate(-90) scale(0.88 1.02)" text-anchor="middle">[mrad]</text><text transform="translate(833.6 860) rotate(-90) scale(0.88 1.02)" text-anchor="middle">Inj.</text><text transform="translate(848.2 860) rotate(-90) scale(0.88 1.02)" text-anchor="middle">Phase</text><text transform="translate(863.6 860) rotate(-90) scale(0.88 1.02)" text-anchor="middle">[deg]</text></g>
<path d="M1472.5 465.5h-20M1472.5 467.5h-6.5M1472.5 469.5h-6.5M1472.5 471.5h-6.5M1472.5 473.5h-6.5M1472.5 475.5h-20M1472.5 477.5h-6.5M1472.5 479.5h-6.5M1472.5 481.5h-6.5M1472.5 483.5h-6.5M1472.5 485.5h-20M1472.5 487.5h-6.5M1472.5 489.5h-6.5M1472.5 491.5h-6.5M1472.5 493.5h-6.5M1472.5 495.5h-20M1472.5 497.5h-6.5M1472.5 499.5h-6.5M1472.5 501.5h-6.5M1472.5 503.5h-6.5M1472.5 505.5h-20M1472.5 507.5h-6.5M1472.5 509.5h-6.5M1472.5 511.5h-6.5" stroke="#000" stroke-width="1" fill="none"/><g font-family='"Liberation Mono", monospace' font-size="13.0" fill="#000"><text transform="translate(1474.2 470.5) scale(1 1.12)">0.8</text><text transform="translate(1474.2 480.5) scale(1 1.12)">0.6</text><text transform="translate(1474.2 490.5) scale(1 1.12)">0.4</text><text transform="translate(1474.2 500.5) scale(1 1.12)">0.2</text><text transform="translate(1474.2 510.5) scale(1 1.12)">0</text><text transform="translate(1501.6 488) rotate(90) scale(0.88 1.02)" text-anchor="middle">Y[mm]</text></g><g font-family='"Liberation Mono", monospace' fill="#000"><text transform="translate(831.4 528.6) scale(0.8 1)" font-size="15.5">x10</text><text x="855.6" y="521.4" font-size="11">7</text></g>
<defs><clipPath id="c904_0"><rect x="903.9" y="18.9" width="570.7" height="51.5"/></clipPath><clipPath id="c904_1"><rect x="903.9" y="67.9" width="570.7" height="41.6"/></clipPath><clipPath id="c904_2"><rect x="903.9" y="107" width="570.7" height="52.2"/></clipPath><clipPath id="c904_3"><rect x="903.9" y="156.7" width="570.7" height="51.6"/></clipPath><clipPath id="c904_4"><rect x="903.9" y="205.8" width="570.7" height="53.2"/></clipPath><clipPath id="c904_5"><rect x="903.9" y="261.5" width="570.7" height="53"/></clipPath><clipPath id="c904_6"><rect x="903.9" y="312" width="570.7" height="51.4"/></clipPath><clipPath id="c904_7"><rect x="903.9" y="360.9" width="570.7" height="51.4"/></clipPath><clipPath id="c904_8"><rect x="903.9" y="409.8" width="570.7" height="52.7"/></clipPath><clipPath id="c904_9"><rect x="903.9" y="463.2" width="570.7" height="51.1"/></clipPath><clipPath id="c904_10"><rect x="903.9" y="511.9" width="570.7" height="52.6"/></clipPath><clipPath id="c904_11"><rect x="903.9" y="562" width="570.7" height="51.3"/></clipPath><clipPath id="c904_12"><rect x="903.9" y="610.8" width="570.7" height="51.7"/></clipPath><clipPath id="c904_13"><rect x="903.9" y="660" width="570.7" height="52"/></clipPath><clipPath id="c904_14"><rect x="903.9" y="709.5" width="570.7" height="51.5"/></clipPath><clipPath id="c904_15"><rect x="903.9" y="758.5" width="570.7" height="42.9"/></clipPath><clipPath id="c904_16"><rect x="903.9" y="798.9" width="570.7" height="43.5"/></clipPath><clipPath id="c904_17"><rect x="903.9" y="839.9" width="570.7" height="42.4"/></clipPath></defs>
<g clip-path="url(#c904_0)"><path d="M904.9 33.8L1162.5 33.8L1168 39L1172.5 43.8L1177 40L1182 36L1190 34.5L1195 33.8" stroke="#0000ff" stroke-width="2" fill="none"/><path d="M1195 33.8L1410.2 33.8L1410.2 68L1420 68L1425 60L1432.6 46L1439 46L1441 40L1443 37.5L1443.5 35.5L1450 35.5L1451 33.8L1472.6 33.8" stroke="#0000ff" stroke-width="1.4" fill="none"/><path d="M904.9 22.5L1169.3 22.5L1169.3 68L1177.5 68L1180 64L1186 50L1192.5 39.6L1199 36L1205.7 33L1213.7 27.7L1220 25L1225.5 22.5L1320 22.5L1321 24.5L1322 22.5L1363 22.5L1364 24.5L1365 22.5L1410.2 22.5L1410.2 68L1418 68L1422 60L1426 50L1432.6 39.6L1439 39.6L1440.5 33L1441.9 27.7L1448.5 27L1449 25L1454 25L1455 22.5L1472.6 22.5" stroke="#ff0000" stroke-width="1" fill="none"/></g>
<g><rect x="1499.5" y="30.5" width="100" height="66" fill="#fff" stroke="#000" stroke-width="1"/><path d="M1600.4 32.5V97.4H1501.5" stroke="#000" stroke-width="1" fill="none" shape-rendering="auto"/><path d="M1506 49.5H1546" stroke="#0000ff" stroke-width="1"/><text transform="translate(1551.2 56.9) scale(0.905 1.0)" font-family='"Liberation Sans", sans-serif' font-size="23.5" fill="#000">HER</text><path d="M1506 77.5H1546" stroke="#ff0000" stroke-width="1"/><text transform="translate(1551.2 84.9) scale(0.905 1.0)" font-family='"Liberation Sans", sans-serif' font-size="23.5" fill="#000">LER</text></g>
<g clip-path="url(#c904_1)"><path d="M904.5 70.5H1164.5 V70.5H1164.5 V104.5H1173.5 V104.5H1173.5 V92.5H1183.5 V92.5H1183.5 V70.5H1411.5 V70.5H1411.5 V104.5H1422.5 V104.5H1422.5 V92.5H1433.5 V92.5H1433.5 V70.5H1472.5 V70.5" stroke="#000000" stroke-width="1" fill="none"/><path d="M1422 93V104.5" stroke="#000000" stroke-width="3"/><path d="M904 79h2h2h2h2v-1h2v1h2v-1h2v1h2v-1h2h2v1h2h2h2h2h2h2h2h2v-1h2h2h2h2v1h2h2v-2h2v1h2v1h2v-1h2v1h2v-1h2v1h2h2h2h2v-1h2v2h2v-1h2v1h2h2h2h2v1h2v-2h2v2h2v-1h2v1h2h2h2h2v1h2h2v-2h2v2h2h2v-2h2h2v2h2v-1h2h2v-1h2v1h2h2h2v-1h2h2h2v-1h2h2v1h2h2h2h2h2h2h2h2h2h2v1h2v-2h2v2h2h2v-1h2h2h2h2v1h2h2v-2h2h2v1h2h2v-1h2h2v1h2h2v-1h2h2h2h2v-1h2v1h2h2v-1h2h2v-2h2v1h2v1h2v-1h2v1h2v-1h2h2h2h2v1h2h2h2h2h2h2h2v1h2v1h2v-1h2h2v1h2h2h2v1h2v-1h2v1h2V89h-2v1h-2v-1h-2h-2v-1h-2h-2h-2v-1h-2h-2v1h-2v-1h-2h-2v2h-2v-2h-2v-1h-2h-2h-2v1h-2v-1h-2h-2h-2h-2v1h-2v-1h-2h-2h-2v1h-2h-2v1h-2v-2h-2v1h-2v1h-2v1h-2v-1h-2v-1h-2h-2v1h-2v1h-2v-1h-2h-2h-2h-2h-2v2h-2v-1h-2h-2h-2v1h-2v-1h-2v-1h-2v1h-2v-1h-2h-2h-2v1h-2h-2v-1h-2h-2v1h-2h-2h-2v1h-2v-2h-2h-2v1h-2h-2h-2v-1h-2v1h-2v1h-2v-1h-2h-2v2h-2v-1h-2v1h-2v-1h-2h-2h-2h-2h-2h-2h-2h-2h-2v1h-2v-2h-2h-2h-2v1h-2v-1h-2v1h-2v-2h-2h-2h-2h-2h-2h-2h-2v-1h-2h-2v-1h-2v3h-2v-2h-2v1h-2h-2v-2h-2v2h-2v-2h-2v2h-2v-1h-2h-2v1h-2v-2h-2v2h-2v-1h-2h-2h-2h-2v1h-2v2h-2v-2h-2h-2h-2v-1h-2h-2v2h-2v-1h-2h-2v-1h-2v1h-2v-1h-2z" fill="#ff6347"/><path d="M1028 89h3v3h-3zM979 75h3v3h-3zM1073 76h3v3h-3z" fill="#ff6347"/><path d="M1163 84h2h2h2h2h2V87h-2h-2h-2h-2h-2z" fill="#ff6347"/><path d="M1170 104h2h2h2V108h-2v1h-2h-2z" fill="#ff6347"/><path d="M1172 93h2h2h2h2h2h2V96h-2h-2h-2h-2h-2h-2z" fill="#ff6347"/><path d="M1182 70h2h2h2h2h2h2h2h2h2h1V73h-1h-2h-2h-2h-2h-2h-2h-2h-2h-2z" fill="#ff6347"/><path d="M1198 77h2v1h2v3h2v2h2V91h-2v-2h-2v-2h-2v-4h-2z" fill="#ff6347"/><path d="M1205 84h2h2h2v-3h2v2h2v1h2v-2h2v1h2h2v1h2v-1h2v-2h2v2h2h2h2h2v-1h2v2h2h2h2h2h2h2h2h2v-1h2v1h2v-1h2v1h2h2h2v-3h2v3h2v-1h2h2h2v-1h2h2h2h2h2v-1h2v1h2v-1h2v1h2v-1h2h2h2v1h2h2v-1h2v1h2v-1h2v1h2v-2h2v2h2h2h2v1h2v-1h2v1h2h2h2h2v-1h2h2h2v1h2h2v-2h2v2h2h2v-1h2v1h2v-1h2v1h2h2h2v-1h2v-1h2v1h2v1h2h2v-1h2v1h2h2h2h2h2v1h2h2h2h2h2v-1h2v2h2h2v-1h2h2v1h2v-1h2v-1h2h2v1h2V91h-2v1h-2v1h-2h-2v-1h-2h-2h-2h-2h-2v1h-2v-1h-2h-2h-2h-2h-2h-2v-1h-2v-1h-2v2h-2v-2h-2v1h-2v-1h-2h-2v2h-2v-2h-2v1h-2h-2v-2h-2v1h-2h-2v1h-2v-1h-2h-2h-2h-2h-2h-2v1h-2h-2v-1h-2h-2h-2h-2h-2h-2h-2h-2v-1h-2h-2v1h-2v2h-2v-3h-2v1h-2v-2h-2v1h-2h-2h-2h-2v1h-2v-2h-2v1h-2v1h-2h-2v-1h-2h-2v1h-2h-2v1h-2v-1h-2h-2v2h-2v1h-2v-2h-2v1h-2v-1h-2v1h-2v-1h-2v2h-2v-1h-2v-1h-2h-2h-2h-2h-2h-2h-2v2h-2v-2h-2h-2h-2h-2h-2h-2v1h-2v-1h-2v1h-2v-2h-2v1h-2v-1h-2v1h-2v1h-2v-1h-2h-2h-2z" fill="#ff6347"/><path d="M1321 74h3v3h-3zM1320 101h3v3h-3zM1322 101h3v3h-3zM1375 78h3v3h-3zM1309 78h3v3h-3zM1393 80h3v3h-3z" fill="#ff6347"/><path d="M1411 89h2h2h2h2V92h-2v-1h-2h-2h-2z" fill="#ff6347"/><path d="M1415 104h2v1h2v-1h2v-1h2h2h2v-1h2v-1h2h2h2v-2h2v1h2v-1h2v-1h2v-2h2V103h-2h-2h-2v1h-2v1h-2h-2v1h-2v1h-2h-2h-2v1h-2h-2h-2h-2v1h-2z" fill="#ff6347"/><path d="M1421 93h3v3h-3zM1432 70h3v3h-3zM1434 70h3v3h-3zM1443 70h3v3h-3zM1451 70h3v3h-3zM1434 76h3v3h-3zM1435 79h3v3h-3zM1450 78h3v3h-3zM1452 84h3v3h-3z" fill="#ff6347"/><path d="M1441 86h2v2h2h2h2h1V96h-1v-1h-2h-2h-2h-2z" fill="#ff6347"/><path d="M1449 83h2v-2h2v2h2h2h2h2v-1h2v1h2v-1h2v-1h2v2h2h2h1V92h-1h-2v-1h-2v1h-2v-1h-2h-2h-2v1h-2h-2v-1h-2v1h-2v-1h-2h-2z" fill="#ff6347"/></g>
<g><rect x="1528.5" y="85.5" width="71" height="27" fill="none" stroke="#000" stroke-width="1"/><path d="M1600.4 87.5V113.4H1530.5" stroke="#000" stroke-width="1" fill="none" shape-rendering="auto"/><circle cx="1536.7" cy="98.5" r="2.6" fill="#ff6347" shape-rendering="auto"/><text transform="translate(1560.8 102.5) scale(1.0 1.07)" font-family='"Liberation Mono", monospace' font-size="13" fill="#000">Ave.</text></g>
<g clip-path="url(#c904_2)"><path d="M904 111h2h2v1h2v-1h2h2h2h2h2v1h2h2v-1h2h2v-1h2v1h2h2h2h2h2h2h2v1h2v-1h2h2h2h2h2h2h2h2h2h2h2h2h2h2h2h2h2h2h2h2h2v1h2v-1h2h2h2h2h2v1h2v-1h2h2h2h2h2h2h2h2h2h2v1h2v-1h2v1h2h2v-1h2v1h2v-1h2h2v1h2v-1h2h2h2v1h2h2v-1h2h2h2h2v1h2h2h2v-1h2h2v1h2v-1h2h2h2h2h2h2h2h2h2v1h2h2v-1h2h2h2h2h2v-1h2v1h2h2h2h2h2h2v1h2h2v-1h2v1h2v-1h2h2h2v1h2h2h2v-1h2h2v1h2v-1h2h2v1h2v-1h2h2h2h2h2h2h2h2h2V123h-2v-2h-2v2h-2v-2h-2h-2v1h-2v-1h-2h-2h-2v1h-2v-1h-2v1h-2h-2v-1h-2h-2v1h-2v-1h-2v1h-2v1h-2v-2h-2h-2v2h-2v-1h-2v-1h-2v1h-2v-1h-2v3h-2v-2h-2h-2v-1h-2h-2h-2v1h-2v-1h-2v1h-2v-1h-2h-2v1h-2v-1h-2h-2v1h-2v-1h-2h-2h-2h-2h-2v1h-2v-1h-2h-2h-2h-2v1h-2v-1h-2h-2h-2h-2h-2h-2v1h-2v-1h-2h-2v1h-2v-1h-2h-2h-2h-2v1h-2h-2v1h-2v-2h-2v4h-2v-4h-2h-2h-2h-2v1h-2h-2v-1h-2h-2h-2h-2v3h-2v-3h-2h-2h-2h-2h-2v1h-2v-1h-2h-2v1h-2h-2v-1h-2h-2h-2v1h-2v-1h-2h-2h-2v3h-2v-3h-2h-2h-2h-2v1h-2h-2h-2h-2v2h-2v-3h-2h-2v1h-2v-1h-2v1h-2h-2v-1h-2v1h-2v-1h-2v1h-2v-1h-2v2h-2v-2h-2v1h-2v-1h-2h-2h-2v1h-2h-2h-2v-1h-2h-2z" fill="#00c800"/><path d="M1171 111h2h2v1h2v-1h2h2h2h2v1h2v-1h2h2h2h2v1h2h2h2v-1h2h2v1h2v-1h2h2h2h2h2h2h2v1h2h2v-1h2v1h2v-1h2v1h2v-1h2h2v1h2v-1h2v1h2v-1h2h2h2v1h2v-1h2v1h2h2v-1h2h2h2v1h2v-1h2h2h2h2h2h2h2h2h2h2h2v1h2v-1h2h2h2h2h2h2h2h2h2h2h2h2h2h2h2h2h2h2h2v1h2v-1h2v1h2v-1h2h2h2h2h2h2v1h2h2v-1h2h2v-1h2v2h2v-1h2h2h2h2h2h2h2h2v1h2v-1h2h2h2h2h2h2v1h2v-1h2h2h2h2v1h2h2v-1h2h2h2v1h2v-1h2v1h2v-1h2h2h2v1h2v-1h2h2h2h2h2h2h2h2h2h2h2h2h2h2h2v1h2h2h2h2v-1h2h2h2h2v-1h2v2h2v-1h2h1V121h-1h-2h-2h-2h-2v1h-2v-1h-2h-2h-2v1h-2h-2v1h-2v-1h-2h-2v-1h-2h-2h-2h-2h-2h-2h-2v1h-2v-1h-2h-2v1h-2h-2v-1h-2h-2h-2h-2v1h-2v-1h-2v1h-2v-1h-2v2h-2v-1h-2v-1h-2v2h-2v-1h-2v-1h-2v1h-2v1h-2v-2h-2h-2v1h-2v-1h-2v1h-2v-1h-2h-2h-2h-2h-2h-2h-2h-2v1h-2h-2v-1h-2h-2h-2h-2h-2v1h-2v-1h-2h-2h-2v1h-2h-2h-2v1h-2v-2h-2h-2h-2h-2v1h-2h-2h-2v-1h-2h-2h-2h-2v1h-2h-2h-2v-1h-2v1h-2v1h-2h-2v-2h-2v3h-2v-2h-2v-1h-2h-2h-2v2h-2v-2h-2v1h-2v-1h-2v1h-2v-1h-2v2h-2v-1h-2v-1h-2v2h-2v-2h-2h-2h-2v1h-2v-1h-2h-2h-2v3h-2v-1h-2v-2h-2h-2v1h-2v-1h-2h-2h-2h-2h-2h-2h-2h-2h-2h-2h-2v1h-2h-2v-1h-2h-2v1h-2v-1h-2h-2v2h-2v1h-2v-3h-2h-2v2h-2v-2h-2h-2h-2v1h-2v-1h-2h-2v1h-2v-1h-2h-2v2h-2v-1h-2v-1h-2h-2z" fill="#00c800"/><path d="M904 110h2v1h2h2v-1h2v1h2v-1h2v-1h2v2h2h2h2v-1h2h2h2h2v1h2v-1h2h2h2h2h2h2h2v1h2v-1h2v1h2v-1h2h2v-1h2v1h2h2h2v-1h2v1h2v1h2h2v-1h2v1h2h2v-1h2h2v1h2v-1h2h2v1h2v-1h2v1h2v-2h2v2h2v-1h2h2h2v1h2h2v-1h2h2h2v-2h2v2h2h2h2h2v1h2h2h2h2h2v-1h2v1h2v-1h2v1h2v-1h2v1h2h2v-1h2h2h2h2h2h2h2v1h2v-1h2v1h2h2h2v-1h2h2v-2h2v3h2v-1h2h2h2h2v1h2v-1h2v1h2v-1h2h2h2h2h2h2v1h2h2v-1h2v1h2v-1h2h2v-2h2v2h2v1h2h2v-1h2h2h2v1h2v-2h2v1h2v1h2v-2h2v1h2h2h2v1h2v-1h2v1h2v-1h2v1h2h2v-2h2v1h2V119h-2h-2h-2h-2h-2v1h-2v-1h-2v1h-2v1h-2v-2h-2h-2v1h-2h-2h-2v-1h-2h-2v2h-2v-2h-2v1h-2h-2h-2h-2v-1h-2v1h-2v-1h-2v1h-2h-2h-2h-2h-2v-1h-2v2h-2v-1h-2v1h-2v-2h-2h-2h-2v1h-2h-2h-2h-2h-2h-2v-1h-2v2h-2h-2v-1h-2h-2h-2h-2v-1h-2h-2v3h-2v-1h-2v-1h-2v1h-2v-1h-2h-2v-1h-2v1h-2v-1h-2h-2h-2h-2v1h-2h-2h-2h-2h-2v-1h-2h-2v1h-2v1h-2v-1h-2v1h-2v-1h-2h-2v-1h-2v1h-2h-2h-2h-2h-2h-2h-2v2h-2v-2h-2h-2v-1h-2h-2v1h-2v-1h-2v1h-2h-2v1h-2v-1h-2v-1h-2v1h-2v1h-2v1h-2v-2h-2v-1h-2h-2h-2h-2v1h-2h-2v1h-2v-1h-2v-1h-2v1h-2v-1h-2v1h-2h-2h-2h-2v-1h-2v3h-2v-2h-2h-2v-1h-2v2h-2v-1h-2v1h-2v-2h-2v1h-2v-1h-2v1h-2v1h-2v-2h-2v1h-2z" fill="#3a5fcd"/><path d="M1171 110h2v1h2h2v-1h2v-1h2v2h2v-1h2h2v1h2h2h2v-1h2v1h2h2v-1h2h2h2h2h2v1h2v-1h2v1h2h2v-2h2v1h2v1h2h2v-1h2v1h2h2h2v-1h2v1h2h2v-1h2h2h2h2h2h2h2h2h2v1h2h2h2h2v-1h2v1h2v-2h2v2h2v-1h2h2v-1h2v1h2h2v1h2v-1h2h2v1h2v-1h2v1h2v-1h2v1h2h2v-1h2v1h2h2v-1h2v1h2h2v-1h2v1h2v-1h2v-1h2v2h2v-1h2h2v1h2h2v-1h2v1h2v-1h2v1h2h2v-1h2h2v1h2v-1h2v1h2v-1h2h2v1h2h2v-2h2v1h2v1h2v-2h2v2h2h2h2h2h2v-1h2h2h2h2h2v-2h2v2h2v-1h2v1h2v1h2v-1h2v1h2h2v-1h2v1h2v-1h2v1h2h2h2v-1h2h2v1h2v-1h2v1h2v-2h2v2h2v-1h2h2h2v1h2v-2h2v2h2h2v-1h2h2v1h2v-1h2v1h2h2h2h2v-2h2h2v1h2h2v-1h2v1h2h2h1V120h-1v-1h-2v3h-2v-1h-2v-2h-2h-2h-2v1h-2h-2v-1h-2v1h-2h-2h-2v-1h-2h-2h-2v1h-2h-2h-2h-2v-1h-2v1h-2v-1h-2v1h-2h-2h-2v-1h-2v2h-2v-2h-2h-2v1h-2h-2h-2v-1h-2v1h-2v-1h-2v1h-2h-2v-1h-2h-2v1h-2v-1h-2h-2h-2v1h-2h-2v-1h-2v1h-2v-1h-2v1h-2h-2h-2h-2v-1h-2v1h-2h-2v-1h-2h-2h-2h-2v1h-2v1h-2v-1h-2v1h-2v-1h-2v2h-2v-3h-2h-2v1h-2h-2h-2v1h-2v-2h-2h-2h-2v2h-2v-1h-2v-1h-2v1h-2h-2h-2v-1h-2h-2h-2v1h-2h-2v-1h-2h-2h-2h-2v1h-2h-2h-2h-2h-2h-2h-2v-1h-2v1h-2h-2v-1h-2v1h-2h-2v3h-2v-4h-2v1h-2v-1h-2h-2v1h-2h-2v-1h-2h-2v1h-2h-2h-2v-1h-2v2h-2v-2h-2h-2h-2h-2h-2v1h-2h-2h-2v1h-2v-1h-2h-2h-2v-1h-2v2h-2h-2v-1h-2v-1h-2v2h-2v-1h-2v-1h-2v1h-2v-1h-2h-2v3h-2v-3h-2v1h-2h-2h-2v2h-2v-2h-2h-2v1h-2v-1h-2h-2h-2z" fill="#3a5fcd"/><path d="M1340 122h3v3h-3z" fill="#00c800"/><path d="M905 152h4h4h4h2V155h-2h-4h-4h-4z" fill="#3a5fcd"/><path d="M919 153h4V156h-4z" fill="#00c800"/><path d="M921 152h4h4h4h2V155h-2v1h-4h-4h-4z" fill="#3a5fcd"/><path d="M939 152h4h4h1V156h-1h-4v-1h-4z" fill="#3a5fcd"/><path d="M948 153h4V156h-4z" fill="#00c800"/><path d="M952 152h4h4h4h4h4h2V155h-2h-4h-4h-4h-4h-4z" fill="#3a5fcd"/><path d="M976 152h4h4h4h4h4h4h4h4h4h4V155h-4v1h-4h-4v-1h-4v1h-4v-1h-4v1h-4v-1h-4h-4v1h-4z" fill="#3a5fcd"/><path d="M1022 152h4h2V155h-2v1h-4z" fill="#3a5fcd"/><path d="M1034 152h4h2V155h-2h-4z" fill="#3a5fcd"/><path d="M1044 152h4h4h4h4h4h4h4h4h4h4V155h-4h-4h-4v1h-4h-4h-4v-1h-4h-4v1h-4v-1h-4z" fill="#3a5fcd"/><path d="M1090 152h4h4h1V155h-1h-4v1h-4z" fill="#3a5fcd"/><path d="M1103 152h4h4h1V155h-1h-4h-4z" fill="#3a5fcd"/><path d="M1115 152h4h4h4h4h4h4h4h2V155h-2h-4h-4v1h-4v-1h-4h-4h-4v1h-4z" fill="#3a5fcd"/><path d="M1151 152h4h4h4h4h4h2V155h-2v1h-4v-1h-4h-4h-4h-4z" fill="#3a5fcd"/><path d="M1177 152h4h4h4h4h4h3V156h-3h-4h-4h-4h-4h-4z" fill="#00c800"/><path d="M1200 152h4h4h4h4h4h4h4h2V156h-2h-4h-4h-4h-4h-4h-4h-4z" fill="#3a5fcd"/><path d="M1230 152h4h4h4h4h4V156h-4h-4h-4h-4h-4z" fill="#3a5fcd"/><path d="M1250 152h4v1h2V156h-2h-4z" fill="#00c800"/><path d="M1256 152h4h4h4h4h4h4h4h4h4h4h4h1V156h-1h-4h-4h-4h-4h-4h-4h-4h-4h-4h-4h-4z" fill="#3a5fcd"/><path d="M1301 152h4h4h4h4h4h4h4h4h4h4h4h1V156h-1h-4h-4h-4h-4h-4h-4h-4h-4h-4h-4h-4z" fill="#3a5fcd"/><path d="M1346 152h4h4h4h4h4V156h-4h-4h-4h-4h-4z" fill="#3a5fcd"/><path d="M1372 152h4h4h4h4h4h4h4h2V156h-2h-4h-4h-4h-4h-4h-4h-4z" fill="#3a5fcd"/><path d="M1402 152h4h4V156h-4h-4z" fill="#3a5fcd"/><path d="M1447 153h4h2V156h-2h-4z" fill="#00c800"/><path d="M1416 152h4h4h1V155h-1h-4h-4z" fill="#00c800"/><path d="M1427 152h4h3V155h-3v1h-4z" fill="#00c800"/><path d="M1437 152h4h4h1V155h-1h-4h-4z" fill="#3a5fcd"/><path d="M1449 152h4h4h1V155h-1h-4h-4z" fill="#3a5fcd"/><path d="M1461 152h4h1V155h-1h-4z" fill="#00c800"/><path d="M1469 152h3V155h-3z" fill="#00c800"/></g>
<g><rect x="1472.5" y="124.5" width="127" height="45" fill="#fff" stroke="#000" stroke-width="1"/><path d="M1600.4 126.5V170.4H1474.5" stroke="#000" stroke-width="1" fill="none" shape-rendering="auto"/><circle cx="1480.8" cy="137.2" r="2.6" fill="#00c800" shape-rendering="auto"/><text transform="translate(1504.8 141.2) scale(1.0 1.07)" font-family='"Liberation Mono", monospace' font-size="13" fill="#000">QMD8E_2(nC)</text><circle cx="1480.8" cy="155.4" r="2.6" fill="#3a5fcd" shape-rendering="auto"/><text transform="translate(1504.8 159.4) scale(1.0 1.07)" font-family='"Liberation Mono", monospace' font-size="13" fill="#000">QMD8E_1(nC)</text></g>
<g clip-path="url(#c904_3)"><path d="M904 192h2h2h2h2v-1h2v-1h2v1h2v-1h2v1h2v-1h2v1h2v1h2h2h2h2v1h2v-1h2v1h2h2v-1h2h2v1h2v1h2v-1h2h2h2v-2h2h2v3h2h2h2h2h2v1h2v-1h2h2v1h2h2v-1h2h2h2v-1h2v1h2h2h2v-1h2v-1h2v-1h2v2h2h2h2h2v-2h2v2h2v-3h2v3h2v-1h2v1h2h2h2v-1h2v-3h2v3h2v1h2v-1h2v1h2h2v-1h2h2v1h2h2v-1h2v1h2h2h2h2h2h2h2v-1h2h2v1h2h2v-1h2v1h2v-2h2h2v1h2v-3h2v3h2v-2h2v2h2v-3h2v1h2h2v1h2h2v-1h2v-1h2v1h2h2v1h2v-1h2v1h2h2v-1h2h2h2h2v1h2v-1h2v1h2h2v1h2h2v-1h2v-1h2v2h2h2v1h2h2h2h2h2h2h2v1h2v-1h2v1h2v-2h2v1h1V204h-1h-2v1h-2v-1h-2v2h-2v-2h-2h-2h-2v1h-2v-1h-2h-2v1h-2h-2v-2h-2v2h-2v-2h-2v1h-2v-1h-2h-2v-1h-2h-2v1h-2v2h-2v-3h-2v-1h-2v2h-2h-2v2h-2v-3h-2v1h-2v-1h-2h-2v-1h-2v2h-2v-1h-2h-2v1h-2h-2v-1h-2v1h-2v-1h-2v1h-2v-1h-2v1h-2v1h-2v-1h-2h-2h-2h-2v1h-2v1h-2v-1h-2v2h-2v-1h-2v-1h-2v2h-2v-1h-2v-1h-2h-2v1h-2v-1h-2h-2h-2v1h-2v-1h-2v-1h-2v2h-2v-1h-2h-2v-1h-2v1h-2h-2v-1h-2v1h-2v-1h-2v1h-2h-2h-2h-2h-2v1h-2v-1h-2h-2h-2v1h-2h-2v-1h-2h-2v1h-2v1h-2h-2v2h-2v-3h-2h-2h-2h-2v2h-2v-2h-2h-2h-2h-2h-2h-2v2h-2v-2h-2h-2h-2v1h-2v-2h-2h-2h-2v1h-2v-1h-2h-2h-2v1h-2v1h-2v-3h-2h-2h-2h-2v-1h-2v2h-2v-2h-2v1h-2v-1h-2v1h-2v-1h-2v1h-2v-1h-2h-2z" fill="#a020f0"/><path d="M1162 204h3v3h-3zM1163 200h3v3h-3z" fill="#a020f0"/><path d="M1172 190h3v3h-3zM1174 194h3v3h-3zM1176 196h3v3h-3zM1177 198h3v3h-3zM1179 199h3v3h-3zM1180 202h3v3h-3zM1183 205h3v3h-3z" fill="#a020f0"/><path d="M1180 195h2v-7h2v-7h2v1h2h2v3h2v2h2h2h2v2h2V206h-2h-2h-2h-2h-2h-2h-2h-2h-2h-2z" fill="#a020f0"/><path d="M1199 186h2v-1h2v1h2h2v-1h2h2v1h2v1h2h2v-2h2v1h2h2v1h2v-1h2v-1h2h2v2h2v-2h2v2h2h2v-2h2v2h2v1h2h2h2v-4h2v1h2v2h2h2v-1h2v1h2v-1h2h2v1h2h2v-3h2v2h2v-1h2v1h2h2v-1h2v-2h2v2h2h2h2h2v-1h2v1h2h2v-3h2v2h2h2h2h2v1h2h2v-1h2h2h2v-1h2v2h2h2v-3h2v4h2h2v-1h2v-1h2v1h2v1h2h2h2v-1h2v1h2h2v-1h2h2h2v1h2v-1h2h2h2v-1h2v2h2v-5h2v5h2v-1h2h2h2h2h2h2h2v-1h2v1h2v-3h2v4h2h2v-1h2v-4h2v5h2v-2h2v2h2h2h2h2h2v1h1V197h-1v1h-2h-2h-2h-2v-1h-2v-1h-2v2h-2v-2h-2v1h-2h-2v-1h-2h-2h-2h-2v1h-2v-1h-2v1h-2v-1h-2v2h-2h-2v-1h-2v-1h-2v3h-2v-3h-2v1h-2h-2h-2h-2h-2v-1h-2h-2h-2v2h-2v-1h-2v-1h-2v2h-2v-1h-2v-1h-2v1h-2v1h-2v-2h-2v1h-2h-2v2h-2v-2h-2h-2v-1h-2v-1h-2v2h-2v-1h-2v1h-2v-1h-2v1h-2v-1h-2v-1h-2v2h-2v-1h-2h-2h-2h-2v1h-2v-1h-2h-2v1h-2h-2h-2h-2v1h-2v-1h-2v3h-2v-3h-2v1h-2h-2v1h-2v-1h-2v1h-2v-1h-2v2h-2v-2h-2v1h-2h-2v-1h-2h-2v2h-2v-1h-2h-2v-1h-2h-2v2h-2v-2h-2v2h-2v-2h-2v1h-2h-2v-1h-2v-1h-2h-2h-2h-2v1h-2h-2h-2h-2v1h-2v-2h-2h-2z" fill="#a020f0"/><path d="M1410 203h2h2h2h2h2h2h2V206h-2h-2h-2h-2h-2h-2h-2z" fill="#a020f0"/><path d="M1419 182h2v-2h2v3h2v2h2v1h2v1h2h2v3h1V198h-1v-2h-2v-1h-2v-1h-2v-1h-2v-1h-2v-3h-2v-1h-2z" fill="#a020f0"/><path d="M1421 203h3v3h-3zM1423 201h3v3h-3zM1426 199h3v3h-3zM1428 194h3v3h-3z" fill="#a020f0"/><path d="M1430 197h3v3h-3zM1433 201h3v3h-3zM1434 205h3v3h-3zM1436 205h3v3h-3z" fill="#a020f0"/><path d="M1436 204h3v3h-3zM1439 202h3v3h-3zM1439 198h3v3h-3zM1441 196h3v3h-3z" fill="#a020f0"/><path d="M1437 194h3v3h-3zM1439 198h3v3h-3zM1440 201h3v3h-3z" fill="#a020f0"/><path d="M1431 159h2h2h2V171h-2v1h-2v-2h-2z" fill="#a020f0"/><path d="M1436 161h2v1h2v2h2V187h-2v-4h-2v-6h-2z" fill="#a020f0"/><path d="M1441 170h2v6h2v5h2v2h2v1h2h2v1h2v-1h1V198h-1v2h-2v4h-2v1h-2v-3h-2v-2h-2v-3h-2v-4h-2z" fill="#a020f0"/><path d="M1455 185h2h2h2v1h2h2h2h2h2h2h1V198h-1v-1h-2v1h-2v-1h-2h-2h-2h-2h-2h-2v1h-2z" fill="#a020f0"/><path d="M1184 209h3v3h-3z" fill="#a020f0"/></g>
<g><rect x="1496.5" y="174.5" width="103" height="27" fill="#fff" stroke="#000" stroke-width="1"/><path d="M1600.4 176.5V202.4H1498.5" stroke="#000" stroke-width="1" fill="none" shape-rendering="auto"/><circle cx="1504.5" cy="187.5" r="2.6" fill="#a020f0" shape-rendering="auto"/><text transform="translate(1529.2 191.6) scale(1.0 1.07)" font-family='"Liberation Mono", monospace' font-size="13" fill="#000">Inj.Rate</text></g>
<g clip-path="url(#c904_4)"><path d="M904 247h2h2v-1h2v1h2h2h2h2h2h2h2h2h2h2h2h2h2h2h2h2h2h2v-1h2v1h2h2h2h2h2h2h2h2h2h2h2h2h2h2h2h2h2h2h2h2v-1h2v1h2h2h2h2h2v-1h2v1h2h2h2h2h2h2h2h2h2h2h2h2h2h2h2h2h2h2h2h2h2h2h2h2v-1h2h2v1h2h2v-1h2v1h2h2v-1h2v1h2h2v-1h2v1h2h2h2h2v-1h2v1h2h2h2h2h2h2h2h2h2h2v-1h2v1h2v-1h2h2v1h2h2h2h2h2v-1h2h2v1h2h2h2h2h2h2h2h2h2h2h2h2h2h2h2h2h2h2h2h2h2V258h-2h-2h-2h-2h-2h-2h-2h-2h-2h-2h-2h-2h-2h-2h-2h-2h-2h-2h-2h-2h-2h-2h-2h-2h-2h-2h-2h-2h-2h-2h-2h-2h-2h-2h-2h-2h-2h-2h-2h-2h-2h-2h-2h-2h-2h-2h-2h-2h-2h-2h-2h-2h-2h-2h-2h-2h-2h-2h-2h-2h-2h-2h-2h-2h-2h-2h-2h-2h-2h-2h-2h-2h-2h-2h-2h-2h-2h-2h-2h-2h-2h-2h-2h-2h-2h-2h-2h-2h-2h-2h-2h-2h-2h-2h-2h-2h-2h-2h-2h-2h-2h-2h-2h-2h-2h-2h-2h-2h-2h-2h-2h-2h-2h-2h-2h-2h-2h-2h-2h-2h-2h-2h-2h-2h-2h-2h-2h-2h-2h-2h-2z" fill="#00b2ee"/><path d="M1118 253h2v1h-2zM1125 253h5v2h-5zM972 251h2v2h-2zM1035 252h5v2h-5zM1099 251h5v1h-5zM1046 251h4v2h-4zM1050 252h3v2h-3zM1094 251h2v2h-2zM1024 251h2v2h-2zM986 252h4v2h-4zM935 253h5v1h-5zM1158 253h2v2h-2zM1021 251h2v1h-2zM965 253h5v2h-5zM966 252h2v1h-2zM1149 252h3v1h-3zM1109 252h4v2h-4zM1053 253h2v2h-2zM976 251h2v2h-2zM1045 252h2v1h-2zM1046 253h2v2h-2zM1116 252h2v2h-2zM1155 252h2v1h-2zM1067 253h4v2h-4zM948 253h2v1h-2zM1055 252h3v1h-3z" fill="#fff"/><path d="M1163 255h4h4h4h4h3V257h-3h-4h-4v1h-4v-1h-4z" fill="#00b2ee"/><path d="M1171 239h2v2h2v2h2h2v4h2h2v3h1V257h-1v-1h-2v-2h-2v-2h-2h-2v-4h-2h-2z" fill="#00b2ee"/><path d="M1182 235h2h2h2v-2h2v2h2v1h2v-2h2v1h2h2V252h-2v1h-2v2h-2v-2h-2h-2v-1h-2h-2v3h-2v-2h-2z" fill="#00b2ee"/><path d="M1309 249h3v3h-3zM1262 250h3v3h-3zM1381 247h3v3h-3zM1402 249h3v3h-3zM1373 247h3v3h-3zM1405 252h3v3h-3zM1231 242h3v3h-3zM1204 247h3v3h-3zM1211 244h3v3h-3zM1223 241h3v3h-3zM1205 242h3v3h-3zM1358 248h3v3h-3zM1329 251h3v3h-3zM1269 243h3v3h-3zM1214 239h3v3h-3zM1335 245h3v3h-3zM1364 247h3v3h-3zM1232 251h3v3h-3zM1321 249h3v3h-3zM1216 247h3v3h-3zM1365 243h3v3h-3zM1210 250h3v3h-3zM1240 248h3v3h-3zM1349 245h3v3h-3zM1354 244h3v3h-3zM1310 252h3v3h-3zM1403 249h3v3h-3zM1306 249h3v3h-3zM1349 247h3v3h-3zM1362 250h3v3h-3zM1239 248h3v3h-3zM1304 247h3v3h-3zM1298 247h3v3h-3zM1307 246h3v3h-3zM1220 246h3v3h-3zM1319 249h3v3h-3zM1310 249h3v3h-3zM1336 244h3v3h-3zM1347 240h3v3h-3zM1257 242h3v3h-3zM1238 247h3v3h-3zM1406 247h3v3h-3zM1234 241h3v3h-3zM1250 246h3v3h-3zM1385 246h3v3h-3zM1324 245h3v3h-3zM1346 245h3v3h-3zM1310 247h3v3h-3zM1203 246h3v3h-3zM1253 250h3v3h-3zM1274 242h3v3h-3zM1270 247h3v3h-3zM1205 241h3v3h-3zM1296 243h3v3h-3zM1354 251h3v3h-3zM1313 246h3v3h-3zM1337 250h3v3h-3zM1295 239h3v3h-3zM1214 244h3v3h-3zM1224 247h3v3h-3zM1230 250h3v3h-3zM1324 250h3v3h-3zM1375 245h3v3h-3zM1363 246h3v3h-3zM1299 241h3v3h-3zM1209 245h3v3h-3zM1355 252h3v3h-3zM1332 241h3v3h-3zM1394 241h3v3h-3zM1316 241h3v3h-3zM1295 245h3v3h-3zM1337 246h3v3h-3zM1399 247h3v3h-3zM1305 250h3v3h-3zM1237 239h3v3h-3zM1382 242h3v3h-3zM1301 249h3v3h-3zM1286 248h3v3h-3zM1308 244h3v3h-3zM1297 246h3v3h-3zM1359 248h3v3h-3zM1359 250h3v3h-3zM1308 248h3v3h-3zM1343 250h3v3h-3zM1229 251h3v3h-3zM1357 246h3v3h-3zM1346 242h3v3h-3zM1207 248h3v3h-3zM1374 245h3v3h-3zM1331 245h3v3h-3zM1355 249h3v3h-3zM1269 239h3v3h-3zM1376 244h3v3h-3zM1375 245h3v3h-3zM1396 251h3v3h-3zM1360 247h3v3h-3zM1396 248h3v3h-3zM1203 247h3v3h-3zM1329 247h3v3h-3zM1207 244h3v3h-3zM1293 242h3v3h-3zM1396 249h3v3h-3zM1360 249h3v3h-3zM1236 242h3v3h-3zM1231 248h3v3h-3zM1330 246h3v3h-3zM1325 244h3v3h-3zM1358 252h3v3h-3zM1349 241h3v3h-3zM1223 243h3v3h-3zM1277 241h3v3h-3zM1239 245h3v3h-3zM1337 247h3v3h-3zM1310 249h3v3h-3zM1268 246h3v3h-3zM1234 250h3v3h-3zM1365 244h3v3h-3zM1205 252h3v3h-3zM1308 241h3v3h-3zM1239 240h3v3h-3zM1204 245h3v3h-3zM1227 243h3v3h-3zM1254 247h3v3h-3zM1316 245h3v3h-3zM1370 240h3v3h-3zM1237 246h3v3h-3zM1330 248h3v3h-3zM1399 247h3v3h-3zM1307 249h3v3h-3zM1237 248h3v3h-3zM1350 244h3v3h-3zM1225 250h3v3h-3zM1297 246h3v3h-3zM1286 243h3v3h-3zM1311 245h3v3h-3zM1319 249h3v3h-3zM1378 249h3v3h-3zM1284 246h3v3h-3zM1332 246h3v3h-3zM1215 240h3v3h-3zM1256 247h3v3h-3zM1288 242h3v3h-3zM1250 246h3v3h-3zM1308 248h3v3h-3zM1288 242h3v3h-3zM1326 246h3v3h-3zM1263 248h3v3h-3zM1265 251h3v3h-3zM1207 242h3v3h-3zM1281 244h3v3h-3z" fill="#00b2ee"/><path d="M1366 248h2v2h-2zM1373 245h2v2h-2zM1350 240h2v2h-2zM1276 247h2v2h-2zM1276 242h2v2h-2zM1234 240h2v2h-2zM1247 246h2v2h-2zM1218 249h2v2h-2zM1341 247h2v2h-2zM1338 249h2v2h-2zM1231 245h2v2h-2zM1341 243h2v2h-2zM1206 244h2v2h-2zM1315 241h2v2h-2zM1264 245h2v2h-2zM1317 241h2v2h-2zM1227 243h2v2h-2zM1302 247h2v2h-2zM1345 244h2v2h-2zM1404 249h2v2h-2zM1359 247h2v2h-2zM1265 244h2v2h-2zM1278 240h2v2h-2zM1299 250h2v2h-2zM1347 249h2v2h-2zM1226 244h2v2h-2zM1332 240h2v2h-2zM1287 251h2v2h-2zM1363 252h2v2h-2zM1346 245h2v2h-2zM1387 244h2v2h-2zM1345 248h2v2h-2zM1390 246h2v2h-2zM1333 247h2v2h-2zM1208 244h2v2h-2zM1400 250h2v2h-2zM1235 248h2v2h-2zM1370 251h2v2h-2zM1329 248h2v2h-2zM1323 249h2v2h-2zM1260 246h2v2h-2zM1316 249h2v2h-2zM1347 252h2v2h-2zM1282 245h2v2h-2zM1306 250h2v2h-2zM1294 249h2v2h-2zM1364 247h2v2h-2zM1400 248h2v2h-2zM1294 250h2v2h-2zM1280 246h2v2h-2zM1407 246h2v2h-2zM1409 241h2v2h-2zM1302 243h2v2h-2zM1245 248h2v2h-2zM1206 244h2v2h-2zM1399 246h2v2h-2zM1366 245h2v2h-2zM1266 245h2v2h-2zM1384 244h2v2h-2zM1293 241h2v2h-2zM1212 244h2v2h-2zM1302 244h2v2h-2zM1331 246h2v2h-2zM1300 247h2v2h-2zM1317 243h2v2h-2zM1275 246h2v2h-2zM1292 248h2v2h-2zM1229 248h2v2h-2zM1390 247h2v2h-2zM1213 242h2v2h-2zM1214 242h2v2h-2zM1275 250h2v2h-2zM1333 240h2v2h-2zM1379 247h2v2h-2zM1308 248h2v2h-2zM1252 240h2v2h-2zM1339 246h2v2h-2zM1255 240h2v2h-2zM1212 239h2v2h-2zM1358 248h2v2h-2zM1393 248h2v2h-2zM1266 242h2v2h-2zM1311 249h2v2h-2zM1241 244h2v2h-2zM1405 244h2v2h-2zM1370 241h2v2h-2zM1315 242h2v2h-2zM1384 245h2v2h-2zM1286 248h2v2h-2zM1385 246h2v2h-2zM1348 249h2v2h-2zM1269 242h2v2h-2zM1289 244h2v2h-2zM1268 248h2v2h-2zM1287 247h2v2h-2zM1389 248h2v2h-2zM1382 249h2v2h-2zM1307 247h2v2h-2zM1290 247h2v2h-2zM1265 241h2v2h-2zM1325 245h2v2h-2zM1220 240h2v2h-2zM1407 244h2v2h-2zM1276 248h2v2h-2zM1225 249h2v2h-2zM1391 247h2v2h-2zM1391 243h2v2h-2zM1265 252h2v2h-2zM1378 240h2v2h-2zM1396 244h2v2h-2zM1371 246h2v2h-2zM1330 247h2v2h-2zM1251 243h2v2h-2zM1232 247h2v2h-2zM1335 247h2v2h-2zM1360 243h2v2h-2zM1257 246h2v2h-2zM1250 245h2v2h-2zM1383 246h2v2h-2zM1387 252h2v2h-2zM1318 251h2v2h-2zM1266 247h2v2h-2zM1367 239h2v2h-2zM1248 243h2v2h-2zM1253 246h2v2h-2zM1312 250h2v2h-2zM1296 252h2v2h-2zM1332 245h2v2h-2zM1260 246h2v2h-2zM1327 245h2v2h-2zM1257 251h2v2h-2z" fill="#00b2ee"/><path d="M1271 239h3v3h-3zM1396 241h3v3h-3zM1295 240h3v3h-3zM1396 240h3v3h-3zM1307 241h3v3h-3zM1269 240h3v3h-3zM1317 242h3v3h-3zM1374 238h3v3h-3zM1214 238h3v3h-3zM1354 240h3v3h-3zM1235 238h3v3h-3zM1202 241h3v3h-3zM1295 237h3v3h-3zM1408 241h3v3h-3zM1357 238h3v3h-3zM1349 238h3v3h-3zM1217 240h3v3h-3zM1238 240h3v3h-3zM1360 241h3v3h-3zM1346 240h3v3h-3zM1356 242h3v3h-3zM1354 239h3v3h-3zM1328 241h3v3h-3zM1288 240h3v3h-3zM1273 244h3v3h-3zM1264 240h3v3h-3zM1236 239h3v3h-3zM1404 240h3v3h-3zM1346 240h3v3h-3zM1313 239h3v3h-3zM1321 240h3v3h-3zM1286 238h3v3h-3zM1239 240h3v3h-3zM1338 243h3v3h-3zM1331 241h3v3h-3zM1380 239h3v3h-3zM1277 237h3v3h-3zM1275 243h3v3h-3zM1254 242h3v3h-3zM1299 239h3v3h-3zM1336 241h3v3h-3zM1311 241h3v3h-3zM1364 243h3v3h-3zM1381 238h3v3h-3zM1379 239h3v3h-3zM1224 238h3v3h-3zM1338 241h3v3h-3zM1225 239h3v3h-3zM1242 242h3v3h-3zM1260 238h3v3h-3zM1236 240h3v3h-3zM1259 238h3v3h-3zM1389 241h3v3h-3zM1402 242h3v3h-3zM1222 239h3v3h-3zM1329 240h3v3h-3zM1216 238h3v3h-3zM1361 239h3v3h-3zM1282 242h3v3h-3zM1335 242h3v3h-3zM1340 237h3v3h-3zM1313 240h3v3h-3zM1250 238h3v3h-3zM1299 240h3v3h-3zM1291 240h3v3h-3zM1277 241h3v3h-3zM1273 239h3v3h-3zM1201 238h3v3h-3zM1275 242h3v3h-3zM1255 240h3v3h-3zM1379 239h3v3h-3zM1366 238h3v3h-3zM1324 240h3v3h-3zM1215 237h3v3h-3zM1343 241h3v3h-3zM1280 239h3v3h-3zM1382 241h3v3h-3zM1305 240h3v3h-3zM1302 239h3v3h-3zM1280 240h3v3h-3zM1379 240h3v3h-3zM1403 243h3v3h-3zM1216 241h3v3h-3zM1226 239h3v3h-3zM1299 242h3v3h-3zM1257 240h3v3h-3zM1322 240h3v3h-3zM1397 239h3v3h-3zM1298 241h3v3h-3zM1306 242h3v3h-3zM1260 240h3v3h-3zM1260 240h3v3h-3zM1328 240h3v3h-3zM1360 240h3v3h-3zM1231 241h3v3h-3zM1290 241h3v3h-3zM1301 242h3v3h-3zM1203 241h3v3h-3zM1334 239h3v3h-3zM1254 239h3v3h-3zM1394 240h3v3h-3zM1223 239h3v3h-3zM1361 241h3v3h-3zM1346 241h3v3h-3zM1320 240h3v3h-3zM1271 239h3v3h-3zM1407 240h3v3h-3zM1267 239h3v3h-3zM1220 240h3v3h-3zM1255 242h3v3h-3zM1348 240h3v3h-3zM1209 240h3v3h-3zM1206 239h3v3h-3zM1316 237h3v3h-3zM1362 239h3v3h-3zM1249 240h3v3h-3zM1278 237h3v3h-3zM1375 239h3v3h-3zM1283 241h3v3h-3zM1323 239h3v3h-3zM1344 239h3v3h-3zM1348 238h3v3h-3zM1253 242h3v3h-3zM1376 238h3v3h-3zM1258 239h3v3h-3zM1377 241h3v3h-3zM1310 238h3v3h-3zM1277 238h3v3h-3zM1310 239h3v3h-3zM1307 240h3v3h-3zM1324 242h3v3h-3zM1274 241h3v3h-3zM1242 239h3v3h-3zM1344 237h3v3h-3zM1375 241h3v3h-3zM1248 241h3v3h-3zM1215 240h3v3h-3zM1375 239h3v3h-3zM1307 237h3v3h-3zM1267 241h3v3h-3zM1384 239h3v3h-3zM1371 238h3v3h-3zM1307 238h3v3h-3zM1236 242h3v3h-3zM1353 243h3v3h-3zM1398 242h3v3h-3zM1262 239h3v3h-3zM1400 242h3v3h-3zM1302 238h3v3h-3zM1223 241h3v3h-3z" fill="#00b2ee"/><path d="M1182 253h2h2h2h2v-1h2v1h2h2h2h2v-1h2v1h2v-1h2v1h2h2v-1h2v1h2h2h2h2v-1h2v1h2h2h2h2v-1h2v1h2h2h2v-1h2h2v1h2h2h2v-1h2v1h2h2v-1h2h2v1h2h2v-1h2v1h2h2h2v-1h2h2v1h2h2h2h2v-1h2h2v1h2v-1h2v1h2h2h2h2h2h2v-1h2v1h2v-1h2h2v1h2h2v-1h2h2h2v1h2h2h2v-1h2h2v1h2v-1h2v1h2h2h2h2h2h2h2h2h2v-1h2v1h2h2h2v-1h2h2v1h2h2h2v-1h2v1h2h2h2v-1h2h2v1h2v-1h2v1h2h2h2v-1h2v1h2v-1h2h2v1h2h2v-1h2h2v1h2h2v-1h2h2v1h2V257h-2h-2h-2h-2h-2h-2h-2h-2h-2h-2h-2h-2h-2h-2h-2h-2h-2h-2h-2h-2h-2h-2h-2h-2h-2h-2h-2h-2h-2h-2h-2h-2h-2h-2h-2h-2h-2h-2h-2h-2h-2h-2h-2h-2h-2h-2h-2h-2h-2h-2h-2h-2h-2h-2h-2h-2h-2h-2h-2h-2h-2h-2h-2h-2h-2h-2h-2h-2h-2h-2h-2h-2h-2h-2h-2h-2h-2h-2h-2h-2h-2h-2h-2h-2h-2h-2h-2h-2h-2h-2h-2h-2h-2h-2h-2h-2h-2h-2h-2h-2h-2h-2h-2h-2h-2h-2h-2h-2h-2h-2h-2h-2h-2h-2h-2h-2h-2h-2z" fill="#00b2ee"/><path d="M1419 226h3v3h-3zM1419 228h3v3h-3zM1419 231h3v3h-3zM1419 234h3v3h-3zM1419 237h3v3h-3zM1419 239h3v3h-3zM1420 241h3v3h-3zM1420 243h3v3h-3zM1420 246h3v3h-3zM1420 249h3v3h-3zM1420 251h3v3h-3zM1420 254h3v3h-3z" fill="#00b2ee"/><path d="M1422 228h3v3h-3zM1422 230h3v3h-3zM1422 233h3v3h-3zM1422 235h3v3h-3zM1422 237h3v3h-3zM1422 241h3v3h-3zM1423 242h3v3h-3zM1423 245h3v3h-3zM1423 247h3v3h-3zM1423 249h3v3h-3z" fill="#00b2ee"/><path d="M1423 214h3v3h-3zM1427 209h3v3h-3zM1429 211h3v3h-3z" fill="#00b2ee"/><path d="M1424 254h2h2v-1h2v1h2h2h2h2v-1h2V257h-2h-2h-2h-2h-2h-2h-2h-2z" fill="#00b2ee"/><path d="M1436 230h2v5h2v3h2v1h2v2h2v1h2v1h2h2v1h2v1h2v1h2V255h-2v-1h-2v-1h-2h-2v-2h-2h-2v-2h-2v1h-2v-4h-2v-2h-2v-4h-2z" fill="#00b2ee"/><path d="M1443 253h2h2h2h2h2h2h2h2h2h2h2h2h2h2h2h1V257h-1h-2h-2h-2h-2h-2h-2h-2h-2h-2h-2h-2h-2h-2h-2h-2z" fill="#00b2ee"/><path d="M1456 245h2h2h2v-1h2v2h2v-1h2h2h2v-1h2V254h-2h-2h-2h-2h-2h-2h-2h-2h-2z" fill="#00b2ee"/><path d="M904 228h2v1h2h2h2h2h2v1h2v-1h2v1h2h2h2h2h2h2h2v-1h2v1h2h2v-1h2v1h2v-1h2h2v1h2v-1h2h2h2h2h2h2h2h2h2h2h2h2h2h2h2h2h2v1h2v-1h2v1h2v-1h2h2v1h2v-1h2h2h2h2h2h2h2h2h2v-1h2v1h2v-1h2h2h2h2h2v-1h2h2v1h2v-1h2v1h2v-1h2h2v1h2v-1h2v1h2h2h2v-1h2v1h2h2h2h2h2h2h2h2v1h2h2h2h2h2h2h2h2h2h2h2h2h2h2h2v-1h2v1h2h2v-1h2h2v1h2h2h2h2h2v-1h2v1h2h2h2h2v1h2h2h2h2h2h2h2h2h2h2h2h2h2h2h2h2h2h2V240h-2h-2h-2v1h-2v-1h-2h-2h-2v1h-2h-2v-1h-2v1h-2v1h-2v-2h-2h-2h-2h-2v1h-2h-2v-1h-2h-2h-2h-2v1h-2h-2v-2h-2v1h-2h-2h-2h-2h-2h-2h-2v1h-2h-2h-2v-1h-2h-2h-2v1h-2h-2h-2h-2v-1h-2v1h-2h-2v-1h-2v1h-2v-1h-2h-2v1h-2v-1h-2h-2h-2v1h-2v-1h-2h-2h-2h-2v-1h-2h-2v1h-2h-2h-2v2h-2v-2h-2v-1h-2v1h-2h-2v2h-2v-2h-2v1h-2v-1h-2h-2h-2h-2v1h-2h-2h-2h-2h-2h-2v2h-2v-2h-2v1h-2v-1h-2v1h-2v-1h-2v2h-2v-2h-2h-2h-2v1h-2v-1h-2h-2h-2h-2h-2v1h-2h-2v-1h-2v1h-2h-2v1h-2h-2v-2h-2h-2v1h-2v-1h-2v1h-2v1h-2v-2h-2h-2h-2v2h-2v-1h-2h-2h-2h-2v-1h-2v1h-2h-2h-2h-2v-1h-2v1h-2h-2h-2h-2v-1h-2v1h-2h-2z" fill="#808080"/><path d="M904 226h2v1h2h2h2h2h2h2h2h2v1h2v-1h2h2h2h2h2v1h2v-1h2v-1h2v1h2v1h2h2v-1h2h2v-1h2v1h2h2h2v-1h2v1h2h2h2v-1h2v1h2h2h2h2v-1h2v1h2h2h2v-1h2h2h2v1h2h2h2h2h2h2h2v-1h2v1h2v-1h2h2h2h2h2v-1h2h2h2h2h2h2h2h2h2h2v-1h2h2h2v1h2h2h2v-1h2v1h2v-2h2v1h2v1h2h2h2v1h2v-1h2h2h2v1h2h2h2h2h2h2v-1h2v-1h2v2h2h2h2v-1h2h2v1h2v-1h2v1h2v-1h2h2h2v1h2v-1h2h2h2v1h2h2h2h2v-1h2v1h2v-1h2v1h2v1h2v-1h2v1h2v-1h2v1h2v-1h2h2h2v1h2v-1h2v1h2h2v-1h2h2h2h2V230h-2h-2v1h-2v-1h-2h-2v1h-2h-2h-2h-2h-2v1h-2v-1h-2h-2v1h-2v-1h-2h-2h-2v-1h-2v1h-2v-1h-2v2h-2v-2h-2h-2h-2h-2h-2h-2v-1h-2v1h-2v-1h-2v1h-2h-2h-2h-2v-1h-2v1h-2h-2v1h-2v-1h-2h-2h-2h-2h-2h-2h-2h-2h-2h-2h-2v1h-2v-1h-2v-1h-2v1h-2v-1h-2v1h-2v-1h-2v2h-2v-2h-2h-2v1h-2v-1h-2h-2h-2h-2h-2h-2v1h-2v-1h-2v1h-2v-1h-2h-2v2h-2v-1h-2h-2h-2h-2h-2v1h-2h-2h-2h-2h-2h-2v1h-2v-1h-2h-2v1h-2v-1h-2h-2v1h-2v-1h-2h-2v1h-2h-2h-2v-1h-2v1h-2v-1h-2v2h-2v-2h-2h-2v1h-2v-1h-2h-2h-2h-2v1h-2h-2h-2h-2h-2h-2h-2v1h-2v-1h-2h-2v1h-2h-2v1h-2v-2h-2h-2v1h-2h-2h-2v-1h-2h-2h-2h-2h-2v-1h-2h-2z" fill="#000000"/><path d="M1163 230h2h2h2h2h2V234h-2h-2h-2h-2h-2z" fill="#fff"/><path d="M1171 227h2h2h2h2h2h2h2h2h2h2h2h2h2h2h2h2h2h2v-1h2v1h2h2h2h2h2h2h2h2h2h2h2h2h2h2h2h2h2h2h2h2h2h2h2h2h2h2v-1h2v1h2h2h2h2h2h2h2h2h2v1h2v-1h2h2v1h2h2h2h2h2h2h2h2h2h2h2h2h2v-1h2v1h2v-1h2v1h2h2v-1h2v1h2h2h2v-1h2h2h2h2h2h2h2v-1h2v1h2h2h2h2h2v1h2v-1h2v1h2v-1h2v1h2v-1h2v1h2v-1h2h2h2h2h2h2v-1h2v1h2h2h2h2h2h2h2h2v-1h2v1h2v-1h2v1h2h2h1V238h-1v-1h-2h-2h-2v1h-2v-1h-2v1h-2v-1h-2h-2v1h-2v-1h-2v1h-2v1h-2h-2h-2v1h-2v-1h-2v-1h-2h-2h-2h-2h-2v1h-2v-1h-2v1h-2v2h-2v-2h-2v-1h-2h-2v1h-2v-1h-2h-2v1h-2v-1h-2h-2h-2h-2h-2v1h-2v-1h-2v1h-2v-1h-2v1h-2v-1h-2v1h-2v-1h-2v1h-2h-2h-2h-2v1h-2v-1h-2v-1h-2h-2v2h-2v1h-2v-2h-2v-1h-2h-2v1h-2v1h-2v-2h-2v1h-2v-1h-2h-2h-2v-1h-2v1h-2v1h-2v1h-2v-2h-2v1h-2v-2h-2v1h-2v-1h-2h-2h-2v1h-2h-2v-1h-2h-2h-2v2h-2v-2h-2v2h-2v-1h-2v1h-2h-2v-1h-2h-2h-2v1h-2v-1h-2v-1h-2v1h-2h-2h-2v1h-2h-2h-2v-1h-2v-1h-2v1h-2v-1h-2v1h-2v-1h-2v1h-2h-2h-2v-1h-2v1h-2h-2h-2h-2h-2h-2h-2h-2h-2v1h-2v-1h-2z" fill="#808080"/><path d="M1171 225h2h2h2h2h2v-1h2v1h2v-1h2v1h2v-1h2v1h2v-1h2h2v1h2v-1h2v-1h2v1h2v1h2h2h2h2h2h2h2v-2h2v1h2v1h2h2h2h2h2h2h2h2h2h2h2v-1h2h2h2v1h2v-2h2v1h2h2v-2h2v2h2h2v1h2v-1h2h2v1h2h2h2h2h2h2h2h2h2h2h2v1h2h2v-1h2v1h2v-1h2v1h2h2v-1h2v1h2h2h2v-1h2h2h2h2v-1h2v1h2h2h2h2h2h2h2h2h2h2h2h2h2v-1h2v1h2h2h2h2h2h2h2h2h2h2h2h2v-1h2v1h2h2v-1h2v1h2v-1h2v1h2h2h2v-1h2h2h2h2v1h2v-1h2h2h2v-1h1V227h-1h-2h-2h-2h-2h-2v1h-2v-1h-2h-2v1h-2v-1h-2v1h-2v-1h-2v1h-2h-2h-2h-2v1h-2v-1h-2h-2h-2h-2h-2h-2h-2h-2h-2h-2h-2h-2h-2h-2h-2h-2h-2v-1h-2v2h-2h-2v-1h-2v1h-2v-1h-2h-2h-2h-2h-2h-2h-2h-2h-2h-2h-2h-2h-2h-2v1h-2v-1h-2h-2v1h-2v-1h-2h-2h-2h-2h-2h-2h-2h-2v-1h-2h-2h-2h-2h-2h-2h-2h-2h-2h-2h-2h-2h-2v1h-2v-1h-2v1h-2v-1h-2h-2h-2h-2v1h-2h-2v-1h-2h-2h-2v1h-2h-2v1h-2v-1h-2v-1h-2v1h-2h-2v-1h-2v1h-2h-2v-1h-2h-2h-2v1h-2v-1h-2h-2h-2h-2h-2h-2v1h-2v-1h-2h-2h-2h-2v2h-2v-1h-2h-2h-2h-2z" fill="#000000"/><path d="M1410 226h2h2h2h2h2h2h2h2h2h2h2h2h2h2h2h2h2h2h2h2h2h2h2h2h2h2h2h2h2h2h2h2V239h-2v1h-2v-2h-2v1h-2h-2v1h-2v-1h-2h-2h-2h-2h-2v-1h-2h-2v1h-2h-2h-2v-1h-2h-2h-2h-2v3h-2v-2h-2h-2h-2v-1h-2h-2v2h-2v1h-2v-2h-2h-2v-1h-2v1h-2z" fill="#808080"/><path d="M1410 226h2v-1h2h2h2h2h2V228h-2h-2h-2h-2h-2h-2z" fill="#000000"/><path d="M1421 222h2v-1h2v1h2h2h2h2h2h2v1h2v-1h2h2h2v1h2v-1h2v1h2v-1h2h2h2h2h2h2h2h2v-1h2v1h2v1h2h1V229h-1v-1h-2v2h-2v-1h-2h-2h-2v-1h-2v2h-2v-2h-2v1h-2v-1h-2v1h-2v1h-2v-1h-2v-1h-2v1h-2h-2h-2h-2v1h-2v-1h-2v-1h-2h-2h-2h-2v1h-2h-2z" fill="#000000"/></g>
<g><rect x="1528.5" y="223.5" width="71" height="63" fill="none" stroke="#000" stroke-width="1"/><path d="M1600.4 225.5V287.4H1530.5" stroke="#000" stroke-width="1" fill="none" shape-rendering="auto"/><circle cx="1536.7" cy="236.5" r="2.6" fill="#00b2ee" shape-rendering="auto"/><text transform="translate(1560.8 240.6) scale(1.0 1.07)" font-family='"Liberation Mono", monospace' font-size="13" fill="#000">DCCT</text><circle cx="1536.7" cy="254.5" r="2.6" fill="#000000" shape-rendering="auto"/><text transform="translate(1560.8 258.8) scale(1.0 1.07)" font-family='"Liberation Mono", monospace' font-size="13" fill="#000">BCM1</text><text transform="translate(1560.8 276.5) scale(1.0 1.07)" font-family='"Liberation Mono", monospace' font-size="13" fill="#000">BCM2</text></g>
<g clip-path="url(#c904_5)"><path d="M904 290h1h1h1h1h1h1h1h1h1h1h1h1h1h1h1h1h1h1h1h1h1h1h1h1h1h1h1h1h1h1h1h1h1h1h1h1h1h1h1h1h1h1h1h1h1h1h1h1h1h1h1h1h1h1h1h1h1h1h1h1h1h1h1h1h1h1h1h1h1h1h1h1h1h1h1h1h1h1h1h1h1h1h1h1h1h1h1h1h1h1h1h1h1h1h1h1h1h1h1h1h1h1h1h1h1h1h1h1h1h1h1h1h1h1h1h1h1h1h1h1h1h1h1h1h1h1h1h1h1h1h1h1h1h1h1h1h1h1h1h1h1h1h1h1h1h1h1h1h1h1h1h1h1h1h1h1h1h1h1h1h1h1h1h1h1h1h1h1h1h1h1h1h1h1h1h1h1h1h1h1h1h1h1h1h1h1h1h1h1h1h1h1h1h1h1h1h1h1h1h1h1h1h1h1h1h1h1h1h1h1h1h1h1h1h1h1h1h1h1h1h1h1h1h1h1h1h1h1h1h1h1h1h1h1h1h1h1h1h1h1h1h1h1h1h1h1h1h1h1h1h1h1h1h1h1h1h1h1h1h1V307h-1h-1h-1h-1h-1h-1v1h-1v-1h-1h-1h-1h-1h-1v1h-1v-1h-1v1h-1v-1h-1h-1h-1h-1h-1h-1h-1h-1h-1h-1v1h-1v-1h-1h-1h-1h-1h-1h-1h-1h-1h-1h-1h-1h-1h-1h-1h-1h-1h-1h-1h-1h-1h-1v1h-1v-1h-1h-1h-1h-1h-1h-1h-1h-1v1h-1v-1h-1h-1h-1h-1h-1h-1h-1h-1h-1h-1h-1h-1h-1h-1h-1v1h-1v-1h-1h-1h-1h-1h-1h-1h-1h-1h-1h-1h-1h-1h-1h-1h-1h-1h-1h-1h-1v1h-1v-1h-1h-1h-1h-1h-1h-1h-1h-1h-1h-1h-1h-1h-1h-1h-1h-1h-1h-1h-1h-1h-1v1h-1v-1h-1h-1h-1v1h-1v-1h-1h-1h-1h-1v1h-1v-1h-1h-1h-1h-1h-1h-1h-1h-1h-1v1h-1v-1h-1h-1h-1h-1h-1h-1h-1h-1v1h-1h-1v-1h-1h-1h-1h-1v1h-1v-1h-1h-1h-1h-1v1h-1v-1h-1h-1h-1h-1v1h-1v-1h-1h-1h-1h-1h-1h-1h-1v1h-1v-1h-1h-1h-1h-1v1h-1h-1v-1h-1h-1h-1h-1h-1h-1h-1h-1h-1v1h-1v-1h-1h-1h-1h-1h-1v1h-1v-1h-1h-1v1h-1v-1h-1h-1h-1h-1h-1h-1v1h-1v-1h-1h-1h-1h-1h-1h-1h-1h-1h-1h-1h-1h-1h-1h-1h-1h-1v1h-1h-1h-1v-1h-1h-1h-1h-1v1h-1v-1h-1h-1h-1h-1h-1v1h-1v-1h-1h-1h-1h-1h-1h-1h-1h-1v1h-1v-1h-1h-1h-1h-1h-1h-1h-1h-1h-1h-1h-1h-1h-1h-1v1h-1v-1h-1h-1h-1h-1h-1h-1h-1z" fill="#ff0000"/><path d="M1172 290h1h1h1h1h1h1h1h1h1h1h1V307h-1h-1h-1h-1h-1h-1h-1h-1h-1h-1h-1z" fill="#ff0000"/><path d="M1199 290h1h1h1h1h1h1h1h1h1h1h1h1h1h1h1h1h1h1h1h1h1h1h1h1h1h1h1h1h1h1h1h1h1h1h1h1h1h1h1h1h1h1h1h1h1h1h1h1h1h1h1h1h1h1h1h1h1h1h1h1h1h1h1h1h1h1h1h1h1h1h1h1h1h1h1h1h1h1h1h1h1h1h1h1h1h1h1h1h1h1h1h1h1h1h1h1h1h1h1h1h1h1h1h1h1h1h1h1h1h1h1h1h1h1h1h1h1h1h1h1h1h1h1h1h1h1h1h1h1h1h1h1h1h1h1h1h1h1h1h1h1h1h1h1h1h1h1h1h1h1h1h1h1h1h1h1h1h1h1h1h1h1h1h1h1h1h1h1h1h1h1h1h1h1h1h1h1h1h1h1h1h1h1h1h1h1h1h1h1h1h1h1h1h1h1h1h1h1h1h1h1h1h1h1h1h1h1h1h1h1h1h1V307h-1h-1h-1h-1v1h-1v-1h-1h-1h-1h-1h-1h-1h-1h-1h-1h-1h-1h-1h-1h-1v1h-1v-1h-1h-1h-1h-1h-1h-1h-1h-1h-1h-1h-1h-1h-1h-1h-1h-1v1h-1v-1h-1h-1h-1h-1h-1h-1h-1h-1h-1h-1h-1v1h-1h-1v-1h-1h-1h-1h-1h-1h-1h-1h-1h-1h-1h-1h-1h-1h-1h-1h-1h-1h-1h-1h-1v1h-1v-1h-1h-1h-1h-1v1h-1v-1h-1h-1h-1h-1h-1h-1h-1h-1h-1h-1h-1h-1h-1h-1h-1h-1h-1h-1h-1h-1h-1h-1h-1h-1h-1h-1v1h-1v-1h-1h-1v1h-1v-1h-1h-1h-1h-1h-1h-1h-1h-1h-1h-1h-1h-1h-1h-1h-1v1h-1v-1h-1h-1h-1h-1v1h-1v-1h-1h-1h-1h-1h-1h-1h-1h-1h-1h-1h-1h-1h-1v1h-1v-1h-1h-1h-1v1h-1v-1h-1h-1h-1h-1h-1h-1h-1h-1h-1h-1h-1h-1h-1v1h-1v-1h-1h-1h-1h-1h-1h-1v1h-1v-1h-1h-1h-1h-1h-1h-1h-1h-1h-1h-1h-1h-1v1h-1v-1h-1h-1h-1v1h-1v-1h-1h-1h-1h-1h-1h-1v1h-1v-1h-1h-1h-1h-1v1h-1v-1h-1h-1h-1h-1v1h-1v-1h-1h-1h-1h-1h-1h-1h-1h-1h-1h-1h-1h-1z" fill="#ff0000"/><path d="M1420 290h1h1h1h1h1h1h1h1h1h1h1h1h1h1h1h1h1h1h1h1h1h1h1h1h1h1h1h1h1h1h1h1h1h1h1h1h1h1h1h1h1h1h1h1h1h1h1h1h1h1h1h1h1h1V307h-1h-1h-1h-1h-1h-1h-1h-1h-1h-1v1h-1v-1h-1h-1h-1h-1h-1h-1h-1h-1h-1h-1h-1h-1h-1h-1h-1h-1h-1h-1h-1h-1h-1h-1h-1v1h-1v-1h-1h-1h-1h-1h-1v1h-1v-1h-1h-1h-1h-1h-1h-1h-1h-1h-1h-1h-1h-1h-1z" fill="#ff0000"/><path d="M904 262h1h1h1h1h1h1h1h1h1h1h1h1h1h1h1h1h1h1h1h1h1h1h1h1h1h1h1h1h1h1h1h1h1h1h1h1h1h1h1h1h1h1h1h1h1h1h1h1h1h1h1h1h1h1h1h1h1h1h1h1h1h1h1h1h1h1h1h1h1h1h1h1h1h1h1h1h1h1h1h1h1h1h1h1h1h1h1h1h1h1h1h1h1h1h1h1h1h1h1h1h1h1h1h1h1h1h1h1h1h1h1h1h1h1h1h1h1h1h1h1h1h1h1h1h1h1h1h1h1h1h1h1h1h1h1h1h1h1h1h1h1h1h1h1h1h1h1h1h1h1h1h1h1h1h1h1h1h1h1h1h1h1h1h1h1h1h1h1h1h1h1h1h1h1h1h1h1h1h1h1h1h1h1h1h1h1h1h1h1h1h1h1h1h1h1h1h1h1h1h1h1h1h1h1h1h1h1h1h1h1h1h1h1h1h1h1h1h1h1h1h1h1h1h1h1h1h1h1h1h1h1h1h1h1h1h1h1h1h1h1h1h1h1h1h1h1h1h1h1h1h1h1h1h1h1h1h1h1h1h1V305h-1v1h-1v1h-1h-1v1h-1h-1v-4h-1v-5h-1v7h-1v2h-1v-3h-1v2h-1v-1h-1v1h-1v-1h-1v-1h-1v2h-1h-1v-1h-1v-3h-1h-1v2h-1v2h-1v1h-1v-2h-1v-2h-1v-1h-1v2h-1v2h-1h-1v-7h-1v5h-1v2h-1v-1h-1h-1v1h-1v1h-1h-1v-1h-1h-1h-1v1h-1v-1h-1h-1h-1v-3h-1v-1h-1h-1h-1h-1v1h-1v4h-1v-7h-1v4h-1v3h-1v-5h-1v3h-1v1h-1v1h-1v-4h-1v-3h-1v2h-1v2h-1v3h-1h-1v-1h-1v-2h-1v-1h-1v-1h-1v-1h-1v3h-1h-1v2h-1h-1v-1h-1h-1v1h-1h-1v-5h-1v4h-1v1h-1v-1h-1v-3h-1v1h-1v2h-1v1h-1h-1v-2h-1v2h-1h-1h-1v-4h-1v2h-1v2h-1v1h-1v-6h-1v3h-1v3h-1v-1h-1h-1v-1h-1v-1h-1h-1v-1h-1h-1h-1v1h-1v1h-1v2h-1v-1h-1v-3h-1v4h-1v-3h-1v2h-1v-2h-1v2h-1h-1h-1v-1h-1v-1h-1v3h-1v-1h-1h-1v-1h-1v-2h-1h-1h-1v-1h-1v2h-1v2h-1h-1h-1h-1v1h-1h-1v-1h-1h-1h-1v-6h-1v4h-1v2h-1v1h-1v-1h-1h-1h-1v1h-1h-1v-1h-1v1h-1v-1h-1h-1v1h-1v-1h-1h-1h-1h-1h-1v-2h-1v-7h-1v8h-1v1h-1h-1h-1h-1v1h-1h-1v-1h-1v1h-1h-1h-1v-1h-1h-1h-1h-1h-1h-1v1h-1h-1v-1h-1h-1h-1v1h-1v-1h-1h-1h-1v-2h-1v-2h-1v1h-1v1h-1v3h-1h-1v-1h-1v-2h-1v-1h-1v3h-1h-1h-1v-3h-1v-1h-1v1h-1h-1v3h-1v-3h-1v-1h-1h-1v1h-1v3h-1v1h-1v-1h-1h-1v1h-1h-1h-1v-1h-1h-1v1h-1h-1v-1h-1v1h-1v-1h-1v1h-1v-1h-1h-1v-1h-1v-4h-1v4h-1v2h-1v-1h-1h-1h-1v1h-1h-1v-1h-1h-1h-1v-2h-1v-3h-1v2h-1h-1v4h-1h-1v-1h-1h-1v1h-1v-1h-1h-1h-1h-1v-1h-1v-4h-1v4h-1v2h-1v-1h-1v1h-1v-1h-1h-1h-1v1h-1h-1h-1z" fill="#0000ff"/><path d="M1163 299h1v-5h1v-1h1v1h1v-1h1v3h1h1v-2h1v-3h1v7h1v-3h1V307h-1h-1h-1h-1v1h-1v-1h-1h-1v1h-1v-1h-1h-1v1h-1z" fill="#0000ff"/><path d="M1172 262h1h1h1h1h1h1h1h1h1h1h1V309h-1v1h-1h-1v2h-1v-1h-1h-1v1h-1v-3h-1h-1h-1h-1z" fill="#0000ff"/><path d="M1183 282h1v1h1v-1h1v-2h1v4h1v-1h1v-1h1v2h1v-5h1v2h1v1h1v-3h1h1v3h1v-5h1v7h1V304h-1v-3h-1h-1v6h-1v-6h-1h-1h-1h-1v3h-1h-1v-3h-1h-1v3h-1h-1v-1h-1v-2h-1z" fill="#ff0000"/><path d="M1183 262h1h1h1h1h1h1h1h1h1h1h1h1h1h1h1h1V292h-1v2h-1v-5h-1v1h-1v2h-1v-1h-1v-4h-1v-2h-1v-1h-1v2h-1v1h-1v-2h-1v3h-1h-1v2h-1v-2h-1z" fill="#0000ff"/><path d="M1198 262h1h1h1h1h1h1h1h1h1h1h1h1h1h1h1h1h1h1h1h1h1h1h1h1h1h1h1h1h1h1h1h1h1h1h1h1h1h1h1h1h1h1h1h1h1h1h1h1h1h1h1h1h1h1h1h1h1h1h1h1h1h1h1h1h1h1h1h1h1h1h1h1h1h1h1h1h1h1h1h1h1h1h1h1h1h1h1h1h1h1h1h1h1h1h1h1h1h1h1h1h1h1h1h1h1h1h1h1h1h1h1h1h1h1h1h1h1h1h1h1h1h1h1h1h1h1h1h1h1h1h1h1h1h1h1h1h1h1h1h1h1h1h1h1h1h1h1h1h1h1h1h1h1h1h1h1h1h1h1h1h1h1h1h1h1h1h1h1h1h1h1h1h1h1h1h1h1h1h1h1h1h1h1h1h1h1h1h1h1h1h1h1h1h1h1h1h1h1h1h1h1h1h1h1h1h1h1h1h1h1h1h1h1h1V305h-1v2h-1v1h-1h-1v-1h-1h-1h-1v-7h-1v5h-1v3h-1v-5h-1h-1v-2h-1v-3h-1h-1v1h-1v3h-1v1h-1v4h-1h-1h-1v-1h-1v-6h-1v5h-1v2h-1h-1h-1h-1v1h-1v-1h-1v1h-1h-1h-1h-1v-1h-1v-2h-1v-1h-1v-3h-1v1h-1v-1h-1h-1v2h-1v1h-1v4h-1v-1h-1v-1h-1h-1h-1h-1h-1h-1h-1v1h-1h-1h-1v-2h-1v2h-1v1h-1h-1v-2h-1v-1h-1h-1h-1v-1h-1v1h-1h-1h-1v2h-1v-2h-1v-3h-1v3h-1v2h-1v-2h-1h-1v2h-1v1h-1h-1v-2h-1h-1h-1v2h-1h-1v-4h-1v-2h-1v3h-1v2h-1v-3h-1v3h-1h-1v1h-1h-1v-1h-1v1h-1v-1h-1v1h-1v-5h-1v4h-1v-2h-1v-2h-1v2h-1v3h-1v-3h-1v-2h-1h-1h-1h-1h-1v1h-1v1h-1v3h-1v-1h-1h-1v-4h-1v4h-1h-1h-1v-5h-1v5h-1h-1h-1v-1h-1h-1v1h-1h-1v-3h-1v-4h-1v4h-1v3h-1v-4h-1v4h-1v-1h-1h-1h-1v1h-1v-2h-1h-1v2h-1h-1v-4h-1v3h-1h-1v2h-1h-1h-1v-2h-1v-1h-1v2h-1v1h-1h-1v-1h-1v-4h-1v4h-1h-1v-2h-1v2h-1v1h-1v-1h-1v-3h-1v-3h-1h-1v-2h-1v2h-1h-1v3h-1h-1v3h-1v-2h-1h-1h-1h-1v2h-1v-2h-1v3h-1v-1h-1h-1v-1h-1h-1v1h-1v-1h-1v-1h-1v1h-1v1h-1h-1h-1v-1h-1v-5h-1v5h-1v1h-1v1h-1v-3h-1h-1v2h-1v-3h-1h-1v4h-1h-1v-5h-1v2h-1v2h-1h-1v-1h-1h-1v2h-1v-3h-1h-1v-1h-1h-1v1h-1v1h-1v1h-1v-2h-1v-1h-1h-1v-6h-1z" fill="#0000ff"/><path d="M1213 300h1h1h1h1h1h1h1h1h1V313h-1h-1h-1h-1h-1h-1h-1h-1h-1z" fill="#0000ff"/><path d="M1420 262h1h1h1h1h1h1h1h1h1h1h1h1h1h1h1h1h1h1h1h1V308h-1v3h-1v-1h-1v-1h-1h-1v4h-1v-3h-1v-2h-1v1h-1h-1v3h-1v-1h-1v-3h-1v1h-1v4h-1v-1h-1v-3h-1h-1v-1h-1v2h-1z" fill="#0000ff"/><path d="M1410 292h1v3h1h1h1v3h1v-4h1v3h1h1v-1h1v-1h1v-2h1v1h1V307h-1h-1v1h-1h-1v-1h-1v1h-1v-1h-1h-1v1h-1v-1h-1h-1v1h-1z" fill="#0000ff"/><path d="M1440 277h1h1v2h1V306h-1h-1v2h-1z" fill="#ff0000"/><path d="M1443 262h1h1h1h1h1h1h1h1h1h1h1h1h1h1h1h1h1h1h1h1h1h1h1h1h1h1h1h1h1h1h1V305h-1h-1v3h-1h-1v-1h-1v-1h-1v1h-1h-1v-1h-1v-1h-1v-1h-1v1h-1h-1v1h-1v1h-1h-1h-1v-1h-1h-1v2h-1v-1h-1v-2h-1v1h-1v2h-1v-1h-1v-4h-1v3h-1v1h-1h-1v1h-1v-2h-1z" fill="#0000ff"/><path d="M906 306v4M908 306v4M911 306v5M912 306v4M921 306v4M927 306v3M928 306v3M929 306v4M931 306v4M932 306v3M937 306v5M939 306v3M940 306v5M949 306v6M950 306v3M951 306v5M957 306v6M966 306v5M967 306v3M968 306v3M975 306v3M976 306v3M979 306v4M982 306v4M984 306v5M985 306v6M986 306v4M990 306v6M992 306v4M994 306v6M995 306v3M998 306v6M1002 306v3M1003 306v6M1005 306v4M1006 306v4M1008 306v3M1011 306v3M1012 306v4M1018 306v6M1022 306v4M1023 306v6M1024 306v3M1028 306v5M1029 306v5M1030 306v4M1031 306v5M1036 306v6M1037 306v7M1038 306v4M1039 306v4M1041 306v3M1043 306v5M1044 306v3M1045 306v5M1047 306v6M1048 306v3M1051 306v6M1052 306v6M1060 306v6M1061 306v3M1063 306v5M1064 306v3M1068 306v6M1072 306v6M1073 306v3M1074 306v4M1078 306v7M1081 306v3M1083 306v6M1086 306v4M1089 306v4M1092 306v4M1095 306v5M1098 306v7M1100 306v6M1104 306v4M1105 306v3M1107 306v6M1119 306v6M1126 306v4M1129 306v4M1133 306v4M1149 306v4M1155 306v6M1157 306v6M1162 306v6M1163 306v7M1164 306v6M1165 306v7M1167 306v3M1172 306v3M1176 306v6M1177 306v3M1178 306v4M1180 306v3M1182 306v7M1206 306v4M1208 306v4M1209 306v7M1218 306v6M1221 306v6M1227 306v5M1229 306v4M1236 306v5M1240 306v5M1241 306v6M1242 306v7M1244 306v5M1246 306v4M1247 306v7M1250 306v5M1255 306v5M1256 306v3M1258 306v7M1261 306v4M1263 306v5M1265 306v7M1269 306v5M1271 306v5M1272 306v5M1277 306v4M1278 306v6M1282 306v3M1284 306v6M1295 306v4M1309 306v3M1316 306v3M1318 306v5M1324 306v5M1326 306v6M1328 306v3M1331 306v3M1332 306v6M1334 306v5M1337 306v3M1339 306v3M1348 306v3M1349 306v6M1358 306v5M1366 306v6M1371 306v6M1372 306v5M1373 306v4M1375 306v3M1383 306v6M1387 306v7M1389 306v6M1391 306v7M1396 306v3M1403 306v4M1408 306v4M1410 306v3M1414 306v6M1416 306v7M1419 306v6M1420 306v7M1421 306v3M1422 306v7M1425 306v7M1427 306v7M1428 306v6M1429 306v3M1430 306v3M1433 306v7M1434 306v4M1435 306v7M1436 306v6M1437 306v5M1438 306v4M1439 306v3M1440 306v6M1441 306v6M1444 306v5M1445 306v5M1446 306v3M1448 306v3M1449 306v4M1453 306v7M1455 306v7M1456 306v4M1458 306v5M1459 306v4M1464 306v5M1465 306v4M1466 306v7M1469 306v4M1470 306v5M1472 306v6" stroke="#0000ff" stroke-width="1" fill="none" transform="translate(0.5 0)"/><path d="M1173 262h1v24h-1zM1175 262h1v18h-1zM1176 262h1v26h-1zM1182 262h1v17h-1zM1176 262h1v14h-1zM1188 262h1v10h-1zM1184 262h1v22h-1zM1183 262h1v10h-1zM1196 262h1v19h-1zM1190 262h1v17h-1zM1198 262h1v6h-1zM1195 262h1v21h-1zM1424 262h1v9h-1zM1423 262h1v6h-1zM1439 262h1v11h-1zM1420 262h1v7h-1zM1427 262h1v9h-1zM1426 262h1v9h-1zM1432 262h1v16h-1zM1446 262h1v8h-1zM909 262h1v4h-1zM1215 262h1v16h-1zM980 294h1v14h-1z" fill="#fff"/><path d="M980 274h1v20h-1z" fill="#ff0000"/></g>
<g><rect x="1493.5" y="279.5" width="106" height="45" fill="none" stroke="#000" stroke-width="1"/><path d="M1600.4 281.5V325.4H1495.5" stroke="#000" stroke-width="1" fill="none" shape-rendering="auto"/><path d="M1500 292.5H1540" stroke="#ff0000" stroke-width="1"/><text transform="translate(1544.8 296.5) scale(1.0 1.07)" font-family='"Liberation Mono", monospace' font-size="13" fill="#000">BW_180</text><path d="M1500 310.5H1540" stroke="#0000ff" stroke-width="1"/><text transform="translate(1544.8 314.6) scale(1.0 1.07)" font-family='"Liberation Mono", monospace' font-size="13" fill="#000">BW_270</text></g>
<g clip-path="url(#c904_6)"><path d="M904 333h2h2h2v1h2v-1h2v1h2v-2h2v2h2v-1h2v-1h2v1h2h2h2h2h2v-1h2h2v-1h2h2h2v2h2v-1h2v1h2h2h2v-2h2v2h2h2h2h2h2h2v1h2h2v-2h2v1h2h2v-1h2v1h2v-1h2v2h2h2h2v-1h2v1h2h2h2h2h2h2h2h2h2h2h2h2h2v-1h2h2v1h2h2v-1h2h2v1h2v-2h2v2h2v-1h2v1h2v-1h2h2h2v1h2h2v-1h2h2v1h2v-2h2v2h2v-1h2v2h2h2v-1h2h2h2v1h2v1h2h2v-1h2h2h2h2v1h2h2h2v-1h2v1h2h2h2v-2h2v2h2h2h2v-3h2v2h2v-1h2h2h2h2h2v1h2v-1h2v1h2v-1h2h2h2v1h2v-1h2h2h2h2v-1h2v-3h2v3h2h2h2v-1h2v2h2h2h2v-1h2h2V363h-2h-2h-2h-2h-2h-2h-2h-2h-2h-2h-2h-2h-2h-2h-2h-2h-2h-2h-2h-2h-2h-2h-2h-2h-2h-2h-2h-2h-2h-2h-2h-2h-2h-2h-2h-2h-2h-2h-2h-2h-2h-2h-2h-2h-2h-2h-2h-2h-2h-2h-2h-2h-2h-2h-2h-2h-2h-2h-2h-2h-2h-2h-2h-2h-2h-2h-2h-2h-2h-2h-2h-2h-2h-2h-2h-2h-2h-2h-2h-2h-2h-2h-2h-2h-2h-2h-2h-2h-2h-2h-2h-2h-2h-2h-2h-2h-2h-2h-2h-2h-2h-2h-2h-2h-2h-2h-2h-2h-2h-2h-2h-2h-2h-2h-2h-2h-2h-2h-2h-2h-2h-2h-2h-2h-2h-2h-2h-2h-2h-2h-2z" fill="#ff1493"/><path d="M1121 350h2v2h-2zM1142 355h2v2h-2zM1101 351h5v2h-5zM943 350h2v1h-2zM1073 352h2v2h-2zM914 348h5v1h-5zM1110 354h2v1h-2zM1079 344h2v2h-2zM1161 347h2v2h-2zM962 349h5v1h-5zM951 349h4v2h-4zM945 343h2v2h-2zM1071 353h3v1h-3zM1094 345h3v1h-3zM1155 353h2v2h-2zM1004 351h3v2h-3zM1094 356h4v2h-4zM1150 351h4v1h-4zM930 352h5v1h-5zM957 351h4v1h-4zM968 345h3v2h-3zM1125 353h2v2h-2zM915 345h3v2h-3zM940 352h2v1h-2zM931 354h4v2h-4zM1093 355h3v1h-3zM938 356h2v2h-2zM1092 345h4v1h-4zM927 346h2v1h-2zM931 354h2v1h-2zM1008 343h3v1h-3zM1052 351h2v2h-2zM1021 344h4v2h-4zM1146 344h4v2h-4zM1084 354h2v2h-2zM964 350h2v2h-2zM915 347h4v1h-4zM1004 354h2v1h-2zM1150 348h2v2h-2zM1078 347h2v1h-2zM1111 355h2v2h-2zM1056 352h4v2h-4zM992 347h5v2h-5zM920 350h2v2h-2zM1006 346h5v2h-5zM1138 346h4v2h-4zM1091 354h2v1h-2zM1152 355h2v2h-2zM1159 343h2v1h-2zM1103 349h2v1h-2zM1110 346h3v2h-3zM982 351h2v2h-2zM1019 343h2v2h-2zM972 345h2v2h-2zM1150 345h2v2h-2zM1154 355h2v2h-2zM963 351h2v2h-2zM1030 354h2v2h-2zM1069 356h2v2h-2zM1142 352h5v2h-5zM946 355h2v1h-2zM1036 348h2v1h-2zM965 343h2v1h-2zM1157 350h2v2h-2zM1112 352h2v2h-2zM1126 343h2v1h-2zM1125 348h2v2h-2zM960 353h2v1h-2zM965 353h5v2h-5zM918 355h2v2h-2zM1041 352h3v2h-3zM1033 348h2v2h-2zM1156 352h2v2h-2zM954 355h2v1h-2zM1075 355h5v1h-5zM1010 348h2v1h-2zM985 348h3v1h-3zM974 352h3v2h-3zM1036 345h5v2h-5zM1047 348h4v1h-4zM952 356h2v1h-2zM933 352h2v1h-2zM973 347h2v1h-2zM1112 355h2v2h-2zM1156 346h2v2h-2zM911 355h2v2h-2zM953 347h2v1h-2zM1005 353h2v2h-2zM1015 349h2v2h-2zM997 353h2v2h-2zM1031 354h5v1h-5zM975 348h2v1h-2zM946 345h2v2h-2zM1061 355h2v2h-2zM921 349h5v1h-5zM1049 355h2v1h-2zM926 344h5v2h-5zM1105 353h2v1h-2zM1105 349h3v1h-3zM1012 353h4v2h-4zM922 356h2v1h-2zM1116 346h2v2h-2zM1107 350h2v1h-2zM922 348h2v2h-2zM948 354h4v2h-4zM1119 346h2v1h-2zM1053 343h5v1h-5zM1030 356h4v1h-4zM1094 346h5v2h-5zM932 353h2v1h-2zM1099 343h2v1h-2zM965 347h2v1h-2zM1065 347h2v2h-2zM994 355h2v2h-2zM920 349h4v2h-4zM951 355h2v1h-2zM974 344h2v1h-2zM1030 354h4v2h-4zM954 346h2v2h-2zM979 346h2v2h-2zM1121 351h2v1h-2zM1120 343h2v2h-2zM1151 354h2v2h-2zM1142 346h2v1h-2zM1074 344h2v2h-2zM994 351h2v1h-2zM1032 349h2v1h-2zM1075 346h2v1h-2zM955 355h2v2h-2zM926 343h2v1h-2zM996 348h4v2h-4zM1091 354h5v2h-5zM1118 347h3v2h-3zM1109 346h5v2h-5zM928 345h2v1h-2zM937 343h2v1h-2zM988 348h5v1h-5zM995 345h2v1h-2zM1071 347h2v2h-2zM1070 346h2v2h-2zM967 348h2v1h-2zM1030 346h2v2h-2zM948 347h2v1h-2zM913 353h5v2h-5zM937 353h2v1h-2zM1026 349h5v1h-5zM1145 345h4v2h-4zM916 353h2v1h-2zM1108 344h2v2h-2zM976 349h2v2h-2zM1030 347h2v1h-2zM945 351h2v2h-2zM1145 348h5v2h-5zM1052 352h2v2h-2zM1158 349h2v2h-2zM1006 343h2v2h-2zM1041 354h2v1h-2zM1095 345h2v2h-2zM1074 349h4v2h-4zM1035 355h5v2h-5zM1019 348h2v1h-2zM991 353h5v1h-5zM1123 354h5v2h-5zM940 355h2v2h-2zM1081 349h5v1h-5zM1058 344h5v2h-5zM1047 343h2v2h-2zM937 343h2v1h-2zM1141 346h2v2h-2zM926 352h2v1h-2zM987 344h2v2h-2zM1009 354h2v2h-2zM948 351h2v1h-2zM1065 353h2v2h-2zM1111 349h2v2h-2zM1147 343h2v1h-2zM1145 349h2v1h-2zM950 343h2v1h-2zM916 345h2v2h-2zM1063 353h2v1h-2zM1145 343h4v2h-4zM1005 348h2v2h-2zM1133 352h2v1h-2zM960 349h2v2h-2zM947 354h5v1h-5zM938 345h3v2h-3zM1018 352h2v1h-2zM941 347h2v2h-2zM1006 348h2v1h-2zM977 346h5v1h-5zM1034 347h2v1h-2zM1012 345h4v2h-4zM947 355h2v1h-2zM1111 355h2v1h-2zM1098 348h2v2h-2zM1042 350h2v2h-2zM1029 353h2v1h-2zM1142 343h5v2h-5zM1082 348h2v2h-2zM1084 344h2v1h-2zM1103 356h2v2h-2zM1058 343h3v1h-3zM999 352h2v2h-2zM1074 349h2v2h-2zM952 355h2v2h-2zM997 352h2v1h-2zM1045 349h2v1h-2zM908 356h4v1h-4zM916 353h2v2h-2zM1124 343h5v2h-5zM972 349h3v2h-3zM1140 346h2v1h-2zM1072 350h5v2h-5zM1036 351h2v2h-2zM961 344h2v1h-2zM1060 346h2v2h-2zM1039 345h2v1h-2zM938 352h4v2h-4zM1027 346h5v1h-5zM916 343h5v2h-5zM1089 351h2v1h-2zM1033 344h2v2h-2zM929 349h2v1h-2zM1128 345h2v2h-2zM924 348h2v1h-2zM970 343h2v2h-2zM1012 348h2v1h-2zM1086 348h5v2h-5zM1044 353h2v2h-2zM993 355h2v2h-2zM917 355h2v1h-2zM928 348h2v1h-2zM1008 356h2v2h-2zM1126 345h2v2h-2zM1059 351h5v2h-5zM1029 344h2v2h-2zM993 349h2v1h-2zM934 350h4v2h-4zM1116 347h2v2h-2zM1005 345h2v1h-2zM943 343h2v1h-2zM1047 350h2v1h-2zM920 345h5v2h-5zM1021 350h2v2h-2zM1120 348h2v2h-2zM1022 344h2v1h-2zM1046 348h3v2h-3zM927 348h2v2h-2zM1034 351h3v1h-3zM1106 355h2v2h-2zM1033 349h2v1h-2zM1140 345h4v1h-4zM1130 348h2v1h-2zM1058 344h2v1h-2zM1041 356h5v2h-5zM1135 344h5v2h-5zM1008 343h2v1h-2zM1090 344h2v1h-2zM1050 353h2v1h-2zM1037 352h2v2h-2zM1050 344h2v2h-2zM1002 344h2v2h-2zM1023 352h2v2h-2zM978 356h2v2h-2zM1137 353h2v1h-2zM1025 344h2v1h-2zM1035 353h2v2h-2zM942 354h2v1h-2zM981 351h2v2h-2zM1157 344h2v2h-2zM1125 350h2v2h-2zM1153 346h4v2h-4zM915 355h2v1h-2zM1003 354h2v2h-2zM910 356h2v1h-2zM980 343h5v1h-5zM944 351h2v1h-2zM950 344h2v2h-2zM988 351h2v2h-2zM1092 354h4v1h-4zM930 352h2v2h-2zM1152 352h3v2h-3zM1093 352h2v1h-2zM932 343h2v1h-2zM1157 345h4v1h-4zM916 346h4v2h-4zM1021 346h2v2h-2zM1136 355h2v1h-2zM1073 351h2v2h-2zM1015 349h2v1h-2zM1106 348h2v1h-2zM1118 350h5v1h-5zM1035 347h2v1h-2zM1127 349h3v2h-3zM976 351h4v1h-4zM1130 356h2v2h-2zM1115 352h2v2h-2zM1120 346h2v1h-2zM1072 348h2v1h-2zM1133 355h2v1h-2zM1142 347h2v1h-2zM1008 345h3v1h-3zM1110 351h2v1h-2zM998 347h2v1h-2zM1043 355h2v1h-2zM1101 349h2v2h-2zM1151 350h2v2h-2zM919 343h4v2h-4zM1086 349h2v2h-2zM997 351h4v1h-4zM937 349h3v1h-3zM1129 348h2v1h-2zM993 349h2v2h-2zM1134 353h2v1h-2zM1039 346h2v2h-2zM987 349h2v1h-2zM1136 346h2v2h-2zM917 345h2v2h-2zM976 348h2v2h-2zM1025 353h4v2h-4zM942 351h2v1h-2zM1082 356h2v1h-2zM1128 345h2v2h-2zM1029 345h2v2h-2zM1109 343h5v1h-5zM1040 355h4v1h-4zM1130 356h2v1h-2zM944 343h2v1h-2zM991 350h2v2h-2zM953 344h2v2h-2zM1142 356h2v2h-2zM1053 346h2v1h-2zM953 349h2v1h-2zM1101 353h2v1h-2zM912 347h5v1h-5zM1144 355h2v1h-2zM1037 347h2v2h-2zM976 352h2v2h-2zM1036 349h2v1h-2zM1060 347h2v2h-2z" fill="#fff"/><path d="M1163 357h2v1h2h2v-1h2h2h2h2v-1h2v-1h2v-2h2v-1h1V363h-1v-1h-2v1h-2h-2v-1h-2v1h-2v-1h-2h-2v1h-2v-1h-2v1h-2z" fill="#ff1493"/><path d="M1192 322h3v3h-3zM1194 325h3v3h-3zM1189 330h3v3h-3zM1196 334h3v3h-3zM1190 317h3v3h-3zM1185 340h3v3h-3zM1197 330h3v3h-3zM1193 316h3v3h-3zM1193 339h3v3h-3zM1187 339h3v3h-3zM1190 330h3v3h-3zM1183 337h3v3h-3zM1191 328h3v3h-3zM1190 321h3v3h-3zM1199 331h3v3h-3zM1196 332h3v3h-3zM1198 317h3v3h-3zM1198 327h3v3h-3zM1196 326h3v3h-3zM1189 339h3v3h-3zM1187 327h3v3h-3zM1188 337h3v3h-3zM1192 328h3v3h-3zM1186 326h3v3h-3zM1187 314h3v3h-3zM1186 323h3v3h-3zM1197 328h3v3h-3zM1190 322h3v3h-3zM1184 316h3v3h-3zM1198 340h3v3h-3zM1186 333h3v3h-3zM1198 334h3v3h-3zM1191 322h3v3h-3zM1197 315h3v3h-3zM1187 332h3v3h-3zM1192 338h3v3h-3zM1188 323h3v3h-3zM1192 317h3v3h-3zM1196 330h3v3h-3zM1186 337h3v3h-3zM1194 322h3v3h-3zM1195 320h3v3h-3zM1197 320h3v3h-3zM1184 318h3v3h-3zM1188 328h3v3h-3zM1185 321h3v3h-3zM1192 340h3v3h-3zM1187 335h3v3h-3zM1194 332h3v3h-3zM1197 338h3v3h-3zM1185 318h3v3h-3zM1187 325h3v3h-3zM1184 332h3v3h-3zM1185 314h3v3h-3zM1187 326h3v3h-3zM1186 316h3v3h-3zM1194 330h3v3h-3zM1186 314h3v3h-3zM1183 321h3v3h-3zM1197 314h3v3h-3z" fill="#ff1493"/><path d="M1183 339h2v-15h2v-8h2h2h2h2v2h2h2v9h2V356h-2v-13h-2v-5h-2v-1h-2v1h-2v2h-2h-2v4h-2v16h-2z" fill="#ff1493"/><path d="M1183 357h2h2h2h2h2h2h2h2h1V363h-1v-1h-2h-2v1h-2v-1h-2v1h-2h-2h-2v-1h-2z" fill="#ff1493"/><path d="M1229 322h3v3h-3z" fill="#ff1493"/><path d="M1199 334h2h2h2h2v1h2v-2h2v2h2v-1h2v-1h2v1h2v1h2v-1h2v1h2v-1h2h2v-1h2v-1h2v1h2v2h2v-1h2v1h2v-1h2v1h2h2h2h2v-2h2h2v2h2h2v-4h2v3h2v-1h2v2h2v-2h2v2h2h2h2v-3h2v2h2v-2h2v3h2h2h2h2h2v-1h2h2v1h2v-2h2v2h2h2h2v1h2v-1h2h2h2v-1h2v2h2h2v-1h2v1h2v-1h2v1h2h2v-1h2v1h2h2v1h2v-1h2v-2h2h2v2h2h2h2v1h2v-1h2v1h2v-1h2v1h2h2h2v-1h2v-2h2v4h2v-2h2v2h2h2h2h2h2h2h2v-1h2v-1h2v3h2v-1h2v-2h2v2h2h2v1h2h2v-2h2v2h2h2h2h1V363h-1v-1h-2v1h-2h-2h-2v-1h-2v1h-2h-2v-1h-2v1h-2v-1h-2v1h-2h-2h-2h-2v-1h-2v1h-2h-2h-2h-2h-2v-1h-2v1h-2h-2v-1h-2v1h-2h-2v-1h-2v1h-2h-2h-2h-2h-2v-1h-2h-2v1h-2v-1h-2v1h-2h-2h-2h-2h-2h-2h-2h-2h-2h-2h-2v-1h-2v1h-2h-2h-2h-2h-2v-1h-2v1h-2v-1h-2v1h-2h-2h-2h-2h-2h-2v-1h-2v1h-2h-2v-1h-2h-2v1h-2v-1h-2h-2v1h-2v-1h-2v1h-2h-2h-2h-2h-2h-2v-1h-2v1h-2h-2v-1h-2v1h-2h-2h-2v-1h-2h-2v1h-2h-2h-2h-2h-2h-2h-2h-2h-2h-2h-2v-1h-2h-2v1h-2v-1h-2v1h-2h-2v-1h-2v1h-2z" fill="#ff1493"/><path d="M1349 354h2v2h-2zM1265 352h3v1h-3zM1299 354h2v1h-2zM1265 348h2v2h-2zM1282 353h2v2h-2zM1373 349h5v2h-5zM1310 354h2v2h-2zM1246 353h2v1h-2zM1221 350h2v1h-2zM1275 348h5v1h-5zM1325 351h2v2h-2zM1323 347h2v1h-2zM1247 353h2v1h-2zM1247 349h2v2h-2zM1303 347h5v1h-5zM1385 350h2v2h-2zM1358 349h2v2h-2zM1350 349h2v2h-2zM1243 354h4v1h-4zM1289 353h5v1h-5zM1301 347h2v1h-2zM1335 356h2v2h-2zM1360 351h2v2h-2zM1369 350h5v1h-5zM1403 354h4v2h-4zM1353 346h4v1h-4zM1311 350h3v2h-3zM1354 353h2v2h-2zM1315 347h2v1h-2zM1268 353h2v1h-2zM1306 350h3v1h-3zM1339 349h4v1h-4zM1396 352h2v1h-2zM1294 349h2v1h-2zM1354 347h2v2h-2zM1243 356h3v1h-3zM1284 347h2v2h-2zM1324 354h4v1h-4zM1262 347h2v1h-2zM1374 356h2v1h-2zM1290 346h3v2h-3zM1257 351h3v1h-3zM1261 355h2v2h-2zM1271 350h2v2h-2zM1346 351h2v2h-2zM1275 351h2v2h-2zM1240 351h2v2h-2zM1405 348h2v2h-2zM1239 352h2v2h-2zM1398 353h2v1h-2zM1313 346h3v2h-3zM1223 351h4v2h-4zM1246 351h2v1h-2zM1375 346h5v1h-5zM1286 350h2v2h-2zM1293 354h2v1h-2zM1364 351h2v1h-2zM1390 350h4v2h-4zM1231 349h2v2h-2zM1317 350h2v2h-2zM1303 346h2v2h-2zM1373 348h2v2h-2zM1406 352h2v1h-2zM1275 353h2v1h-2zM1376 356h2v2h-2zM1306 351h5v1h-5zM1359 354h2v2h-2zM1405 348h3v1h-3zM1318 351h2v1h-2zM1242 355h2v2h-2zM1320 349h2v2h-2zM1378 346h4v1h-4zM1289 355h2v1h-2zM1313 346h2v1h-2zM1349 346h2v1h-2zM1311 348h2v2h-2zM1307 348h2v1h-2zM1327 350h2v1h-2zM1326 350h3v1h-3zM1230 352h5v1h-5zM1265 355h2v2h-2zM1309 356h2v1h-2zM1236 351h2v1h-2zM1317 352h2v2h-2zM1249 348h4v2h-4zM1318 353h2v1h-2zM1351 346h2v2h-2zM1258 351h2v2h-2zM1273 356h2v1h-2zM1335 353h2v1h-2zM1214 352h2v1h-2zM1343 353h5v2h-5zM1310 355h4v1h-4zM1356 354h2v1h-2zM1303 356h2v1h-2zM1212 347h2v2h-2zM1329 356h2v1h-2zM1357 348h2v1h-2zM1208 350h2v2h-2zM1297 354h2v2h-2zM1238 349h2v2h-2zM1329 353h4v2h-4zM1320 346h2v1h-2zM1355 348h2v1h-2zM1298 348h2v1h-2zM1373 356h2v2h-2zM1276 354h2v1h-2zM1327 356h2v2h-2zM1255 350h2v2h-2zM1407 355h2v1h-2zM1378 349h3v2h-3zM1227 348h2v2h-2zM1347 350h4v1h-4zM1311 356h2v2h-2zM1240 353h2v1h-2zM1342 349h4v1h-4zM1265 348h2v2h-2zM1220 346h2v1h-2zM1226 356h5v2h-5zM1260 352h2v1h-2zM1244 346h2v1h-2zM1273 356h2v2h-2zM1407 348h5v1h-5zM1394 346h2v1h-2zM1327 349h5v1h-5zM1281 348h2v2h-2zM1266 352h2v1h-2zM1296 350h2v1h-2zM1219 350h4v2h-4zM1300 355h2v1h-2zM1316 348h2v1h-2zM1404 347h2v2h-2zM1387 355h2v1h-2zM1378 353h4v1h-4zM1320 352h2v1h-2zM1257 346h4v1h-4zM1250 349h2v1h-2zM1320 354h5v1h-5zM1335 354h2v2h-2zM1295 353h4v1h-4zM1375 349h2v1h-2zM1287 348h2v1h-2zM1213 356h2v2h-2zM1393 351h2v2h-2zM1342 352h4v1h-4zM1278 355h2v2h-2zM1257 352h2v1h-2zM1371 349h4v1h-4zM1294 352h2v2h-2zM1277 353h2v2h-2zM1347 353h4v2h-4zM1224 355h2v1h-2zM1353 350h2v1h-2zM1352 355h5v1h-5zM1328 352h2v2h-2zM1343 353h2v2h-2zM1381 352h2v2h-2zM1234 350h2v2h-2zM1309 355h2v2h-2zM1298 348h5v2h-5zM1226 348h2v1h-2zM1313 350h2v2h-2zM1231 346h2v1h-2zM1362 349h2v1h-2zM1207 355h5v1h-5zM1393 349h4v2h-4zM1249 348h2v2h-2zM1214 352h5v2h-5zM1352 351h2v1h-2zM1263 354h2v1h-2zM1378 347h2v2h-2zM1383 348h2v1h-2zM1291 352h2v1h-2zM1302 355h4v2h-4zM1360 346h2v2h-2zM1330 354h2v2h-2zM1364 347h2v2h-2zM1404 347h2v1h-2zM1223 348h2v1h-2zM1338 352h2v2h-2zM1237 356h2v2h-2zM1314 349h2v1h-2zM1377 350h2v1h-2zM1333 349h2v2h-2zM1323 349h2v2h-2zM1211 346h2v2h-2zM1357 353h4v1h-4zM1316 349h2v1h-2zM1314 347h2v2h-2zM1211 356h2v2h-2z" fill="#fff"/><path d="M1410 357h2h2v1h2h2v-1h2h2v1h2v-1h2v1h2v-1h2h2v-1h2v-2h2v-1h2v-1h2V362h-2v1h-2h-2h-2h-2v-1h-2v1h-2v-1h-2h-2v1h-2h-2h-2h-2h-2h-2z" fill="#ff1493"/><path d="M1437 349h2v-2h2v-1h2v-8h2v-7h2v-2h2v-1h2v4h2v4h2v-2h2v1h2h2v1h2h2v-1h2h2v1h2v-1h2v-1h1V363h-1h-2h-2h-2h-2v-1h-2v1h-2h-2h-2v-1h-2v1h-2h-2h-2h-2v-1h-2v1h-2h-2v-1h-2v1h-2z" fill="#ff1493"/><path d="M1462 355h2v1h-2zM1449 349h5v1h-5zM1446 356h5v2h-5zM1450 348h5v1h-5zM1448 347h2v2h-2zM1453 353h2v1h-2zM1460 345h2v2h-2zM1458 351h2v2h-2zM1454 351h2v1h-2zM1467 354h4v1h-4zM1463 345h2v1h-2zM1456 346h2v2h-2zM1465 345h2v1h-2zM1455 354h2v1h-2zM1459 351h2v1h-2zM1459 353h2v2h-2zM1458 353h4v2h-4zM1463 352h4v1h-4zM1450 350h4v1h-4zM1455 348h2v2h-2zM1446 346h2v1h-2zM1463 347h5v1h-5zM1461 349h5v1h-5zM1456 353h5v1h-5zM1458 351h5v1h-5zM1456 354h2v1h-2zM1467 352h2v1h-2zM1453 353h2v1h-2zM1453 351h2v1h-2zM1453 345h3v1h-3zM1457 351h2v1h-2zM1467 351h2v2h-2zM1457 350h2v2h-2zM1463 356h2v1h-2zM1461 352h2v2h-2zM1466 347h3v2h-3zM1468 345h4v1h-4zM1459 355h5v2h-5zM1451 347h2v2h-2zM1468 351h2v2h-2z" fill="#fff"/><path d="M1442 337h3v3h-3z" fill="#ff1493"/></g>
<g><rect x="1480.5" y="329.5" width="119" height="27" fill="#fff" stroke="#000" stroke-width="1"/><path d="M1600.4 331.5V357.4H1482.5" stroke="#000" stroke-width="1" fill="none" shape-rendering="auto"/><circle cx="1488.6" cy="342.5" r="2.6" fill="#ff1493" shape-rendering="auto"/><text transform="translate(1513.2 346.6) scale(1.0 1.07)" font-family='"Liberation Mono", monospace' font-size="13" fill="#000">InjP BPM_d</text></g>
<g clip-path="url(#c904_7)"><path d="M904 398h2h2v-3h2v3h2h2v-2h2v1h2v1h2h2h2v-1h2v1h2v-1h2v1h2v-1h2v1h2h2v-1h2v1h2v-1h2v1h2h2h2v-1h2h2h2v1h2v-2h2v2h2v-1h2h2v1h2h2h2h2h2h2v-1h2v1h2v-1h2v1h2v-1h2v1h2v-1h2h2h2v1h2v-1h2h2v-1h2v2h2v-1h2v1h2h2v-1h2h2v1h2h2h2h2h2h2h2v-1h2v1h2h2v-1h2v1h2v-2h2v1h2v1h2v-1h2v1h2v-1h2v-1h2v2h2h2v-1h2h2h2h2v1h2h2h2h2v-1h2h2h2v1h2v-1h2h2v1h2h2v-1h2v1h2h2v-1h2v1h2h2h2h2h2v-1h2h2h2h2h2h2v1h2h2h2v-1h2h2v1h2v-1h2v1h2v-1h2v-1h2v2h2h2h2v-1h2h2h2v-1h2v1h2h2h2v1h2h2v-1h2V412h-2h-2h-2h-2h-2h-2h-2h-2h-2h-2h-2h-2h-2h-2h-2h-2h-2h-2h-2h-2h-2h-2h-2h-2h-2h-2h-2h-2h-2h-2h-2h-2h-2h-2h-2h-2h-2h-2h-2h-2h-2h-2h-2h-2h-2h-2h-2h-2h-2h-2h-2h-2h-2h-2h-2h-2h-2h-2h-2h-2h-2h-2h-2h-2h-2h-2h-2h-2h-2h-2h-2h-2h-2h-2h-2h-2h-2h-2v1h-2v-1h-2h-2h-2h-2h-2h-2h-2h-2h-2h-2h-2h-2h-2h-2h-2v1h-2v-1h-2h-2h-2h-2h-2h-2h-2h-2h-2h-2h-2h-2h-2h-2h-2h-2h-2h-2h-2h-2h-2h-2h-2h-2h-2h-2h-2h-2h-2h-2h-2h-2h-2h-2h-2h-2z" fill="#00c800"/><path d="M1068 409h2v2h-2zM1120 406h2v2h-2zM921 407h2v1h-2zM1047 409h2v1h-2zM1043 409h2v1h-2zM909 406h2v2h-2zM1041 408h2v2h-2zM926 409h2v2h-2zM1107 409h2v1h-2zM980 408h2v1h-2zM977 406h5v1h-5zM1082 406h2v2h-2zM954 407h2v2h-2zM1025 406h2v1h-2zM920 409h2v2h-2zM1144 406h5v1h-5zM1127 406h2v2h-2zM949 408h2v1h-2zM940 408h2v1h-2zM1134 407h3v1h-3zM982 406h2v1h-2zM1103 407h2v1h-2zM1039 409h2v1h-2zM1009 408h3v1h-3z" fill="#fff"/><path d="M1163 408h2h2h2h2h2h2v1h2v-1h2h2v1h2v-1h1V412h-1h-2h-2h-2h-2h-2h-2h-2h-2h-2h-2z" fill="#00c800"/><path d="M1183 389h1v-5h1v-6h1v2h1v-4h1v1h1v-6h1v5h1v-4h1v2h1v-2h1h1v3h1v-1h1v4h1v1h1v4h1v2h1v5h1v10h1V412h-1h-1h-1h-1h-1h-1h-1h-1h-1h-1h-1h-1h-1h-1h-1h-1h-1h-1h-1h-1z" fill="#00c800"/><path d="M1185 403h2h2h2v-1h2v1h2h2v-1h1V410h-1h-2h-2h-2h-2h-2h-2z" fill="#fff"/><path d="M1195 399h3v1h-3zM1185 389h2v2h-2zM1191 386h2v2h-2zM1185 390h2v2h-2zM1187 389h5v1h-5zM1191 387h5v2h-5zM1191 392h2v2h-2zM1197 384h2v1h-2zM1185 398h3v1h-3zM1197 386h2v1h-2zM1190 393h3v2h-3zM1192 399h2v1h-2zM1189 393h2v2h-2zM1185 399h3v2h-3z" fill="#fff"/><path d="M1196 368h3v3h-3z" fill="#00c800"/><path d="M1201 402h2h2h2v-1h2h2v1h2v-1h2v1h2h2v-1h2h2h2v1h2v-1h2v1h2h2h2h2h2v-1h2h2v1h2h2h2h2v-1h2h2h2v1h2h2v-1h2h2v1h2h2h2h2v-2h2v2h2h2h2h2h2v-1h2v1h2v-1h2v1h2v-1h2v1h2h2h2h2h2h2v1h2v-1h2h2v-1h2v1h2v-1h2h2v-1h2v3h2v-1h2h2h2h2h2v1h2v-4h2v4h2v-1h2v1h2h2h2h2v-1h2h2h2v1h2h2h2v-1h2v1h2h2v-2h2v1h2h2v1h2h2v-1h2v1h2h2v-1h2v1h2v-1h2v1h2v-1h2v1h2h2h2v-1h2v1h2h2h2h2h1V412h-1h-2h-2h-2h-2h-2h-2h-2h-2h-2h-2h-2h-2h-2h-2h-2h-2h-2h-2h-2h-2h-2h-2h-2h-2h-2h-2h-2h-2h-2h-2h-2h-2h-2h-2h-2h-2h-2h-2h-2h-2h-2h-2h-2h-2h-2h-2h-2h-2h-2h-2h-2h-2h-2h-2h-2h-2h-2h-2h-2h-2h-2h-2h-2h-2h-2h-2h-2h-2h-2h-2h-2h-2h-2h-2h-2h-2h-2h-2h-2h-2h-2h-2h-2h-2h-2h-2h-2h-2h-2h-2h-2h-2h-2h-2h-2h-2h-2h-2h-2h-2h-2h-2h-2h-2h-2z" fill="#00c800"/><path d="M1410 409h2h2v-1h2h2h2h2h2h2h2h2h2v-1h2v-1h2h2h2v-1h2V412h-2h-2h-2h-2h-2h-2h-2h-2h-2h-2h-2h-2h-2h-2h-2h-2z" fill="#00c800"/><path d="M1440 403h2v-2h2v1h2h2v-2h2v-3h2v3h2v2h2h2h2v-1h2v1h2h2v-1h2v1h2h2h2V412h-2h-2h-2h-2h-2h-2h-2h-2h-2h-2h-2h-2h-2h-2h-2h-2h-2z" fill="#00c800"/></g>
<g><rect x="1512.5" y="378.5" width="87" height="27" fill="#fff" stroke="#000" stroke-width="1"/><path d="M1600.4 380.5V406.4H1514.5" stroke="#000" stroke-width="1" fill="none" shape-rendering="auto"/><circle cx="1520.5" cy="391.5" r="2.6" fill="#00c800" shape-rendering="auto"/><text transform="translate(1544.8 395.6) scale(1.0 1.07)" font-family='"Liberation Mono", monospace' font-size="13" fill="#000">QI4E_d</text></g>
<g clip-path="url(#c904_8)"><path d="M904.9 413.9L960 413.6L1005 412.6L1157 412.6L1168 414.5L1182 419.6L1190 418L1199 416.4L1224 415.7L1380 415.7L1386 416.4L1411.5 416.4L1420 421L1426 425.5L1432.6 429L1442 429.2L1450 427L1460 424L1472.6 421" stroke="#ff0000" stroke-width="1" fill="none"/><path d="M904.9 447.6L958 447.6L962 448.8L1068 448.8L1072 450L1126 450.2L1130 451.5L1182 452.4L1270 453L1274 454L1400 454.4L1404 455L1472.6 455" stroke="#000000" stroke-width="1" fill="none"/><path d="M905 450.7L907 450.7L909 450.7L911 450.8L913 451.8L915 451.8L917 450.8L919 450.4L921 450.9L923 450.9L925 450.4L927 450.4L929 452L931 451L933 451L935 451L937 451.5L939 451.1L941 451.6L943 450.6L945 451.1L947 451.2L949 452.2L951 451.7L953 452.2L955 452.2L957 452.3L959 451.3L961 451.3L963 451.8L965 451.3L967 450.9L969 451.9L971 451.4L973 451.9L975 452.5L977 451.5L979 451.5L981 451L983 451L985 451.6L987 452.6L989 451.6L991 451.6L993 452.1L995 451.7L997 451.7L999 451.2L1001 451.2L1003 451.8L1005 451.3L1007 451.8L1009 451.8L1011 451.8L1013 451.4L1015 452.9L1017 451.4L1019 451.4L1021 451.9L1023 452.5L1025 452L1027 452.5L1029 453L1031 452.1L1033 452.1L1035 452.1L1037 452.1L1039 453.1L1041 453.2L1043 452.2L1045 452.2L1047 451.7L1049 452.7L1051 452.3L1053 452.3L1055 452.3L1057 452.3L1059 452.9L1061 452.4L1063 451.9L1065 452.4L1067 453.4L1069 453.5L1071 453.5L1073 452.5L1075 452.5L1077 452.1L1079 453.6L1081 452.6L1083 452.6L1085 452.6L1087 452.7L1089 452.7L1091 452.7L1093 453.2L1095 452.7L1097 452.8L1099 453.8L1101 452.8L1103 452.3L1105 452.9L1107 453.4L1109 452.4L1111 453.9L1113 452.9L1115 453L1117 452.5L1119 453.5L1121 453.5L1123 453L1125 453.1L1127 453.1L1129 453.1L1131 454.1L1133 454.2L1135 453.7L1137 453.2L1139 454.2L1141 453.2L1143 453.3L1145 454.3L1147 453.3L1149 454.3L1151 452.8L1153 453.9L1155 454.4L1157 453.9L1159 453.9L1161 453L1163 453.5L1165 453.5L1167 453L1169 453.5L1171 453.1L1173 453.6L1175 453.6L1177 454.6L1179 454.1L1181 454.2L1183 453.2L1185 454.7L1187 453.2L1189 453.8L1191 453.8L1193 454.8L1195 453.3L1197 454.3L1199 453.9L1201 454.9L1203 453.9L1205 454.4L1207 453.4L1209 454L1211 455L1213 453.5L1215 455L1217 454.6L1219 454.6L1221 454.1L1223 454.6L1225 453.6L1227 454.2L1229 455.2L1231 455.2L1233 454.2L1235 454.8L1237 454.3L1239 454.3L1241 454.3L1243 455.3L1245 454.4L1247 454.4L1249 454.4L1251 454.4L1253 455.4L1255 454.5L1257 454.5L1259 455L1261 454.5L1263 455.1L1265 454.1L1267 455.6L1269 454.6L1271 455.1L1273 454.7L1275 454.7L1277 454.7L1279 454.7L1281 455.7L1283 454.8L1285 454.3L1287 454.8L1289 455.3L1291 454.9L1293 454.9L1295 454.9L1297 455.4L1299 455.4L1301 455.5L1303 455.5L1305 455.5L1307 456L1309 456L1311 455.1L1313 455.1L1315 455.6L1317 455.1L1319 455.7L1321 456.2L1323 455.7L1325 455.2L1327 454.7L1329 455.3L1331 454.8L1333 456.3L1335 454.8L1337 456.3L1339 455.4L1341 454.9L1343 455.4L1345 455.9L1347 455.5L1349 456L1351 455.5L1353 456.5L1355 455.5L1357 455.6L1359 455.6L1361 456.1L1363 456.1L1365 455.6L1367 455.7L1369 456.7L1371 455.7L1373 455.7L1375 455.8L1377 455.8L1379 456.3L1381 455.8L1383 456.8L1385 455.4L1387 456.9L1389 455.9L1391 455.9L1393 456L1395 456L1397 457L1399 455.5L1401 455.5L1403 457.1L1405 455.6L1407 455.6L1409 456.1L1411 456.1L1413 456.2L1415 456.2L1417 457.2L1419 456.2L1421 456.8L1423 456.3L1425 456.3L1427 456.8L1429 456.3L1431 457.4L1433 456.4L1435 456.4L1437 457.4L1439 456.4L1441 456.5L1443 456.5L1445 456.5L1447 456.5L1449 456.1L1451 457.6L1453 456.6L1455 456.6L1457 456.6L1459 456.7L1461 457.2L1463 457.2L1465 456.7L1467 456.2L1469 456.8L1471 457.3" stroke="#0000ff" stroke-width="1" fill="none"/></g>
<g><rect x="1453.5" y="427.5" width="146" height="63" fill="none" stroke="#000" stroke-width="1"/><path d="M1600.4 429.5V491.4H1455.5" stroke="#000" stroke-width="1" fill="none" shape-rendering="auto"/><path d="M1460 440.5H1500" stroke="#ff0000" stroke-width="1"/><text transform="translate(1504.8 444.4) scale(1.0 1.07)" font-family='"Liberation Mono", monospace' font-size="13" fill="#000">SE1 middle</text><path d="M1460 458.5H1500" stroke="#0000ff" stroke-width="1"/><text transform="translate(1504.8 462.5) scale(1.0 1.07)" font-family='"Liberation Mono", monospace' font-size="13" fill="#000">D8 room</text><path d="M1460 476.5H1500" stroke="#000000" stroke-width="1"/><text transform="translate(1504.8 480.4) scale(1.0 1.07)" font-family='"Liberation Mono", monospace' font-size="13" fill="#000">SE1 P.cable</text></g>
<g clip-path="url(#c904_9)"><path d="M904 483h2v-5h2v5h2h2v1h2h2h2v-1h2h2h2v-2h2v-1h2v2h2v-3h2v3h2v-1h2h2h2v-3h2v4h2h2v-1h2v1h2v2h2v-3h2v1h2h2v2h2v-1h2v-2h2v1h2h2v-1h2v-2h2v3h2v-1h2v-1h2h2h2h2v-1h2v1h2h2v-4h2v4h2h2h2v-3h2v4h2h2v1h2v-2h2h2v1h2v-3h2v5h2v-1h2v-1h2h2v1h2v-1h2v-1h2h2v-2h2v3h2h2h2v-1h2v2h2v-1h2h2v1h2v1h2h2h2h2v2h2v-5h2v5h2v-1h2h2v-2h2v2h2v-1h2v-1h2h2v-3h2v3h2v-1h2v-1h2h2v1h2h2h2v-4h2v4h2h2h2v-1h2h2v3h2v-5h2v5h2v-1h2v1h2v-2h2v-2h2v-3h2v5h2v-4h2h2v2h2h2v-1h2v2h2v-2h2h2v-1h2v2h2v1h2v1h2v-1h2h2h2v2h2v1h2v1h2v-1h2v-1h2v1h2v-5h2V501h-2h-2v3h-2v-3h-2h-2h-2h-2h-2h-2h-2h-2h-2h-2h-2v1h-2v-1h-2v3h-2v-2h-2v1h-2v2h-2v-3h-2v-1h-2v1h-2v-1h-2v2h-2v-2h-2h-2h-2h-2h-2h-2v4h-2v-3h-2h-2v-1h-2v1h-2v-1h-2h-2v1h-2h-2v-1h-2h-2h-2v-1h-2v1h-2h-2v-1h-2v1h-2v1h-2v-1h-2h-2v2h-2v-2h-2h-2h-2v3h-2v-3h-2v1h-2v-1h-2h-2v3h-2v-4h-2v2h-2v-2h-2v1h-2v-1h-2v1h-2v1h-2v-1h-2h-2h-2h-2h-2v4h-2v-4h-2h-2h-2h-2h-2v3h-2v-3h-2v2h-2v-3h-2v1h-2v1h-2v-2h-2v1h-2h-2v3h-2v-3h-2v3h-2v-2h-2v-1h-2h-2v1h-2v-1h-2h-2h-2h-2h-2v1h-2v-1h-2h-2h-2v1h-2h-2v-1h-2h-2h-2v1h-2v-1h-2h-2v1h-2v-2h-2v2h-2v-1h-2h-2h-2h-2v-1h-2v1h-2v-1h-2h-2h-2v1h-2h-2v1h-2v-1h-2h-2v3h-2v-3h-2z" fill="#ff0000"/><path d="M1075 476h3v3h-3zM1137 482h3v3h-3zM981 472h3v3h-3zM949 481h3v3h-3zM943 476h3v3h-3zM913 479h3v3h-3zM955 478h3v3h-3zM954 481h3v3h-3zM1088 472h3v3h-3zM1080 478h3v3h-3zM1074 480h3v3h-3zM940 471h3v3h-3zM1125 482h3v3h-3zM1087 476h3v3h-3zM1043 472h3v3h-3zM1017 475h3v3h-3zM1122 473h3v3h-3zM1154 477h3v3h-3zM1044 482h3v3h-3zM1107 479h3v3h-3zM1017 476h3v3h-3zM1128 475h3v3h-3zM1019 472h3v3h-3zM1042 475h3v3h-3zM933 472h3v3h-3zM1016 473h3v3h-3zM1047 475h3v3h-3zM1108 476h3v3h-3zM1128 478h3v3h-3zM1027 476h3v3h-3zM1128 481h3v3h-3zM999 479h3v3h-3zM1089 481h3v3h-3zM941 479h3v3h-3zM1158 477h3v3h-3zM995 479h3v3h-3zM1145 475h3v3h-3zM1034 474h3v3h-3zM1022 478h3v3h-3zM995 471h3v3h-3zM1136 472h3v3h-3zM1141 475h3v3h-3zM964 474h3v3h-3zM925 480h3v3h-3zM1146 480h3v3h-3zM1065 481h3v3h-3zM915 482h3v3h-3zM1141 482h3v3h-3zM961 477h3v3h-3zM939 473h3v3h-3zM1089 474h3v3h-3zM1071 477h3v3h-3zM1031 477h3v3h-3zM1082 471h3v3h-3zM1045 481h3v3h-3zM1074 479h3v3h-3zM1033 477h3v3h-3zM1048 476h3v3h-3zM1140 481h3v3h-3zM1153 477h3v3h-3zM1019 475h3v3h-3zM999 475h3v3h-3zM1120 471h3v3h-3zM1099 471h3v3h-3zM1028 472h3v3h-3zM915 473h3v3h-3zM1010 481h3v3h-3zM1080 478h3v3h-3zM1056 479h3v3h-3zM1011 479h3v3h-3zM949 479h3v3h-3zM1020 479h3v3h-3zM932 471h3v3h-3zM949 478h3v3h-3zM1069 480h3v3h-3zM938 478h3v3h-3zM935 475h3v3h-3zM1102 472h3v3h-3zM1140 472h3v3h-3zM964 477h3v3h-3z" fill="#ff0000"/><path d="M1150 504h3v3h-3zM1134 508h3v3h-3zM945 502h3v3h-3zM1035 508h3v3h-3zM1006 507h3v3h-3zM987 502h3v3h-3zM911 502h3v3h-3zM1064 504h3v3h-3zM1107 506h3v3h-3zM963 502h3v3h-3zM938 502h3v3h-3zM1094 506h3v3h-3zM1144 504h3v3h-3zM1011 507h3v3h-3zM989 503h3v3h-3zM1146 506h3v3h-3zM907 506h3v3h-3zM1142 503h3v3h-3zM1025 504h3v3h-3zM1102 502h3v3h-3zM1090 506h3v3h-3zM1001 506h3v3h-3zM1131 502h3v3h-3zM989 504h3v3h-3zM1010 507h3v3h-3zM974 507h3v3h-3zM993 502h3v3h-3zM915 508h3v3h-3zM1085 503h3v3h-3zM1035 508h3v3h-3zM1008 505h3v3h-3zM1043 505h3v3h-3zM964 503h3v3h-3zM1025 505h3v3h-3z" fill="#ff0000"/><path d="M1163 487h2h2h2h2h2h1V489h-1v1h-2h-2v-1h-2v1h-2v-1h-2z" fill="#ff0000"/><path d="M1163 491h2h2h2h2h2h1V493h-1h-2h-2h-2h-2h-2z" fill="#ff0000"/><path d="M1171 481h2v-3h2v2h2v1h2v-3h2v2h2v-4h2v4h2v-3h2v1h2v3h2v-4h2v5h2v-4h2v3h2v1h2h2h2v1h2v-1h2h2v-2h2v2h2h2v-1h2v-3h2v2h2v-1h2v-1h2v-4h2v3h2v1h2h2v-1h2h2v-2h2v3h2v1h2h2h2v-3h2v5h2v-4h2v4h2v-2h2v1h2v1h2v-1h2h2v-4h2v3h2v-1h2h2h2v1h2v-3h2h2v-2h2v3h2v2h2v-4h2v3h2v1h2h2v2h2v-2h2v2h2v1h2v-1h2v2h2h2h2v-2h2v2h2v-1h2h2v-2h2v-2h2v3h2v-1h2v-1h2h2v-3h2v3h2v1h2h2v-1h2v2h2h2v-3h2v3h2v-2h2v3h2v-2h2v2h2h2v-5h2v4h2v-1h2v1h2h2v-1h2v-3h2h2v1h2h2h2v-1h2v-1h2v1h2v1h2v-4h2v5h2v-3h2v2h2v2h2h2v-1h2v1h2h2v2h1V503h-1v-2h-2v-1h-2v2h-2v-1h-2h-2v-1h-2h-2v1h-2v1h-2h-2v-1h-2h-2v3h-2v-3h-2h-2h-2v1h-2v-2h-2v1h-2h-2v1h-2v-1h-2v3h-2v-1h-2v-2h-2h-2h-2h-2h-2h-2h-2v1h-2v-1h-2v3h-2h-2v-3h-2h-2v-1h-2v4h-2v-4h-2v1h-2h-2v-1h-2v5h-2v-5h-2v1h-2h-2h-2h-2v-1h-2h-2v1h-2h-2v-1h-2v1h-2h-2h-2h-2v-1h-2h-2v1h-2v-1h-2v1h-2h-2h-2v-1h-2v1h-2v1h-2v-1h-2h-2h-2v3h-2v-3h-2v-1h-2v1h-2v-1h-2h-2h-2v2h-2v-1h-2v1h-2v-1h-2h-2v-1h-2v1h-2h-2h-2v1h-2v-1h-2h-2h-2h-2h-2h-2h-2h-2v3h-2v-1h-2v-2h-2h-2h-2h-2v-1h-2h-2v1h-2v-1h-2h-2v1h-2v1h-2v-1h-2v-1h-2v1h-2h-2h-2v-1h-2v1h-2h-2v2h-2v-2h-2v-1h-2z" fill="#ff0000"/><path d="M1203 472h3v3h-3zM1209 473h3v3h-3zM1209 477h3v3h-3zM1235 477h3v3h-3zM1229 469h3v3h-3zM1223 477h3v3h-3zM1352 472h3v3h-3zM1354 478h3v3h-3zM1256 470h3v3h-3zM1209 469h3v3h-3zM1355 478h3v3h-3zM1256 471h3v3h-3zM1373 472h3v3h-3zM1190 477h3v3h-3zM1383 474h3v3h-3zM1192 473h3v3h-3zM1176 479h3v3h-3zM1317 470h3v3h-3zM1405 480h3v3h-3zM1332 480h3v3h-3zM1333 472h3v3h-3zM1227 472h3v3h-3zM1234 478h3v3h-3zM1205 477h3v3h-3zM1189 475h3v3h-3zM1184 474h3v3h-3zM1391 469h3v3h-3zM1282 470h3v3h-3zM1262 474h3v3h-3zM1389 480h3v3h-3zM1407 478h3v3h-3zM1186 474h3v3h-3zM1371 474h3v3h-3zM1335 470h3v3h-3zM1310 468h3v3h-3zM1306 472h3v3h-3zM1270 476h3v3h-3zM1364 480h3v3h-3zM1192 471h3v3h-3zM1257 475h3v3h-3zM1273 474h3v3h-3zM1247 470h3v3h-3zM1250 470h3v3h-3zM1226 477h3v3h-3zM1199 478h3v3h-3zM1305 471h3v3h-3zM1389 481h3v3h-3zM1386 469h3v3h-3zM1400 478h3v3h-3zM1379 479h3v3h-3zM1324 473h3v3h-3zM1307 473h3v3h-3zM1282 477h3v3h-3zM1263 478h3v3h-3zM1215 475h3v3h-3zM1263 480h3v3h-3zM1313 480h3v3h-3zM1292 478h3v3h-3zM1299 478h3v3h-3zM1334 477h3v3h-3zM1391 470h3v3h-3zM1379 474h3v3h-3zM1311 473h3v3h-3zM1391 479h3v3h-3zM1262 473h3v3h-3zM1335 481h3v3h-3zM1316 469h3v3h-3zM1311 475h3v3h-3zM1358 478h3v3h-3zM1216 474h3v3h-3zM1339 474h3v3h-3zM1222 476h3v3h-3zM1250 470h3v3h-3zM1215 479h3v3h-3zM1384 476h3v3h-3zM1288 475h3v3h-3zM1399 474h3v3h-3zM1386 468h3v3h-3zM1350 473h3v3h-3zM1228 473h3v3h-3zM1254 476h3v3h-3zM1316 479h3v3h-3zM1255 475h3v3h-3zM1182 474h3v3h-3zM1214 478h3v3h-3zM1184 469h3v3h-3zM1298 469h3v3h-3zM1260 470h3v3h-3zM1361 469h3v3h-3zM1380 477h3v3h-3zM1368 470h3v3h-3zM1246 476h3v3h-3zM1232 477h3v3h-3zM1368 474h3v3h-3zM1394 470h3v3h-3zM1220 477h3v3h-3zM1317 473h3v3h-3zM1329 470h3v3h-3zM1394 472h3v3h-3zM1354 472h3v3h-3zM1359 473h3v3h-3zM1332 480h3v3h-3zM1355 475h3v3h-3zM1396 469h3v3h-3zM1286 470h3v3h-3zM1278 474h3v3h-3zM1305 479h3v3h-3zM1342 470h3v3h-3zM1358 474h3v3h-3zM1348 478h3v3h-3zM1272 481h3v3h-3zM1346 479h3v3h-3zM1322 471h3v3h-3zM1266 480h3v3h-3zM1190 468h3v3h-3zM1276 473h3v3h-3zM1383 471h3v3h-3zM1277 480h3v3h-3zM1364 470h3v3h-3zM1390 472h3v3h-3zM1276 469h3v3h-3zM1214 474h3v3h-3zM1189 479h3v3h-3zM1337 480h3v3h-3zM1360 478h3v3h-3zM1326 480h3v3h-3zM1220 476h3v3h-3zM1344 478h3v3h-3zM1325 480h3v3h-3zM1395 479h3v3h-3zM1257 480h3v3h-3zM1177 471h3v3h-3zM1316 479h3v3h-3zM1236 481h3v3h-3zM1348 473h3v3h-3zM1346 474h3v3h-3zM1350 480h3v3h-3zM1390 480h3v3h-3zM1354 473h3v3h-3zM1359 477h3v3h-3zM1259 478h3v3h-3zM1245 469h3v3h-3zM1275 476h3v3h-3zM1187 478h3v3h-3zM1328 472h3v3h-3zM1294 474h3v3h-3zM1338 475h3v3h-3zM1322 478h3v3h-3zM1296 478h3v3h-3zM1280 480h3v3h-3z" fill="#ff0000"/><path d="M1209 505h3v3h-3zM1309 503h3v3h-3zM1326 502h3v3h-3zM1341 504h3v3h-3zM1236 503h3v3h-3zM1200 507h3v3h-3zM1222 505h3v3h-3zM1242 503h3v3h-3zM1331 504h3v3h-3zM1284 504h3v3h-3zM1408 508h3v3h-3zM1293 505h3v3h-3zM1405 507h3v3h-3zM1254 503h3v3h-3zM1191 508h3v3h-3zM1273 503h3v3h-3zM1335 503h3v3h-3zM1196 502h3v3h-3zM1345 505h3v3h-3zM1226 502h3v3h-3zM1290 506h3v3h-3zM1234 504h3v3h-3zM1367 506h3v3h-3zM1372 506h3v3h-3zM1334 507h3v3h-3zM1336 508h3v3h-3zM1323 506h3v3h-3zM1327 501h3v3h-3zM1339 502h3v3h-3zM1349 502h3v3h-3zM1186 503h3v3h-3zM1227 506h3v3h-3zM1226 503h3v3h-3zM1345 507h3v3h-3zM1296 502h3v3h-3zM1327 503h3v3h-3zM1239 502h3v3h-3zM1260 504h3v3h-3zM1352 502h3v3h-3zM1404 505h3v3h-3z" fill="#ff0000"/><path d="M1410 501h2h2h2h2h2h2V504h-2h-2h-2h-2h-2h-2z" fill="#ff0000"/><path d="M1415 479h2v-1h2v2h2v-7h2v6h2v-6h2v2h2v-1h2v2h2v-2h2v4h2v-3h2v4h2v-4h2v1h2v2h2v-4h2v1h2v4h2v-2h2v3h2v-2h2h2h2v-3h2v6h2v-1h2v2h2v-2h2h1V499h-1h-2h-2h-2h-2v-1h-2v6h-2v-6h-2v1h-2v1h-2h-2h-2v-2h-2h-2h-2v5h-2v-4h-2h-2h-2v5h-2v-5h-2h-2h-2h-2h-2v-1h-2v1h-2h-2v3h-2v-2h-2z" fill="#ff0000"/><path d="M1450 479h3v3h-3zM1416 479h3v3h-3zM1452 469h3v3h-3zM1433 470h3v3h-3zM1421 478h3v3h-3zM1448 470h3v3h-3zM1470 471h3v3h-3zM1421 472h3v3h-3zM1472 473h3v3h-3zM1458 471h3v3h-3zM1464 477h3v3h-3zM1418 476h3v3h-3zM1420 474h3v3h-3zM1420 480h3v3h-3zM1456 474h3v3h-3zM1435 481h3v3h-3zM1421 477h3v3h-3zM1424 481h3v3h-3zM1461 468h3v3h-3zM1434 478h3v3h-3zM1470 476h3v3h-3zM1467 470h3v3h-3zM1420 478h3v3h-3zM1433 468h3v3h-3zM1462 475h3v3h-3zM1465 468h3v3h-3zM1422 469h3v3h-3zM1417 468h3v3h-3zM1422 469h3v3h-3zM1455 479h3v3h-3zM1420 474h3v3h-3zM1434 472h3v3h-3zM1424 480h3v3h-3zM1456 480h3v3h-3zM1417 479h3v3h-3zM1442 470h3v3h-3zM1467 474h3v3h-3zM1447 471h3v3h-3zM1452 468h3v3h-3zM1463 469h3v3h-3zM1423 472h3v3h-3zM1446 473h3v3h-3zM1453 476h3v3h-3zM1435 472h3v3h-3zM1430 478h3v3h-3zM1453 473h3v3h-3zM1455 480h3v3h-3zM1447 480h3v3h-3zM1443 476h3v3h-3zM1441 480h3v3h-3zM1445 475h3v3h-3zM1470 473h3v3h-3zM1463 477h3v3h-3zM1467 469h3v3h-3zM1457 471h3v3h-3zM1422 476h3v3h-3zM1445 469h3v3h-3zM1426 468h3v3h-3zM1464 471h3v3h-3zM1451 481h3v3h-3zM1463 470h3v3h-3zM1457 480h3v3h-3zM1419 469h3v3h-3zM1436 479h3v3h-3zM1466 472h3v3h-3zM1447 479h3v3h-3zM1456 474h3v3h-3zM1453 472h3v3h-3zM1440 472h3v3h-3zM1418 476h3v3h-3zM1431 479h3v3h-3zM1470 478h3v3h-3zM1464 470h3v3h-3zM1459 469h3v3h-3zM1471 480h3v3h-3zM1449 475h3v3h-3zM1451 472h3v3h-3zM1458 473h3v3h-3zM1420 473h3v3h-3zM1463 470h3v3h-3zM1451 477h3v3h-3zM1430 470h3v3h-3zM1430 475h3v3h-3zM1472 470h3v3h-3zM1464 475h3v3h-3zM1472 479h3v3h-3zM1422 480h3v3h-3zM1452 476h3v3h-3zM1454 479h3v3h-3zM1424 468h3v3h-3z" fill="#ff0000"/><path d="M904 478h2v2h2h2v1h2v-3h2v4h2v-1h2v1h2v-1h2v-3h2h2v4h2v-2h2v-1h2v-2h2v3h2v-1h2v1h2v-3h2v1h2v-2h2v1h2v2h2v-4h2v2h2v2h2v2h2v-3h2v3h2h2v-1h2v-4h2v3h2v2h2h2v-1h2h2v-1h2h2v-4h2v4h2v-1h2v-3h2v2h2h2h2v-2h2h2v3h2h2v1h2v-3h2v4h2h2v-1h2v-2h2v2h2v2h2h2v-2h2h2v1h2v-4h2v-1h2v1h2v3h2h2h2v-6h2v5h2h2v-3h2v4h2v-1h2v2h2v-3h2v3h2v2h2v-3h2h2v1h2h2h2v1h2v1h2v-1h2h2v-4h2v3h2v-2h2v2h2v-3h2v2h2v-1h2v1h2v-3h2h2v2h2v1h2h2h2v1h2v-1h2h2v1h2v-2h2v2h2v-1h2h2v2h2v-2h2v1h2v-4h2h2v1h2v1h2v-2h2v1h2h2v-2h2v-1h2v2h2v2h2v-2h2v2h2v-1h2h2v2h2v-2h2v4h2h2V503h-2v-1h-2v1h-2h-2v-1h-2v3h-2v-3h-2v1h-2v-1h-2v2h-2h-2v1h-2v-2h-2v-1h-2h-2v1h-2h-2v-1h-2v2h-2v-1h-2v1h-2v-3h-2v1h-2v-1h-2v-1h-2v1h-2h-2v1h-2v-2h-2v1h-2h-2h-2v1h-2v-1h-2v1h-2v2h-2v-1h-2v3h-2v-2h-2v-1h-2h-2h-2v-1h-2v3h-2v-3h-2v2h-2v-3h-2v1h-2v-1h-2v1h-2v-1h-2h-2h-2v2h-2v-1h-2h-2h-2v1h-2h-2v4h-2v-4h-2h-2h-2v5h-2v-5h-2v1h-2v3h-2v-4h-2h-2v2h-2v-3h-2h-2v6h-2v-2h-2v-3h-2v-1h-2v1h-2v-2h-2v1h-2v-1h-2v4h-2v-2h-2v-1h-2h-2v4h-2v-3h-2v2h-2v-3h-2v1h-2v-1h-2h-2v1h-2h-2h-2v-1h-2v-1h-2h-2v2h-2v-3h-2v2h-2h-2v-2h-2v2h-2v-1h-2v-1h-2v4h-2v-2h-2v3h-2v-3h-2v2h-2v-1h-2v3h-2v-3h-2v1h-2v-1h-2v2h-2v-2h-2h-2v1h-2h-2h-2v2h-2v-4h-2v1h-2v1h-2v-1h-2v1h-2h-2v-2h-2v3h-2h-2z" fill="#0000ff"/><path d="M1139 475h3v3h-3zM1016 480h3v3h-3zM1107 475h3v3h-3zM1139 476h3v3h-3zM1005 476h3v3h-3zM1013 476h3v3h-3zM1083 476h3v3h-3zM1055 480h3v3h-3zM1145 476h3v3h-3zM998 479h3v3h-3zM1152 472h3v3h-3zM967 471h3v3h-3zM912 470h3v3h-3zM1110 476h3v3h-3zM1123 477h3v3h-3zM1058 478h3v3h-3zM1043 472h3v3h-3zM985 477h3v3h-3zM990 479h3v3h-3zM1089 477h3v3h-3zM1117 478h3v3h-3zM980 479h3v3h-3zM955 480h3v3h-3zM1122 478h3v3h-3zM1020 479h3v3h-3zM1135 480h3v3h-3zM1106 471h3v3h-3zM977 470h3v3h-3zM1019 474h3v3h-3zM1108 479h3v3h-3zM1052 474h3v3h-3zM931 475h3v3h-3zM1131 478h3v3h-3zM963 473h3v3h-3zM957 473h3v3h-3zM1130 480h3v3h-3zM986 479h3v3h-3zM1034 477h3v3h-3zM1020 478h3v3h-3zM930 479h3v3h-3zM1138 474h3v3h-3zM1032 473h3v3h-3zM1099 480h3v3h-3zM1036 478h3v3h-3zM1118 472h3v3h-3zM1081 479h3v3h-3zM981 476h3v3h-3zM1011 473h3v3h-3zM1095 476h3v3h-3zM994 470h3v3h-3z" fill="#0000ff"/><path d="M963 507h3v3h-3zM923 506h3v3h-3zM917 506h3v3h-3zM939 504h3v3h-3zM927 507h3v3h-3zM950 503h3v3h-3zM1159 506h3v3h-3zM1093 505h3v3h-3zM973 507h3v3h-3zM1162 506h3v3h-3zM938 505h3v3h-3zM986 504h3v3h-3zM1029 503h3v3h-3zM1094 508h3v3h-3zM1104 507h3v3h-3zM945 506h3v3h-3zM1014 505h3v3h-3zM1077 507h3v3h-3zM1032 505h3v3h-3zM1068 505h3v3h-3zM973 506h3v3h-3zM1082 506h3v3h-3zM986 507h3v3h-3zM1108 504h3v3h-3zM1059 503h3v3h-3zM912 507h3v3h-3z" fill="#0000ff"/><path d="M918 466h3v3h-3zM941 469h3v3h-3zM1085 469h3v3h-3z" fill="#0000ff"/><path d="M1171 479h2h2v-1h2v-1h2h2v2h2v-2h2v2h2h2h2v-3h2v1h2v1h2v1h2h2v1h2v-1h2v-3h2v4h2h2v1h2v1h2v-4h2h2v3h2v-1h2v1h2v-1h2h2v-2h2v2h2v-1h2v-2h2v1h2v-4h2v2h2v1h2v-1h2h2h2v1h2v-1h2v2h2h2v-1h2h2v2h2v-3h2v2h2v2h2v-8h2v7h2v-2h2v2h2v-1h2v1h2v-1h2v-1h2v-3h2v1h2h2v1h2v1h2h2v-1h2v2h2v-2h2v1h2v-1h2v4h2v-2h2v-1h2v3h2v1h2v1h2v-1h2v-3h2v1h2v2h2v-1h2v1h2v-3h2v2h2v-3h2h2v2h2v-4h2v4h2h2v-2h2v2h2h2h2v-5h2v6h2v-4h2v2h2v-1h2v3h2v-1h2h2v1h2h2v-2h2h2v-1h2v1h2v-1h2v1h2v-3h2v1h2v1h2v-6h2v5h2h2h2v1h2v-1h2v1h2v-1h2v2h1V504h-1v-3h-2v3h-2v-2h-2v3h-2h-2v-3h-2v2h-2h-2h-2v2h-2v-4h-2h-2h-2h-2v3h-2v-4h-2v1h-2v-1h-2v1h-2h-2v-1h-2h-2v-1h-2v2h-2h-2v3h-2v-3h-2v-1h-2h-2v4h-2v-2h-2v-1h-2h-2v3h-2v-1h-2v-1h-2v1h-2h-2v-2h-2v2h-2v-1h-2h-2h-2v-1h-2v4h-2v-4h-2v1h-2v3h-2v-3h-2v-1h-2h-2v2h-2v-1h-2v-1h-2v1h-2v1h-2h-2v3h-2v-2h-2v-2h-2v1h-2h-2v-1h-2v-1h-2v1h-2v1h-2v-1h-2v2h-2v-3h-2h-2h-2h-2v2h-2v-3h-2h-2v3h-2v-3h-2v3h-2v-3h-2v2h-2h-2v-1h-2v-1h-2v1h-2v1h-2v-1h-2v-1h-2v3h-2v-1h-2v-1h-2h-2v3h-2v-2h-2v-2h-2h-2v-1h-2v1h-2v-1h-2h-2v1h-2v3h-2v-3h-2v3h-2v-2h-2v1h-2v-1h-2v2h-2v-2h-2h-2v1h-2v1h-2v-1h-2v1h-2v3h-2v-4h-2h-2v6h-2v-6h-2v2h-2h-2z" fill="#0000ff"/><path d="M1212 475h3v3h-3zM1227 479h3v3h-3zM1186 477h3v3h-3zM1324 474h3v3h-3zM1373 475h3v3h-3zM1327 475h3v3h-3zM1306 472h3v3h-3zM1360 471h3v3h-3zM1303 473h3v3h-3zM1194 472h3v3h-3zM1330 478h3v3h-3zM1184 477h3v3h-3zM1391 477h3v3h-3zM1265 475h3v3h-3zM1178 475h3v3h-3zM1184 478h3v3h-3zM1301 476h3v3h-3zM1369 473h3v3h-3zM1273 475h3v3h-3zM1333 477h3v3h-3zM1324 476h3v3h-3zM1343 471h3v3h-3zM1316 475h3v3h-3zM1228 474h3v3h-3zM1300 479h3v3h-3zM1368 478h3v3h-3zM1199 472h3v3h-3zM1189 476h3v3h-3zM1265 472h3v3h-3zM1191 474h3v3h-3z" fill="#0000ff"/><path d="M1287 504h3v3h-3zM1321 505h3v3h-3zM1396 504h3v3h-3zM1223 505h3v3h-3zM1203 507h3v3h-3zM1369 505h3v3h-3zM1251 504h3v3h-3zM1384 505h3v3h-3zM1204 502h3v3h-3zM1218 502h3v3h-3zM1343 503h3v3h-3zM1377 506h3v3h-3zM1349 507h3v3h-3zM1227 507h3v3h-3zM1265 504h3v3h-3zM1210 503h3v3h-3zM1278 504h3v3h-3zM1281 507h3v3h-3zM1271 504h3v3h-3zM1402 505h3v3h-3zM1193 506h3v3h-3zM1339 505h3v3h-3zM1346 503h3v3h-3zM1315 502h3v3h-3zM1341 505h3v3h-3zM1368 506h3v3h-3z" fill="#0000ff"/><path d="M1416 485h2v-2h2v-1h2v4h2v-5h2v1h2v4h2v-4h2v1h2v1h2h2h2v-2h2v1h2v-2h2v2h2v1h2v-1h2h2h2v3h2v-1h2v-4h2v3h2h2v3h2v-1h2v-3h2v3h2V507h-2v-3h-2v1h-2h-2h-2h-2h-2h-2h-2v2h-2v-1h-2h-2v3h-2v-1h-2v-2h-2h-2v1h-2v1h-2v-2h-2h-2v1h-2h-2h-2v-2h-2v3h-2v-2h-2h-2v1h-2v-3h-2z" fill="#0000ff"/><path d="M1412 485h2v1h2v-1h2V499h-2v-1h-2h-2z" fill="#fff"/><path d="M1433 479h3v3h-3zM1452 481h3v3h-3zM1429 475h3v3h-3zM1421 484h3v3h-3zM1449 474h3v3h-3zM1459 481h3v3h-3zM1470 483h3v3h-3zM1434 472h3v3h-3zM1423 480h3v3h-3zM1470 472h3v3h-3zM1424 478h3v3h-3zM1454 480h3v3h-3zM1442 481h3v3h-3zM1443 477h3v3h-3zM1419 484h3v3h-3zM1472 481h3v3h-3zM1440 473h3v3h-3zM1426 474h3v3h-3zM1470 478h3v3h-3zM1454 485h3v3h-3zM1433 485h3v3h-3zM1446 483h3v3h-3zM1463 486h3v3h-3zM1435 483h3v3h-3zM1423 476h3v3h-3zM1437 481h3v3h-3zM1468 484h3v3h-3zM1465 486h3v3h-3zM1464 476h3v3h-3zM1427 484h3v3h-3zM1454 477h3v3h-3zM1433 473h3v3h-3zM1426 477h3v3h-3zM1434 484h3v3h-3zM1440 480h3v3h-3zM1460 485h3v3h-3zM1418 483h3v3h-3zM1437 484h3v3h-3zM1445 486h3v3h-3zM1466 474h3v3h-3zM1466 476h3v3h-3zM1452 484h3v3h-3zM1434 486h3v3h-3zM1431 484h3v3h-3zM1426 482h3v3h-3zM1449 481h3v3h-3zM1431 483h3v3h-3zM1448 479h3v3h-3zM1450 478h3v3h-3zM1447 478h3v3h-3zM1458 473h3v3h-3zM1450 484h3v3h-3zM1462 474h3v3h-3zM1446 481h3v3h-3zM1465 481h3v3h-3zM1425 481h3v3h-3zM1436 481h3v3h-3zM1450 482h3v3h-3zM1470 475h3v3h-3zM1438 486h3v3h-3zM1435 482h3v3h-3zM1441 478h3v3h-3zM1458 474h3v3h-3zM1471 480h3v3h-3zM1432 481h3v3h-3zM1437 476h3v3h-3zM1462 484h3v3h-3zM1445 476h3v3h-3zM1440 485h3v3h-3zM1458 476h3v3h-3z" fill="#0000ff"/></g>
<g><rect x="1552.5" y="481.5" width="47" height="26" fill="none" stroke="#000" stroke-width="1"/><path d="M1600.4 483.5V508.4H1554.5" stroke="#000" stroke-width="1" fill="none" shape-rendering="auto"/><circle cx="1560.5" cy="493.5" r="2.6" fill="#0000ff" shape-rendering="auto"/><text transform="translate(0 0) scale(1.0 1.07)" font-family='"Liberation Mono", monospace' font-size="13" fill="#000"></text><g font-family='"Liberation Mono", monospace' font-size="13" fill="#000"><text x="1584.4" y="497.6">X</text><text x="1584.4" y="497.6">Y</text></g></g>
<g clip-path="url(#c904_10)"><path d="M904 556h4h4h4h4h4h4h4h4h4h4h4h4h4h4h4h4h4h4h4h4h4h4h4h4h4h4h4h4h4h4h4h4h4h4h4h4h4h4h4h4h4h4h4h4h4h4h4h4h4h4h4h4h4h4h4h4h4h4h4h4h4h4h4h4h4h4h4h4h4h4h4h4h4h4h4h4h4h4h4h4h4h4h4h4h4h4h4h4h4h4h4h4h4h4h4h4h4h4h4h4h4h4h4h4h4h4h4h4h4h4h4h4h4h4h4h4h4h4h4h4h4h4h4h4h4h4h4h4h4h4h4h4h4h4h4h4h4h4h4h4h4h4h2V560h-2h-4h-4h-4h-4h-4h-4h-4h-4h-4h-4h-4h-4h-4h-4h-4h-4h-4h-4h-4h-4h-4h-4h-4h-4h-4h-4h-4h-4h-4h-4h-4h-4h-4h-4h-4h-4h-4h-4h-4h-4h-4h-4h-4h-4h-4h-4h-4h-4h-4h-4h-4h-4h-4h-4h-4h-4h-4h-4h-4h-4h-4h-4h-4h-4h-4h-4h-4h-4h-4h-4h-4h-4h-4h-4h-4h-4h-4h-4h-4h-4h-4h-4h-4h-4h-4h-4h-4h-4h-4h-4h-4h-4h-4h-4h-4h-4h-4h-4h-4h-4h-4h-4h-4h-4h-4h-4h-4h-4h-4h-4h-4h-4h-4h-4h-4h-4h-4h-4h-4h-4h-4h-4h-4h-4h-4h-4h-4h-4h-4h-4h-4h-4h-4h-4h-4h-4h-4h-4h-4h-4h-4h-4z" fill="#ffa500"/><path d="M1411 556h2h2h2h2h2h2h1V557h-1h-2h-2h-2h-2h-2h-2z" fill="#fff"/></g>
<g clip-path="url(#c904_11)"><path d="M904.9 586.5H1472.6" stroke="#0000ff" stroke-width="1"/></g>
<g clip-path="url(#c904_12)"><path d="M904.5 614.5H1020.5 V614.5H1020.5 V618.5H1021.5 V618.5H1021.5 V621.5H1177.5 V621.5H1177.5 V628.5H1267.5 V628.5H1267.5 V636.5H1421.5 V636.5H1421.5 V639.5H1422.5 V639.5H1422.5 V650.5H1424.5 V650.5H1424.5 V657.5H1472.5 V657.5" stroke="#0000ff" stroke-width="1" fill="none"/><path d="M1022.5 621V629" stroke="#0000ff" stroke-width="2"/><path d="M1186.7 625V632" stroke="#0000ff" stroke-width="2"/><path d="M1192 625V632" stroke="#0000ff" stroke-width="1"/><path d="M1267.5 625V636" stroke="#0000ff" stroke-width="1"/><path d="M1269.6 636V643.5" stroke="#0000ff" stroke-width="1"/><path d="M1270.6 636V640" stroke="#0000ff" stroke-width="1"/></g>
<g clip-path="url(#c904_13)"><path d="M904.9 685.5H1472.6" stroke="#009000" stroke-width="1"/></g>
<g clip-path="url(#c904_14)"><path d="M904.9 734.5H1472.6" stroke="#009000" stroke-width="1"/></g>
<g clip-path="url(#c904_15)"><path d="M904.9 773.5H1472.6" stroke="#ff0000" stroke-width="1"/><path d="M1188.6 761V777" stroke="#ff0000" stroke-width="1"/><path d="M1190 768V797.4" stroke="#ff0000" stroke-width="2"/></g>
<g clip-path="url(#c904_16)"><path d="M904.9 820.5H1472.6" stroke="#ff0000" stroke-width="1"/><path d="M1189.5 802V829" stroke="#ff0000" stroke-width="1"/><path d="M1190.4 818V837.6" stroke="#ff0000" stroke-width="1"/></g>
<g clip-path="url(#c904_17)"><path d="M904.9 860.5H1472.6" stroke="#ff00ff" stroke-width="1"/></g>
<g font-family='"Liberation Mono", monospace' fill="#000"><text transform="translate(145.8 853.8) scale(1 1.1)" font-size="17">16</text><text transform="translate(167.4 845) scale(1 1.1)" font-size="13.5">h</text><text transform="translate(176.2 853.8) scale(1 1.1)" font-size="17">0</text><text transform="translate(187.4 845) scale(1 1.1)" font-size="13.5">m</text><text transform="translate(196.2 853.8) scale(1 1.1)" font-size="17">0</text><text transform="translate(207.4 845) scale(1 1.1)" font-size="13.5">s</text><text transform="translate(213.9 853.8) scale(1 1.1)" font-size="17">17</text><text transform="translate(235.5 845) scale(1 1.1)" font-size="13.5">h</text><text transform="translate(277 853.8) scale(1 1.1)" font-size="17">18</text><text transform="translate(298.6 845) scale(1 1.1)" font-size="13.5">h</text><text transform="translate(340.1 853.8) scale(1 1.1)" font-size="17">19</text><text transform="translate(361.7 845) scale(1 1.1)" font-size="13.5">h</text><text transform="translate(403.3 853.8) scale(1 1.1)" font-size="17">20</text><text transform="translate(424.9 845) scale(1 1.1)" font-size="13.5">h</text><text transform="translate(466.4 853.8) scale(1 1.1)" font-size="17">21</text><text transform="translate(488 845) scale(1 1.1)" font-size="13.5">h</text><text transform="translate(529.5 853.8) scale(1 1.1)" font-size="17">22</text><text transform="translate(551.1 845) scale(1 1.1)" font-size="13.5">h</text><text transform="translate(592.7 853.8) scale(1 1.1)" font-size="17">23</text><text transform="translate(614.3 845) scale(1 1.1)" font-size="13.5">h</text><text transform="translate(655.2 853.8) scale(1 1.1)" font-size="17">0</text><text transform="translate(666.4 845) scale(1 1.1)" font-size="13.5">h</text><text transform="translate(675.2 853.8) scale(1 1.1)" font-size="17">0</text><text transform="translate(686.4 845) scale(1 1.1)" font-size="13.5">m</text><text transform="translate(112 877.8) scale(1 1.1)" font-size="18">4/6/2026</text><text transform="translate(644 877.8) scale(1 1.1)" font-size="18">4/7</text><text transform="translate(884 905.2) scale(1 1.1)" font-size="17">15</text><text transform="translate(905.6 896.4) scale(1 1.1)" font-size="13.5">h</text><text transform="translate(914.4 905.2) scale(1 1.1)" font-size="17">0</text><text transform="translate(925.6 896.4) scale(1 1.1)" font-size="13.5">m</text><text transform="translate(934.4 905.2) scale(1 1.1)" font-size="17">0</text><text transform="translate(945.6 896.4) scale(1 1.1)" font-size="13.5">s</text><text transform="translate(953.8 905.2) scale(1 1.1)" font-size="17">16</text><text transform="translate(975.4 896.4) scale(1 1.1)" font-size="13.5">h</text><text transform="translate(1016.9 905.2) scale(1 1.1)" font-size="17">17</text><text transform="translate(1038.5 896.4) scale(1 1.1)" font-size="13.5">h</text><text transform="translate(1080 905.2) scale(1 1.1)" font-size="17">18</text><text transform="translate(1101.6 896.4) scale(1 1.1)" font-size="13.5">h</text><text transform="translate(1143.1 905.2) scale(1 1.1)" font-size="17">19</text><text transform="translate(1164.7 896.4) scale(1 1.1)" font-size="13.5">h</text><text transform="translate(1206.2 905.2) scale(1 1.1)" font-size="17">20</text><text transform="translate(1227.8 896.4) scale(1 1.1)" font-size="13.5">h</text><text transform="translate(1269.3 905.2) scale(1 1.1)" font-size="17">21</text><text transform="translate(1290.9 896.4) scale(1 1.1)" font-size="13.5">h</text><text transform="translate(1332.4 905.2) scale(1 1.1)" font-size="17">22</text><text transform="translate(1354 896.4) scale(1 1.1)" font-size="13.5">h</text><text transform="translate(1395.5 905.2) scale(1 1.1)" font-size="17">23</text><text transform="translate(1417.1 896.4) scale(1 1.1)" font-size="13.5">h</text></g>
</svg>
</body></html>
